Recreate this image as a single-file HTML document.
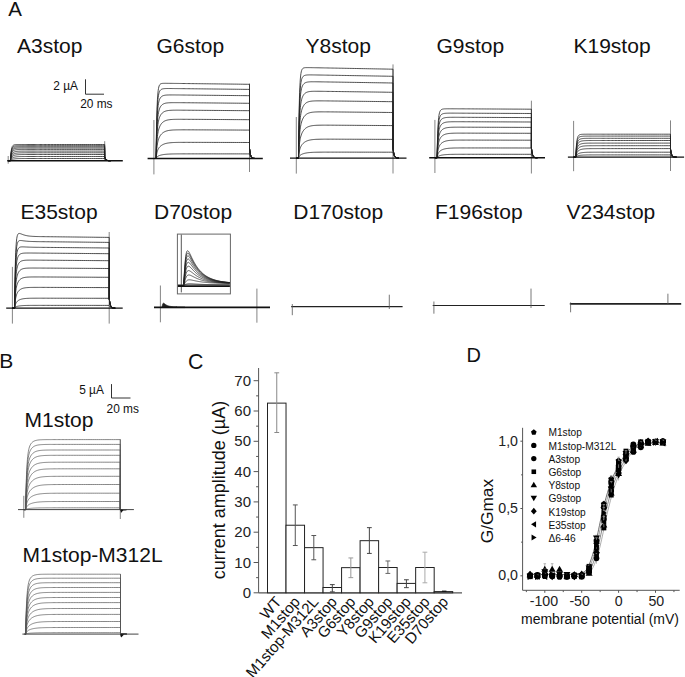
<!DOCTYPE html><html><head><meta charset="utf-8"><style>html,body{margin:0;padding:0;background:#fff;overflow:hidden;width:685px;height:677px;}svg{display:block;}</style></head><body>
<svg width="685" height="677" viewBox="0 0 685 677" font-family='"Liberation Sans", sans-serif'>
<rect width="685" height="677" fill="#fff"/>
<text x="8.2" y="16.4" font-size="20.5" text-anchor="start" fill="#111" >A</text>
<text x="-0.8" y="368" font-size="21" text-anchor="start" fill="#111" >B</text>
<text x="188" y="369.3" font-size="21.3" text-anchor="start" fill="#111" >C</text>
<text x="466.5" y="362" font-size="20" text-anchor="start" fill="#111" >D</text>
<text x="17" y="52.8" font-size="21" text-anchor="start" fill="#111" >A3stop</text>
<text x="156.5" y="52.8" font-size="21" text-anchor="start" fill="#111" >G6stop</text>
<text x="305.5" y="52.8" font-size="21" text-anchor="start" fill="#111" >Y8stop</text>
<text x="436.5" y="52.8" font-size="21" text-anchor="start" fill="#111" >G9stop</text>
<text x="573.5" y="52.8" font-size="21" text-anchor="start" fill="#111" >K19stop</text>
<text x="20.5" y="218.7" font-size="21" text-anchor="start" fill="#111" >E35stop</text>
<text x="154" y="218.7" font-size="21" text-anchor="start" fill="#111" >D70stop</text>
<text x="293.3" y="218.7" font-size="21" text-anchor="start" fill="#111" >D170stop</text>
<text x="435" y="218.7" font-size="21" text-anchor="start" fill="#111" >F196stop</text>
<text x="566.5" y="218.7" font-size="21" text-anchor="start" fill="#111" >V234stop</text>
<text x="53.3" y="89.6" font-size="11.9" text-anchor="start" fill="#111" >2 µA</text>
<text x="80.2" y="108.3" font-size="11.9" text-anchor="start" fill="#111" >20 ms</text>
<path d="M85.5 79.3 V94.2 H104" fill="none" stroke="#333" stroke-width="1"/>
<line x1="8.2" y1="156" x2="8.2" y2="163.7" stroke="#666" stroke-width="0.8" />
<line x1="104.7" y1="141.2" x2="104.7" y2="161" stroke="#666" stroke-width="0.8" />
<path d="M8.2 160.7 L10.4 160.7 L10.4 160.61 L10.42 160.3 L10.45 159.74 L10.5 158.94 L10.56 157.92 L10.64 156.74 L10.74 155.44 L10.86 154.08 L10.99 152.72 L11.15 151.41 L11.33 150.19 L11.52 149.1 L11.74 148.15 L11.97 147.34 L12.23 146.67 L12.51 146.14 L12.81 145.71 L13.13 145.39 L13.48 145.15 L13.85 144.97 L14.24 144.83 L14.65 144.74 L15.09 144.67 L15.55 144.62 L16.03 144.58 L16.54 144.56 L17.07 144.54 L17.63 144.53 L18.21 144.52 L18.81 144.51 L19.44 144.51 L20.09 144.51 L20.77 144.5 L21.48 144.5 L22.21 144.5 L22.96 144.5 L23.74 144.5 L24.55 144.5 L25.38 144.5 L26.24 144.5 L27.12 144.5 L28.03 144.5 L28.97 144.5 L29.93 144.5 L30.92 144.5 L31.94 144.5 L32.98 144.5 L34.05 144.5 L35.15 144.5 L36.28 144.5 L37.43 144.5 L38.61 144.5 L39.82 144.5 L41.05 144.5 L42.31 144.5 L43.6 144.5 L44.92 144.5 L46.27 144.5 L47.64 144.5 L49.05 144.5 L50.48 144.5 L51.94 144.5 L53.43 144.5 L54.94 144.5 L56.49 144.5 L58.06 144.5 L59.67 144.5 L61.3 144.5 L62.96 144.5 L64.65 144.5 L66.37 144.5 L68.12 144.5 L69.9 144.5 L71.7 144.5 L73.54 144.5 L75.41 144.5 L77.3 144.5 L79.23 144.5 L81.19 144.5 L83.17 144.5 L85.19 144.5 L87.24 144.5 L89.31 144.5 L91.42 144.5 L93.56 144.5 L95.72 144.5 L97.92 144.5 L100.15 144.5 L102.41 144.5 L104.7 144.5 L104.7 156.7 L105.2 158.27 L105.7 159.23 L106.2 159.81 L106.7 160.16 L107.2 160.37 L107.7 160.5 L108.2 160.58 L108.7 160.63 L109.2 160.66 L110.7 160.7" fill="none" stroke="#222" stroke-width="0.8" />
<path d="M8.2 160.7 L10.4 160.7 L10.4 160.62 L10.42 160.34 L10.45 159.85 L10.5 159.14 L10.56 158.23 L10.64 157.18 L10.74 156.02 L10.86 154.8 L10.99 153.58 L11.15 152.4 L11.33 151.29 L11.52 150.29 L11.74 149.41 L11.97 148.65 L12.23 148.02 L12.51 147.5 L12.81 147.08 L13.13 146.76 L13.48 146.5 L13.85 146.3 L14.24 146.15 L14.65 146.04 L15.09 145.95 L15.55 145.89 L16.03 145.84 L16.54 145.8 L17.07 145.77 L17.63 145.75 L18.21 145.74 L18.81 145.73 L19.44 145.72 L20.09 145.71 L20.77 145.71 L21.48 145.71 L22.21 145.7 L22.96 145.7 L23.74 145.7 L24.55 145.7 L25.38 145.7 L26.24 145.7 L27.12 145.7 L28.03 145.7 L28.97 145.7 L29.93 145.7 L30.92 145.7 L31.94 145.7 L32.98 145.7 L34.05 145.7 L35.15 145.7 L36.28 145.7 L37.43 145.7 L38.61 145.7 L39.82 145.7 L41.05 145.7 L42.31 145.7 L43.6 145.7 L44.92 145.7 L46.27 145.7 L47.64 145.7 L49.05 145.7 L50.48 145.7 L51.94 145.7 L53.43 145.7 L54.94 145.7 L56.49 145.7 L58.06 145.7 L59.67 145.7 L61.3 145.7 L62.96 145.7 L64.65 145.7 L66.37 145.7 L68.12 145.7 L69.9 145.7 L71.7 145.7 L73.54 145.7 L75.41 145.7 L77.3 145.7 L79.23 145.7 L81.19 145.7 L83.17 145.7 L85.19 145.7 L87.24 145.7 L89.31 145.7 L91.42 145.7 L93.56 145.7 L95.72 145.7 L97.92 145.7 L100.15 145.7 L102.41 145.7 L104.7 145.7 L104.7 156.7 L105.2 158.27 L105.7 159.23 L106.2 159.81 L106.7 160.16 L107.2 160.37 L107.7 160.5 L108.2 160.58 L108.7 160.63 L109.2 160.66 L110.7 160.7" fill="none" stroke="#222" stroke-width="0.8" />
<path d="M8.2 160.7 L10.4 160.7 L10.4 160.63 L10.42 160.39 L10.45 159.95 L10.5 159.32 L10.56 158.52 L10.64 157.59 L10.74 156.56 L10.86 155.47 L10.99 154.38 L11.15 153.32 L11.33 152.31 L11.52 151.4 L11.74 150.58 L11.97 149.88 L12.23 149.28 L12.51 148.78 L12.81 148.37 L13.13 148.04 L13.48 147.77 L13.85 147.56 L14.24 147.39 L14.65 147.26 L15.09 147.15 L15.55 147.07 L16.03 147.01 L16.54 146.96 L17.07 146.92 L17.63 146.89 L18.21 146.86 L18.81 146.85 L19.44 146.83 L20.09 146.82 L20.77 146.82 L21.48 146.81 L22.21 146.81 L22.96 146.81 L23.74 146.8 L24.55 146.8 L25.38 146.8 L26.24 146.8 L27.12 146.8 L28.03 146.8 L28.97 146.8 L29.93 146.8 L30.92 146.8 L31.94 146.8 L32.98 146.8 L34.05 146.8 L35.15 146.8 L36.28 146.8 L37.43 146.8 L38.61 146.8 L39.82 146.8 L41.05 146.8 L42.31 146.8 L43.6 146.8 L44.92 146.8 L46.27 146.8 L47.64 146.8 L49.05 146.8 L50.48 146.8 L51.94 146.8 L53.43 146.8 L54.94 146.8 L56.49 146.8 L58.06 146.8 L59.67 146.8 L61.3 146.8 L62.96 146.8 L64.65 146.8 L66.37 146.8 L68.12 146.8 L69.9 146.8 L71.7 146.8 L73.54 146.8 L75.41 146.8 L77.3 146.8 L79.23 146.8 L81.19 146.8 L83.17 146.8 L85.19 146.8 L87.24 146.8 L89.31 146.8 L91.42 146.8 L93.56 146.8 L95.72 146.8 L97.92 146.8 L100.15 146.8 L102.41 146.8 L104.7 146.8 L104.7 156.7 L105.2 158.27 L105.7 159.23 L106.2 159.81 L106.7 160.16 L107.2 160.37 L107.7 160.5 L108.2 160.58 L108.7 160.63 L109.2 160.66 L110.7 160.7" fill="none" stroke="#222" stroke-width="0.8" />
<path d="M8.2 160.7 L10.4 160.7 L10.4 160.64 L10.42 160.43 L10.45 160.05 L10.5 159.51 L10.56 158.82 L10.64 158 L10.74 157.11 L10.86 156.16 L10.99 155.2 L11.15 154.26 L11.33 153.37 L11.52 152.55 L11.74 151.81 L11.97 151.16 L12.23 150.6 L12.51 150.13 L12.81 149.73 L13.13 149.41 L13.48 149.13 L13.85 148.91 L14.24 148.73 L14.65 148.58 L15.09 148.46 L15.55 148.36 L16.03 148.28 L16.54 148.22 L17.07 148.17 L17.63 148.13 L18.21 148.1 L18.81 148.07 L19.44 148.05 L20.09 148.04 L20.77 148.03 L21.48 148.02 L22.21 148.01 L22.96 148.01 L23.74 148.01 L24.55 148 L25.38 148 L26.24 148 L27.12 148 L28.03 148 L28.97 148 L29.93 148 L30.92 148 L31.94 148 L32.98 148 L34.05 148 L35.15 148 L36.28 148 L37.43 148 L38.61 148 L39.82 148 L41.05 148 L42.31 148 L43.6 148 L44.92 148 L46.27 148 L47.64 148 L49.05 148 L50.48 148 L51.94 148 L53.43 148 L54.94 148 L56.49 148 L58.06 148 L59.67 148 L61.3 148 L62.96 148 L64.65 148 L66.37 148 L68.12 148 L69.9 148 L71.7 148 L73.54 148 L75.41 148 L77.3 148 L79.23 148 L81.19 148 L83.17 148 L85.19 148 L87.24 148 L89.31 148 L91.42 148 L93.56 148 L95.72 148 L97.92 148 L100.15 148 L102.41 148 L104.7 148 L104.7 156.7 L105.2 158.27 L105.7 159.23 L106.2 159.81 L106.7 160.16 L107.2 160.37 L107.7 160.5 L108.2 160.58 L108.7 160.63 L109.2 160.66 L110.7 160.7" fill="none" stroke="#222" stroke-width="0.8" />
<path d="M8.2 160.7 L10.4 160.7 L10.4 160.65 L10.42 160.47 L10.45 160.16 L10.5 159.7 L10.56 159.12 L10.64 158.44 L10.74 157.68 L10.86 156.88 L10.99 156.06 L11.15 155.26 L11.33 154.49 L11.52 153.78 L11.74 153.13 L11.97 152.55 L12.23 152.05 L12.51 151.61 L12.81 151.24 L13.13 150.93 L13.48 150.66 L13.85 150.44 L14.24 150.25 L14.65 150.09 L15.09 149.96 L15.55 149.85 L16.03 149.76 L16.54 149.68 L17.07 149.62 L17.63 149.57 L18.21 149.53 L18.81 149.5 L19.44 149.48 L20.09 149.46 L20.77 149.44 L21.48 149.43 L22.21 149.42 L22.96 149.42 L23.74 149.41 L24.55 149.41 L25.38 149.41 L26.24 149.4 L27.12 149.4 L28.03 149.4 L28.97 149.4 L29.93 149.4 L30.92 149.4 L31.94 149.4 L32.98 149.4 L34.05 149.4 L35.15 149.4 L36.28 149.4 L37.43 149.4 L38.61 149.4 L39.82 149.4 L41.05 149.4 L42.31 149.4 L43.6 149.4 L44.92 149.4 L46.27 149.4 L47.64 149.4 L49.05 149.4 L50.48 149.4 L51.94 149.4 L53.43 149.4 L54.94 149.4 L56.49 149.4 L58.06 149.4 L59.67 149.4 L61.3 149.4 L62.96 149.4 L64.65 149.4 L66.37 149.4 L68.12 149.4 L69.9 149.4 L71.7 149.4 L73.54 149.4 L75.41 149.4 L77.3 149.4 L79.23 149.4 L81.19 149.4 L83.17 149.4 L85.19 149.4 L87.24 149.4 L89.31 149.4 L91.42 149.4 L93.56 149.4 L95.72 149.4 L97.92 149.4 L100.15 149.4 L102.41 149.4 L104.7 149.4 L104.7 156.7 L105.2 158.27 L105.7 159.23 L106.2 159.81 L106.7 160.16 L107.2 160.37 L107.7 160.5 L108.2 160.58 L108.7 160.63 L109.2 160.66 L110.7 160.7" fill="none" stroke="#222" stroke-width="0.8" />
<path d="M8.2 160.7 L10.4 160.7 L10.4 160.66 L10.42 160.52 L10.45 160.27 L10.5 159.91 L10.56 159.44 L10.64 158.9 L10.74 158.29 L10.86 157.65 L10.99 156.99 L11.15 156.34 L11.33 155.71 L11.52 155.12 L11.74 154.58 L11.97 154.09 L12.23 153.66 L12.51 153.27 L12.81 152.94 L13.13 152.66 L13.48 152.41 L13.85 152.2 L14.24 152.01 L14.65 151.86 L15.09 151.72 L15.55 151.61 L16.03 151.51 L16.54 151.43 L17.07 151.37 L17.63 151.31 L18.21 151.26 L18.81 151.23 L19.44 151.2 L20.09 151.17 L20.77 151.16 L21.48 151.14 L22.21 151.13 L22.96 151.12 L23.74 151.12 L24.55 151.11 L25.38 151.11 L26.24 151.11 L27.12 151.1 L28.03 151.1 L28.97 151.1 L29.93 151.1 L30.92 151.1 L31.94 151.1 L32.98 151.1 L34.05 151.1 L35.15 151.1 L36.28 151.1 L37.43 151.1 L38.61 151.1 L39.82 151.1 L41.05 151.1 L42.31 151.1 L43.6 151.1 L44.92 151.1 L46.27 151.1 L47.64 151.1 L49.05 151.1 L50.48 151.1 L51.94 151.1 L53.43 151.1 L54.94 151.1 L56.49 151.1 L58.06 151.1 L59.67 151.1 L61.3 151.1 L62.96 151.1 L64.65 151.1 L66.37 151.1 L68.12 151.1 L69.9 151.1 L71.7 151.1 L73.54 151.1 L75.41 151.1 L77.3 151.1 L79.23 151.1 L81.19 151.1 L83.17 151.1 L85.19 151.1 L87.24 151.1 L89.31 151.1 L91.42 151.1 L93.56 151.1 L95.72 151.1 L97.92 151.1 L100.15 151.1 L102.41 151.1 L104.7 151.1 L104.7 156.7 L105.2 158.27 L105.7 159.23 L106.2 159.81 L106.7 160.16 L107.2 160.37 L107.7 160.5 L108.2 160.58 L108.7 160.63 L109.2 160.66 L110.7 160.7" fill="none" stroke="#222" stroke-width="0.8" />
<path d="M8.2 160.7 L10.4 160.7 L10.4 160.67 L10.42 160.56 L10.45 160.37 L10.5 160.09 L10.56 159.74 L10.64 159.32 L10.74 158.85 L10.86 158.36 L10.99 157.84 L11.15 157.33 L11.33 156.83 L11.52 156.36 L11.74 155.93 L11.97 155.53 L12.23 155.17 L12.51 154.85 L12.81 154.56 L13.13 154.31 L13.48 154.09 L13.85 153.9 L14.24 153.73 L14.65 153.58 L15.09 153.45 L15.55 153.34 L16.03 153.25 L16.54 153.16 L17.07 153.09 L17.63 153.04 L18.21 152.99 L18.81 152.95 L19.44 152.92 L20.09 152.89 L20.77 152.87 L21.48 152.85 L22.21 152.84 L22.96 152.83 L23.74 152.82 L24.55 152.82 L25.38 152.81 L26.24 152.81 L27.12 152.81 L28.03 152.8 L28.97 152.8 L29.93 152.8 L30.92 152.8 L31.94 152.8 L32.98 152.8 L34.05 152.8 L35.15 152.8 L36.28 152.8 L37.43 152.8 L38.61 152.8 L39.82 152.8 L41.05 152.8 L42.31 152.8 L43.6 152.8 L44.92 152.8 L46.27 152.8 L47.64 152.8 L49.05 152.8 L50.48 152.8 L51.94 152.8 L53.43 152.8 L54.94 152.8 L56.49 152.8 L58.06 152.8 L59.67 152.8 L61.3 152.8 L62.96 152.8 L64.65 152.8 L66.37 152.8 L68.12 152.8 L69.9 152.8 L71.7 152.8 L73.54 152.8 L75.41 152.8 L77.3 152.8 L79.23 152.8 L81.19 152.8 L83.17 152.8 L85.19 152.8 L87.24 152.8 L89.31 152.8 L91.42 152.8 L93.56 152.8 L95.72 152.8 L97.92 152.8 L100.15 152.8 L102.41 152.8 L104.7 152.8 L104.7 156.7 L105.2 158.27 L105.7 159.23 L106.2 159.81 L106.7 160.16 L107.2 160.37 L107.7 160.5 L108.2 160.58 L108.7 160.63 L109.2 160.66 L110.7 160.7" fill="none" stroke="#222" stroke-width="0.8" />
<path d="M8.2 160.7 L10.4 160.7 L10.4 160.68 L10.42 160.6 L10.45 160.46 L10.5 160.26 L10.56 160.01 L10.64 159.7 L10.74 159.36 L10.86 158.99 L10.99 158.62 L11.15 158.23 L11.33 157.86 L11.52 157.51 L11.74 157.17 L11.97 156.86 L12.23 156.58 L12.51 156.32 L12.81 156.09 L13.13 155.88 L13.48 155.7 L13.85 155.53 L14.24 155.38 L14.65 155.25 L15.09 155.13 L15.55 155.03 L16.03 154.94 L16.54 154.87 L17.07 154.8 L17.63 154.74 L18.21 154.7 L18.81 154.66 L19.44 154.62 L20.09 154.6 L20.77 154.58 L21.48 154.56 L22.21 154.54 L22.96 154.53 L23.74 154.53 L24.55 154.52 L25.38 154.51 L26.24 154.51 L27.12 154.51 L28.03 154.51 L28.97 154.5 L29.93 154.5 L30.92 154.5 L31.94 154.5 L32.98 154.5 L34.05 154.5 L35.15 154.5 L36.28 154.5 L37.43 154.5 L38.61 154.5 L39.82 154.5 L41.05 154.5 L42.31 154.5 L43.6 154.5 L44.92 154.5 L46.27 154.5 L47.64 154.5 L49.05 154.5 L50.48 154.5 L51.94 154.5 L53.43 154.5 L54.94 154.5 L56.49 154.5 L58.06 154.5 L59.67 154.5 L61.3 154.5 L62.96 154.5 L64.65 154.5 L66.37 154.5 L68.12 154.5 L69.9 154.5 L71.7 154.5 L73.54 154.5 L75.41 154.5 L77.3 154.5 L79.23 154.5 L81.19 154.5 L83.17 154.5 L85.19 154.5 L87.24 154.5 L89.31 154.5 L91.42 154.5 L93.56 154.5 L95.72 154.5 L97.92 154.5 L100.15 154.5 L102.41 154.5 L104.7 154.5 L104.7 156.7 L105.2 158.27 L105.7 159.23 L106.2 159.81 L106.7 160.16 L107.2 160.37 L107.7 160.5 L108.2 160.58 L108.7 160.63 L109.2 160.66 L110.7 160.7" fill="none" stroke="#222" stroke-width="0.8" />
<path d="M8.2 160.7 L10.4 160.7 L10.4 160.69 L10.42 160.64 L10.45 160.55 L10.5 160.43 L10.56 160.27 L10.64 160.08 L10.74 159.87 L10.86 159.64 L10.99 159.4 L11.15 159.16 L11.33 158.92 L11.52 158.68 L11.74 158.46 L11.97 158.26 L12.23 158.06 L12.51 157.89 L12.81 157.72 L13.13 157.58 L13.48 157.44 L13.85 157.32 L14.24 157.21 L14.65 157.11 L15.09 157.02 L15.55 156.94 L16.03 156.87 L16.54 156.81 L17.07 156.76 L17.63 156.71 L18.21 156.67 L18.81 156.64 L19.44 156.61 L20.09 156.59 L20.77 156.57 L21.48 156.55 L22.21 156.54 L22.96 156.53 L23.74 156.52 L24.55 156.52 L25.38 156.51 L26.24 156.51 L27.12 156.51 L28.03 156.51 L28.97 156.5 L29.93 156.5 L30.92 156.5 L31.94 156.5 L32.98 156.5 L34.05 156.5 L35.15 156.5 L36.28 156.5 L37.43 156.5 L38.61 156.5 L39.82 156.5 L41.05 156.5 L42.31 156.5 L43.6 156.5 L44.92 156.5 L46.27 156.5 L47.64 156.5 L49.05 156.5 L50.48 156.5 L51.94 156.5 L53.43 156.5 L54.94 156.5 L56.49 156.5 L58.06 156.5 L59.67 156.5 L61.3 156.5 L62.96 156.5 L64.65 156.5 L66.37 156.5 L68.12 156.5 L69.9 156.5 L71.7 156.5 L73.54 156.5 L75.41 156.5 L77.3 156.5 L79.23 156.5 L81.19 156.5 L83.17 156.5 L85.19 156.5 L87.24 156.5 L89.31 156.5 L91.42 156.5 L93.56 156.5 L95.72 156.5 L97.92 156.5 L100.15 156.5 L102.41 156.5 L104.7 156.5 L104.7 156.7 L105.2 158.27 L105.7 159.23 L106.2 159.81 L106.7 160.16 L107.2 160.37 L107.7 160.5 L108.2 160.58 L108.7 160.63 L109.2 160.66 L110.7 160.7" fill="none" stroke="#222" stroke-width="0.8" />
<path d="M8.2 160.7 L10.4 160.7 L10.4 160.69 L10.42 160.67 L10.45 160.63 L10.5 160.57 L10.56 160.5 L10.64 160.41 L10.74 160.3 L10.86 160.19 L10.99 160.08 L11.15 159.96 L11.33 159.84 L11.52 159.72 L11.74 159.61 L11.97 159.5 L12.23 159.4 L12.51 159.31 L12.81 159.22 L13.13 159.14 L13.48 159.07 L13.85 159 L14.24 158.93 L14.65 158.88 L15.09 158.82 L15.55 158.78 L16.03 158.74 L16.54 158.7 L17.07 158.67 L17.63 158.64 L18.21 158.61 L18.81 158.59 L19.44 158.58 L20.09 158.56 L20.77 158.55 L21.48 158.54 L22.21 158.53 L22.96 158.52 L23.74 158.52 L24.55 158.51 L25.38 158.51 L26.24 158.51 L27.12 158.51 L28.03 158.5 L28.97 158.5 L29.93 158.5 L30.92 158.5 L31.94 158.5 L32.98 158.5 L34.05 158.5 L35.15 158.5 L36.28 158.5 L37.43 158.5 L38.61 158.5 L39.82 158.5 L41.05 158.5 L42.31 158.5 L43.6 158.5 L44.92 158.5 L46.27 158.5 L47.64 158.5 L49.05 158.5 L50.48 158.5 L51.94 158.5 L53.43 158.5 L54.94 158.5 L56.49 158.5 L58.06 158.5 L59.67 158.5 L61.3 158.5 L62.96 158.5 L64.65 158.5 L66.37 158.5 L68.12 158.5 L69.9 158.5 L71.7 158.5 L73.54 158.5 L75.41 158.5 L77.3 158.5 L79.23 158.5 L81.19 158.5 L83.17 158.5 L85.19 158.5 L87.24 158.5 L89.31 158.5 L91.42 158.5 L93.56 158.5 L95.72 158.5 L97.92 158.5 L100.15 158.5 L102.41 158.5 L104.7 158.5 L104.7 158.5 L105.2 159.37 L105.7 159.89 L106.2 160.21 L106.7 160.4 L107.2 160.52 L107.7 160.59 L108.2 160.63 L108.7 160.66 L109.2 160.68 L110.7 160.7" fill="none" stroke="#222" stroke-width="0.8" />
<line x1="7.2" y1="160.7" x2="122.8" y2="160.7" stroke="#111" stroke-width="1.4" />
<line x1="153.9" y1="120" x2="153.9" y2="174.4" stroke="#666" stroke-width="0.8" />
<line x1="249.5" y1="83.5" x2="249.5" y2="172" stroke="#666" stroke-width="0.8" />
<path d="M153.9 158.5 L156.1 158.5 L156.1 158.09 L156.12 156.63 L156.15 154.01 L156.2 150.28 L156.26 145.55 L156.34 140.03 L156.44 133.96 L156.55 127.61 L156.69 121.25 L156.84 115.12 L157.02 109.43 L157.21 104.3 L157.42 99.83 L157.66 96.05 L157.91 92.94 L158.19 90.45 L158.49 88.5 L158.81 87.02 L159.15 85.92 L159.51 85.11 L159.9 84.53 L160.31 84.13 L160.74 83.84 L161.2 83.65 L161.68 83.52 L162.18 83.44 L162.71 83.38 L163.26 83.35 L163.83 83.33 L164.43 83.32 L165.05 83.31 L165.7 83.31 L166.37 83.32 L167.07 83.32 L167.79 83.33 L168.54 83.34 L169.31 83.35 L170.11 83.35 L170.94 83.36 L171.79 83.37 L172.66 83.38 L173.56 83.4 L174.49 83.41 L175.45 83.42 L176.43 83.43 L177.43 83.44 L178.47 83.45 L179.53 83.47 L180.62 83.48 L181.73 83.49 L182.87 83.51 L184.04 83.52 L185.24 83.53 L186.46 83.55 L187.71 83.56 L188.99 83.58 L190.29 83.59 L191.63 83.61 L192.99 83.63 L194.38 83.64 L195.8 83.66 L197.24 83.68 L198.72 83.69 L200.22 83.71 L201.75 83.73 L203.31 83.75 L204.9 83.77 L206.51 83.79 L208.16 83.81 L209.83 83.83 L211.53 83.85 L213.27 83.87 L215.03 83.89 L216.82 83.91 L218.64 83.93 L220.49 83.95 L222.37 83.98 L224.27 84 L226.21 84.02 L228.18 84.05 L230.18 84.07 L232.2 84.09 L234.26 84.12 L236.35 84.14 L238.46 84.17 L240.61 84.19 L242.79 84.22 L244.99 84.25 L247.23 84.27 L249.5 84.3 L249.5 148.5 L250 152.43 L250.5 154.82 L251 156.27 L251.5 157.15 L252 157.68 L252.5 158 L253 158.2 L253.5 158.32 L254 158.39 L255.5 158.5" fill="none" stroke="#222" stroke-width="0.8" />
<path d="M153.9 158.5 L156.1 158.5 L156.1 158.14 L156.12 156.87 L156.15 154.59 L156.2 151.32 L156.26 147.19 L156.34 142.34 L156.44 137 L156.55 131.4 L156.69 125.75 L156.84 120.28 L157.02 115.15 L157.21 110.48 L157.42 106.36 L157.66 102.81 L157.91 99.82 L158.19 97.36 L158.49 95.38 L158.81 93.8 L159.15 92.56 L159.51 91.59 L159.9 90.84 L160.31 90.27 L160.74 89.83 L161.2 89.49 L161.68 89.23 L162.18 89.03 L162.71 88.88 L163.26 88.77 L163.83 88.69 L164.43 88.63 L165.05 88.58 L165.7 88.56 L166.37 88.54 L167.07 88.53 L167.79 88.52 L168.54 88.52 L169.31 88.52 L170.11 88.53 L170.94 88.53 L171.79 88.54 L172.66 88.55 L173.56 88.56 L174.49 88.57 L175.45 88.58 L176.43 88.59 L177.43 88.6 L178.47 88.61 L179.53 88.62 L180.62 88.64 L181.73 88.65 L182.87 88.66 L184.04 88.67 L185.24 88.69 L186.46 88.7 L187.71 88.71 L188.99 88.73 L190.29 88.74 L191.63 88.76 L192.99 88.77 L194.38 88.79 L195.8 88.8 L197.24 88.82 L198.72 88.84 L200.22 88.85 L201.75 88.87 L203.31 88.89 L204.9 88.91 L206.51 88.92 L208.16 88.94 L209.83 88.96 L211.53 88.98 L213.27 89 L215.03 89.02 L216.82 89.04 L218.64 89.06 L220.49 89.08 L222.37 89.1 L224.27 89.12 L226.21 89.14 L228.18 89.16 L230.18 89.19 L232.2 89.21 L234.26 89.23 L236.35 89.25 L238.46 89.28 L240.61 89.3 L242.79 89.33 L244.99 89.35 L247.23 89.37 L249.5 89.4 L249.5 148.5 L250 152.43 L250.5 154.82 L251 156.27 L251.5 157.15 L252 157.68 L252.5 158 L253 158.2 L253.5 158.32 L254 158.39 L255.5 158.5" fill="none" stroke="#222" stroke-width="0.8" />
<path d="M153.9 158.5 L156.1 158.5 L156.1 158.2 L156.12 157.12 L156.15 155.2 L156.2 152.44 L156.26 148.94 L156.34 144.84 L156.44 140.3 L156.55 135.52 L156.69 130.69 L156.84 125.97 L157.02 121.51 L157.21 117.42 L157.42 113.76 L157.66 110.56 L157.91 107.81 L158.19 105.5 L158.49 103.56 L158.81 101.97 L159.15 100.66 L159.51 99.58 L159.9 98.7 L160.31 97.97 L160.74 97.37 L161.2 96.88 L161.68 96.48 L162.18 96.14 L162.71 95.87 L163.26 95.65 L163.83 95.47 L164.43 95.33 L165.05 95.22 L165.7 95.14 L166.37 95.07 L167.07 95.02 L167.79 94.99 L168.54 94.97 L169.31 94.95 L170.11 94.94 L170.94 94.94 L171.79 94.94 L172.66 94.94 L173.56 94.94 L174.49 94.95 L175.45 94.96 L176.43 94.97 L177.43 94.97 L178.47 94.98 L179.53 94.99 L180.62 95.01 L181.73 95.02 L182.87 95.03 L184.04 95.04 L185.24 95.05 L186.46 95.06 L187.71 95.08 L188.99 95.09 L190.29 95.1 L191.63 95.12 L192.99 95.13 L194.38 95.14 L195.8 95.16 L197.24 95.17 L198.72 95.19 L200.22 95.2 L201.75 95.22 L203.31 95.23 L204.9 95.25 L206.51 95.27 L208.16 95.28 L209.83 95.3 L211.53 95.32 L213.27 95.33 L215.03 95.35 L216.82 95.37 L218.64 95.39 L220.49 95.41 L222.37 95.43 L224.27 95.45 L226.21 95.47 L228.18 95.48 L230.18 95.51 L232.2 95.53 L234.26 95.55 L236.35 95.57 L238.46 95.59 L240.61 95.61 L242.79 95.63 L244.99 95.65 L247.23 95.68 L249.5 95.7 L249.5 148.5 L250 152.43 L250.5 154.82 L251 156.27 L251.5 157.15 L252 157.68 L252.5 158 L253 158.2 L253.5 158.32 L254 158.39 L255.5 158.5" fill="none" stroke="#222" stroke-width="0.8" />
<path d="M153.9 158.5 L156.1 158.5 L156.1 158.26 L156.12 157.39 L156.15 155.83 L156.2 153.6 L156.26 150.76 L156.34 147.42 L156.44 143.73 L156.55 139.82 L156.69 135.85 L156.84 131.96 L157.02 128.25 L157.21 124.82 L157.42 121.71 L157.66 118.96 L157.91 116.55 L158.19 114.47 L158.49 112.69 L158.81 111.17 L159.15 109.88 L159.51 108.77 L159.9 107.82 L160.31 107.01 L160.74 106.31 L161.2 105.7 L161.68 105.18 L162.18 104.73 L162.71 104.34 L163.26 104.02 L163.83 103.74 L164.43 103.51 L165.05 103.32 L165.7 103.16 L166.37 103.04 L167.07 102.94 L167.79 102.86 L168.54 102.8 L169.31 102.75 L170.11 102.72 L170.94 102.69 L171.79 102.68 L172.66 102.67 L173.56 102.66 L174.49 102.66 L175.45 102.66 L176.43 102.66 L177.43 102.67 L178.47 102.68 L179.53 102.68 L180.62 102.69 L181.73 102.7 L182.87 102.71 L184.04 102.72 L185.24 102.73 L186.46 102.74 L187.71 102.75 L188.99 102.76 L190.29 102.78 L191.63 102.79 L192.99 102.8 L194.38 102.81 L195.8 102.82 L197.24 102.84 L198.72 102.85 L200.22 102.86 L201.75 102.88 L203.31 102.89 L204.9 102.9 L206.51 102.92 L208.16 102.93 L209.83 102.95 L211.53 102.96 L213.27 102.98 L215.03 102.99 L216.82 103.01 L218.64 103.03 L220.49 103.04 L222.37 103.06 L224.27 103.08 L226.21 103.09 L228.18 103.11 L230.18 103.13 L232.2 103.15 L234.26 103.16 L236.35 103.18 L238.46 103.2 L240.61 103.22 L242.79 103.24 L244.99 103.26 L247.23 103.28 L249.5 103.3 L249.5 148.5 L250 152.43 L250.5 154.82 L251 156.27 L251.5 157.15 L252 157.68 L252.5 158 L253 158.2 L253.5 158.32 L254 158.39 L255.5 158.5" fill="none" stroke="#222" stroke-width="0.8" />
<path d="M153.9 158.5 L156.1 158.5 L156.1 158.31 L156.12 157.62 L156.15 156.39 L156.2 154.63 L156.26 152.38 L156.34 149.73 L156.44 146.79 L156.55 143.67 L156.69 140.49 L156.84 137.35 L157.02 134.34 L157.21 131.53 L157.42 128.96 L157.66 126.64 L157.91 124.59 L158.19 122.77 L158.49 121.18 L158.81 119.79 L159.15 118.57 L159.51 117.49 L159.9 116.54 L160.31 115.69 L160.74 114.93 L161.2 114.26 L161.68 113.66 L162.18 113.12 L162.71 112.65 L163.26 112.24 L163.83 111.88 L164.43 111.57 L165.05 111.31 L165.7 111.08 L166.37 110.89 L167.07 110.73 L167.79 110.61 L168.54 110.5 L169.31 110.42 L170.11 110.35 L170.94 110.3 L171.79 110.26 L172.66 110.23 L173.56 110.2 L174.49 110.19 L175.45 110.18 L176.43 110.17 L177.43 110.17 L178.47 110.17 L179.53 110.18 L180.62 110.18 L181.73 110.19 L182.87 110.19 L184.04 110.2 L185.24 110.21 L186.46 110.22 L187.71 110.23 L188.99 110.24 L190.29 110.25 L191.63 110.26 L192.99 110.27 L194.38 110.28 L195.8 110.29 L197.24 110.3 L198.72 110.31 L200.22 110.32 L201.75 110.33 L203.31 110.35 L204.9 110.36 L206.51 110.37 L208.16 110.38 L209.83 110.4 L211.53 110.41 L213.27 110.42 L215.03 110.44 L216.82 110.45 L218.64 110.46 L220.49 110.48 L222.37 110.49 L224.27 110.51 L226.21 110.52 L228.18 110.54 L230.18 110.55 L232.2 110.57 L234.26 110.58 L236.35 110.6 L238.46 110.62 L240.61 110.63 L242.79 110.65 L244.99 110.67 L247.23 110.68 L249.5 110.7 L249.5 148.5 L250 152.43 L250.5 154.82 L251 156.27 L251.5 157.15 L252 157.68 L252.5 158 L253 158.2 L253.5 158.32 L254 158.39 L255.5 158.5" fill="none" stroke="#222" stroke-width="0.8" />
<path d="M153.9 158.5 L156.1 158.5 L156.1 158.36 L156.12 157.86 L156.15 156.95 L156.2 155.66 L156.26 154.01 L156.34 152.06 L156.44 149.89 L156.55 147.58 L156.69 145.21 L156.84 142.86 L157.02 140.59 L157.21 138.45 L157.42 136.47 L157.66 134.66 L157.91 133.03 L158.19 131.56 L158.49 130.25 L158.81 129.07 L159.15 128.01 L159.51 127.05 L159.9 126.17 L160.31 125.38 L160.74 124.65 L161.2 123.99 L161.68 123.39 L162.18 122.84 L162.71 122.34 L163.26 121.9 L163.83 121.5 L164.43 121.15 L165.05 120.84 L165.7 120.58 L166.37 120.35 L167.07 120.15 L167.79 119.98 L168.54 119.84 L169.31 119.72 L170.11 119.62 L170.94 119.54 L171.79 119.48 L172.66 119.43 L173.56 119.39 L174.49 119.36 L175.45 119.34 L176.43 119.32 L177.43 119.31 L178.47 119.3 L179.53 119.3 L180.62 119.29 L181.73 119.29 L182.87 119.3 L184.04 119.3 L185.24 119.31 L186.46 119.31 L187.71 119.32 L188.99 119.33 L190.29 119.33 L191.63 119.34 L192.99 119.35 L194.38 119.36 L195.8 119.37 L197.24 119.37 L198.72 119.38 L200.22 119.39 L201.75 119.4 L203.31 119.41 L204.9 119.42 L206.51 119.43 L208.16 119.44 L209.83 119.45 L211.53 119.46 L213.27 119.47 L215.03 119.49 L216.82 119.5 L218.64 119.51 L220.49 119.52 L222.37 119.53 L224.27 119.54 L226.21 119.55 L228.18 119.57 L230.18 119.58 L232.2 119.59 L234.26 119.61 L236.35 119.62 L238.46 119.63 L240.61 119.64 L242.79 119.66 L244.99 119.67 L247.23 119.69 L249.5 119.7 L249.5 148.5 L250 152.43 L250.5 154.82 L251 156.27 L251.5 157.15 L252 157.68 L252.5 158 L253 158.2 L253.5 158.32 L254 158.39 L255.5 158.5" fill="none" stroke="#222" stroke-width="0.8" />
<path d="M153.9 158.5 L156.1 158.5 L156.1 158.41 L156.12 158.08 L156.15 157.49 L156.2 156.65 L156.26 155.56 L156.34 154.29 L156.44 152.86 L156.55 151.33 L156.69 149.76 L156.84 148.18 L157.02 146.65 L157.21 145.2 L157.42 143.83 L157.66 142.57 L157.91 141.41 L158.19 140.35 L158.49 139.38 L158.81 138.49 L159.15 137.67 L159.51 136.91 L159.9 136.21 L160.31 135.56 L160.74 134.95 L161.2 134.39 L161.68 133.87 L162.18 133.38 L162.71 132.94 L163.26 132.53 L163.83 132.17 L164.43 131.84 L165.05 131.54 L165.7 131.27 L166.37 131.04 L167.07 130.84 L167.79 130.66 L168.54 130.51 L169.31 130.38 L170.11 130.27 L170.94 130.18 L171.79 130.1 L172.66 130.03 L173.56 129.98 L174.49 129.94 L175.45 129.91 L176.43 129.88 L177.43 129.86 L178.47 129.85 L179.53 129.83 L180.62 129.83 L181.73 129.82 L182.87 129.82 L184.04 129.82 L185.24 129.82 L186.46 129.82 L187.71 129.83 L188.99 129.83 L190.29 129.83 L191.63 129.84 L192.99 129.84 L194.38 129.85 L195.8 129.86 L197.24 129.86 L198.72 129.87 L200.22 129.88 L201.75 129.88 L203.31 129.89 L204.9 129.9 L206.51 129.9 L208.16 129.91 L209.83 129.92 L211.53 129.93 L213.27 129.93 L215.03 129.94 L216.82 129.95 L218.64 129.96 L220.49 129.97 L222.37 129.98 L224.27 129.98 L226.21 129.99 L228.18 130 L230.18 130.01 L232.2 130.02 L234.26 130.03 L236.35 130.04 L238.46 130.05 L240.61 130.06 L242.79 130.07 L244.99 130.08 L247.23 130.09 L249.5 130.1 L249.5 148.5 L250 152.43 L250.5 154.82 L251 156.27 L251.5 157.15 L252 157.68 L252.5 158 L253 158.2 L253.5 158.32 L254 158.39 L255.5 158.5" fill="none" stroke="#222" stroke-width="0.8" />
<path d="M153.9 158.5 L156.1 158.5 L156.1 158.45 L156.12 158.29 L156.15 158 L156.2 157.58 L156.26 157.05 L156.34 156.41 L156.44 155.7 L156.55 154.93 L156.69 154.13 L156.84 153.33 L157.02 152.55 L157.21 151.79 L157.42 151.07 L157.66 150.4 L157.91 149.77 L158.19 149.18 L158.49 148.63 L158.81 148.12 L159.15 147.64 L159.51 147.19 L159.9 146.76 L160.31 146.36 L160.74 145.98 L161.2 145.62 L161.68 145.29 L162.18 144.97 L162.71 144.68 L163.26 144.4 L163.83 144.15 L164.43 143.92 L165.05 143.71 L165.7 143.53 L166.37 143.36 L167.07 143.21 L167.79 143.07 L168.54 142.96 L169.31 142.85 L170.11 142.77 L170.94 142.69 L171.79 142.63 L172.66 142.57 L173.56 142.52 L174.49 142.49 L175.45 142.46 L176.43 142.43 L177.43 142.41 L178.47 142.39 L179.53 142.38 L180.62 142.37 L181.73 142.36 L182.87 142.36 L184.04 142.35 L185.24 142.35 L186.46 142.35 L187.71 142.35 L188.99 142.35 L190.29 142.35 L191.63 142.36 L192.99 142.36 L194.38 142.36 L195.8 142.36 L197.24 142.37 L198.72 142.37 L200.22 142.37 L201.75 142.38 L203.31 142.38 L204.9 142.39 L206.51 142.39 L208.16 142.39 L209.83 142.4 L211.53 142.4 L213.27 142.41 L215.03 142.41 L216.82 142.42 L218.64 142.42 L220.49 142.43 L222.37 142.43 L224.27 142.44 L226.21 142.44 L228.18 142.45 L230.18 142.45 L232.2 142.46 L234.26 142.46 L236.35 142.47 L238.46 142.47 L240.61 142.48 L242.79 142.48 L244.99 142.49 L247.23 142.49 L249.5 142.5 L249.5 148.5 L250 152.43 L250.5 154.82 L251 156.27 L251.5 157.15 L252 157.68 L252.5 158 L253 158.2 L253.5 158.32 L254 158.39 L255.5 158.5" fill="none" stroke="#222" stroke-width="0.8" />
<path d="M153.9 158.5 L156.1 158.5 L156.1 158.49 L156.12 158.45 L156.15 158.38 L156.2 158.27 L156.26 158.14 L156.34 157.98 L156.44 157.8 L156.55 157.61 L156.69 157.41 L156.84 157.2 L157.02 157 L157.21 156.8 L157.42 156.61 L157.66 156.42 L157.91 156.25 L158.19 156.09 L158.49 155.93 L158.81 155.78 L159.15 155.64 L159.51 155.5 L159.9 155.37 L160.31 155.25 L160.74 155.13 L161.2 155.01 L161.68 154.91 L162.18 154.8 L162.71 154.71 L163.26 154.62 L163.83 154.53 L164.43 154.45 L165.05 154.38 L165.7 154.32 L166.37 154.26 L167.07 154.2 L167.79 154.15 L168.54 154.11 L169.31 154.07 L170.11 154.04 L170.94 154.01 L171.79 153.98 L172.66 153.96 L173.56 153.94 L174.49 153.93 L175.45 153.91 L176.43 153.9 L177.43 153.89 L178.47 153.88 L179.53 153.88 L180.62 153.87 L181.73 153.87 L182.87 153.87 L184.04 153.86 L185.24 153.86 L186.46 153.86 L187.71 153.86 L188.99 153.86 L190.29 153.86 L191.63 153.86 L192.99 153.86 L194.38 153.86 L195.8 153.86 L197.24 153.86 L198.72 153.86 L200.22 153.86 L201.75 153.87 L203.31 153.87 L204.9 153.87 L206.51 153.87 L208.16 153.87 L209.83 153.87 L211.53 153.87 L213.27 153.87 L215.03 153.87 L216.82 153.88 L218.64 153.88 L220.49 153.88 L222.37 153.88 L224.27 153.88 L226.21 153.88 L228.18 153.88 L230.18 153.89 L232.2 153.89 L234.26 153.89 L236.35 153.89 L238.46 153.89 L240.61 153.89 L242.79 153.9 L244.99 153.9 L247.23 153.9 L249.5 153.9 L249.5 153.9 L250 155.71 L250.5 156.81 L251 157.47 L251.5 157.88 L252 158.12 L252.5 158.27 L253 158.36 L253.5 158.42 L254 158.45 L255.5 158.5" fill="none" stroke="#222" stroke-width="0.8" />
<line x1="147.6" y1="158.5" x2="262.8" y2="158.5" stroke="#111" stroke-width="1.4" />
<line x1="296.3" y1="117" x2="296.3" y2="173.6" stroke="#666" stroke-width="0.8" />
<line x1="393" y1="64.4" x2="393" y2="173.5" stroke="#666" stroke-width="0.8" />
<path d="M296.3 158.1 L298.5 158.1 L298.5 157.6 L298.52 155.82 L298.55 152.64 L298.6 148.09 L298.66 142.34 L298.74 135.64 L298.84 128.27 L298.96 120.58 L299.1 112.89 L299.25 105.5 L299.43 98.63 L299.62 92.48 L299.84 87.12 L300.08 82.61 L300.33 78.9 L300.61 75.95 L300.92 73.65 L301.24 71.9 L301.59 70.61 L301.95 69.67 L302.35 69 L302.76 68.53 L303.2 68.2 L303.66 67.98 L304.14 67.84 L304.65 67.74 L305.18 67.68 L305.74 67.64 L306.32 67.62 L306.93 67.62 L307.56 67.61 L308.21 67.62 L308.9 67.63 L309.6 67.64 L310.33 67.65 L311.09 67.66 L311.87 67.67 L312.68 67.69 L313.51 67.7 L314.37 67.72 L315.26 67.74 L316.17 67.75 L317.11 67.77 L318.07 67.79 L319.07 67.81 L320.09 67.83 L321.13 67.85 L322.2 67.87 L323.3 67.89 L324.43 67.91 L325.59 67.93 L326.77 67.95 L327.98 67.98 L329.22 68 L330.48 68.02 L331.77 68.05 L333.1 68.07 L334.45 68.1 L335.82 68.12 L337.23 68.15 L338.66 68.18 L340.13 68.21 L341.62 68.23 L343.14 68.26 L344.69 68.29 L346.26 68.32 L347.87 68.35 L349.51 68.38 L351.17 68.41 L352.86 68.44 L354.59 68.48 L356.34 68.51 L358.12 68.54 L359.93 68.58 L361.78 68.61 L363.65 68.65 L365.55 68.68 L367.48 68.72 L369.44 68.76 L371.43 68.79 L373.45 68.83 L375.5 68.87 L377.58 68.91 L379.69 68.95 L381.83 68.99 L384.01 69.03 L386.21 69.07 L388.44 69.11 L390.71 69.16 L393 69.2 L393 148.1 L393.5 152.03 L394 154.42 L394.5 155.87 L395 156.75 L395.5 157.28 L396 157.6 L396.5 157.8 L397 157.92 L397.5 157.99 L399 158.1" fill="none" stroke="#222" stroke-width="0.8" />
<path d="M296.3 158.1 L298.5 158.1 L298.5 157.67 L298.52 156.13 L298.55 153.39 L298.6 149.47 L298.66 144.5 L298.74 138.69 L298.84 132.28 L298.96 125.57 L299.1 118.83 L299.25 112.3 L299.43 106.19 L299.62 100.64 L299.84 95.76 L300.08 91.56 L300.33 88.04 L300.61 85.16 L300.92 82.83 L301.24 80.98 L301.59 79.53 L301.95 78.41 L302.35 77.54 L302.76 76.88 L303.2 76.37 L303.66 75.98 L304.14 75.68 L304.65 75.46 L305.18 75.29 L305.74 75.16 L306.32 75.07 L306.93 75 L307.56 74.96 L308.21 74.93 L308.9 74.91 L309.6 74.9 L310.33 74.9 L311.09 74.9 L311.87 74.91 L312.68 74.92 L313.51 74.93 L314.37 74.94 L315.26 74.96 L316.17 74.97 L317.11 74.99 L318.07 75 L319.07 75.02 L320.09 75.04 L321.13 75.06 L322.2 75.07 L323.3 75.09 L324.43 75.11 L325.59 75.13 L326.77 75.15 L327.98 75.17 L329.22 75.2 L330.48 75.22 L331.77 75.24 L333.1 75.26 L334.45 75.29 L335.82 75.31 L337.23 75.33 L338.66 75.36 L340.13 75.38 L341.62 75.41 L343.14 75.44 L344.69 75.46 L346.26 75.49 L347.87 75.52 L349.51 75.55 L351.17 75.58 L352.86 75.61 L354.59 75.63 L356.34 75.67 L358.12 75.7 L359.93 75.73 L361.78 75.76 L363.65 75.79 L365.55 75.82 L367.48 75.86 L369.44 75.89 L371.43 75.93 L373.45 75.96 L375.5 76 L377.58 76.03 L379.69 76.07 L381.83 76.11 L384.01 76.14 L386.21 76.18 L388.44 76.22 L390.71 76.26 L393 76.3 L393 148.1 L393.5 152.03 L394 154.42 L394.5 155.87 L395 156.75 L395.5 157.28 L396 157.6 L396.5 157.8 L397 157.92 L397.5 157.99 L399 158.1" fill="none" stroke="#222" stroke-width="0.8" />
<path d="M296.3 158.1 L298.5 158.1 L298.5 157.73 L298.52 156.43 L298.55 154.09 L298.6 150.74 L298.66 146.49 L298.74 141.52 L298.84 136.02 L298.96 130.24 L299.1 124.4 L299.25 118.71 L299.43 113.35 L299.62 108.44 L299.84 104.05 L300.08 100.23 L300.33 96.95 L300.61 94.19 L300.92 91.9 L301.24 90.01 L301.59 88.45 L301.95 87.18 L302.35 86.14 L302.76 85.28 L303.2 84.58 L303.66 84 L304.14 83.53 L304.65 83.14 L305.18 82.82 L305.74 82.56 L306.32 82.36 L306.93 82.2 L307.56 82.07 L308.21 81.97 L308.9 81.9 L309.6 81.85 L310.33 81.81 L311.09 81.79 L311.87 81.78 L312.68 81.77 L313.51 81.77 L314.37 81.77 L315.26 81.78 L316.17 81.79 L317.11 81.8 L318.07 81.81 L319.07 81.83 L320.09 81.84 L321.13 81.86 L322.2 81.88 L323.3 81.89 L324.43 81.91 L325.59 81.93 L326.77 81.95 L327.98 81.97 L329.22 81.99 L330.48 82.01 L331.77 82.03 L333.1 82.05 L334.45 82.07 L335.82 82.09 L337.23 82.11 L338.66 82.14 L340.13 82.16 L341.62 82.18 L343.14 82.21 L344.69 82.23 L346.26 82.26 L347.87 82.28 L349.51 82.31 L351.17 82.34 L352.86 82.36 L354.59 82.39 L356.34 82.42 L358.12 82.45 L359.93 82.47 L361.78 82.5 L363.65 82.53 L365.55 82.56 L367.48 82.59 L369.44 82.63 L371.43 82.66 L373.45 82.69 L375.5 82.72 L377.58 82.75 L379.69 82.79 L381.83 82.82 L384.01 82.86 L386.21 82.89 L388.44 82.93 L390.71 82.96 L393 83 L393 148.1 L393.5 152.03 L394 154.42 L394.5 155.87 L395 156.75 L395.5 157.28 L396 157.6 L396.5 157.8 L397 157.92 L397.5 157.99 L399 158.1" fill="none" stroke="#222" stroke-width="0.8" />
<path d="M296.3 158.1 L298.5 158.1 L298.5 157.8 L298.52 156.75 L298.55 154.86 L298.6 152.16 L298.66 148.73 L298.74 144.7 L298.84 140.23 L298.96 135.52 L299.1 130.74 L299.25 126.06 L299.43 121.62 L299.62 117.51 L299.84 113.79 L300.08 110.5 L300.33 107.64 L300.61 105.17 L300.92 103.05 L301.24 101.25 L301.59 99.72 L301.95 98.41 L302.35 97.29 L302.76 96.33 L303.2 95.5 L303.66 94.78 L304.14 94.17 L304.65 93.64 L305.18 93.19 L305.74 92.8 L306.32 92.48 L306.93 92.22 L307.56 92 L308.21 91.82 L308.9 91.67 L309.6 91.56 L310.33 91.47 L311.09 91.4 L311.87 91.35 L312.68 91.32 L313.51 91.29 L314.37 91.28 L315.26 91.27 L316.17 91.27 L317.11 91.27 L318.07 91.28 L319.07 91.28 L320.09 91.29 L321.13 91.31 L322.2 91.32 L323.3 91.33 L324.43 91.35 L325.59 91.36 L326.77 91.38 L327.98 91.4 L329.22 91.41 L330.48 91.43 L331.77 91.45 L333.1 91.47 L334.45 91.48 L335.82 91.5 L337.23 91.52 L338.66 91.54 L340.13 91.56 L341.62 91.58 L343.14 91.61 L344.69 91.63 L346.26 91.65 L347.87 91.67 L349.51 91.69 L351.17 91.72 L352.86 91.74 L354.59 91.77 L356.34 91.79 L358.12 91.81 L359.93 91.84 L361.78 91.87 L363.65 91.89 L365.55 91.92 L367.48 91.94 L369.44 91.97 L371.43 92 L373.45 92.03 L375.5 92.06 L377.58 92.09 L379.69 92.11 L381.83 92.14 L384.01 92.17 L386.21 92.21 L388.44 92.24 L390.71 92.27 L393 92.3 L393 148.1 L393.5 152.03 L394 154.42 L394.5 155.87 L395 156.75 L395.5 157.28 L396 157.6 L396.5 157.8 L397 157.92 L397.5 157.99 L399 158.1" fill="none" stroke="#222" stroke-width="0.8" />
<path d="M296.3 158.1 L298.5 158.1 L298.5 157.87 L298.52 157.05 L298.55 155.57 L298.6 153.45 L298.66 150.76 L298.74 147.6 L298.84 144.08 L298.96 140.36 L299.1 136.57 L299.25 132.83 L299.43 129.26 L299.62 125.92 L299.84 122.88 L300.08 120.14 L300.33 117.71 L300.61 115.57 L300.92 113.7 L301.24 112.06 L301.59 110.62 L301.95 109.36 L302.35 108.23 L302.76 107.24 L303.2 106.35 L303.66 105.56 L304.14 104.85 L304.65 104.23 L305.18 103.68 L305.74 103.2 L306.32 102.78 L306.93 102.43 L307.56 102.12 L308.21 101.86 L308.9 101.64 L309.6 101.46 L310.33 101.32 L311.09 101.2 L311.87 101.11 L312.68 101.03 L313.51 100.97 L314.37 100.93 L315.26 100.9 L316.17 100.88 L317.11 100.87 L318.07 100.86 L319.07 100.86 L320.09 100.86 L321.13 100.86 L322.2 100.87 L323.3 100.88 L324.43 100.89 L325.59 100.9 L326.77 100.91 L327.98 100.93 L329.22 100.94 L330.48 100.95 L331.77 100.97 L333.1 100.99 L334.45 101 L335.82 101.02 L337.23 101.03 L338.66 101.05 L340.13 101.07 L341.62 101.09 L343.14 101.1 L344.69 101.12 L346.26 101.14 L347.87 101.16 L349.51 101.18 L351.17 101.2 L352.86 101.22 L354.59 101.24 L356.34 101.26 L358.12 101.28 L359.93 101.31 L361.78 101.33 L363.65 101.35 L365.55 101.37 L367.48 101.4 L369.44 101.42 L371.43 101.44 L373.45 101.47 L375.5 101.49 L377.58 101.52 L379.69 101.54 L381.83 101.57 L384.01 101.59 L386.21 101.62 L388.44 101.65 L390.71 101.67 L393 101.7 L393 148.1 L393.5 152.03 L394 154.42 L394.5 155.87 L395 156.75 L395.5 157.28 L396 157.6 L396.5 157.8 L397 157.92 L397.5 157.99 L399 158.1" fill="none" stroke="#222" stroke-width="0.8" />
<path d="M296.3 158.1 L298.5 158.1 L298.5 157.93 L298.52 157.33 L298.55 156.25 L298.6 154.71 L298.66 152.74 L298.74 150.42 L298.84 147.83 L298.96 145.08 L299.1 142.27 L299.25 139.48 L299.43 136.79 L299.62 134.26 L299.84 131.92 L300.08 129.79 L300.33 127.87 L300.61 126.15 L300.92 124.6 L301.24 123.22 L301.59 121.97 L301.95 120.84 L302.35 119.82 L302.76 118.89 L303.2 118.03 L303.66 117.26 L304.14 116.55 L304.65 115.91 L305.18 115.33 L305.74 114.81 L306.32 114.35 L306.93 113.95 L307.56 113.59 L308.21 113.28 L308.9 113.02 L309.6 112.79 L310.33 112.6 L311.09 112.44 L311.87 112.3 L312.68 112.2 L313.51 112.11 L314.37 112.04 L315.26 111.98 L316.17 111.94 L317.11 111.91 L318.07 111.88 L319.07 111.87 L320.09 111.86 L321.13 111.85 L322.2 111.85 L323.3 111.85 L324.43 111.86 L325.59 111.86 L326.77 111.87 L327.98 111.88 L329.22 111.89 L330.48 111.9 L331.77 111.91 L333.1 111.92 L334.45 111.94 L335.82 111.95 L337.23 111.96 L338.66 111.98 L340.13 111.99 L341.62 112 L343.14 112.02 L344.69 112.03 L346.26 112.05 L347.87 112.06 L349.51 112.08 L351.17 112.1 L352.86 112.11 L354.59 112.13 L356.34 112.15 L358.12 112.16 L359.93 112.18 L361.78 112.2 L363.65 112.22 L365.55 112.24 L367.48 112.25 L369.44 112.27 L371.43 112.29 L373.45 112.31 L375.5 112.33 L377.58 112.35 L379.69 112.37 L381.83 112.39 L384.01 112.41 L386.21 112.43 L388.44 112.46 L390.71 112.48 L393 112.5 L393 148.1 L393.5 152.03 L394 154.42 L394.5 155.87 L395 156.75 L395.5 157.28 L396 157.6 L396.5 157.8 L397 157.92 L397.5 157.99 L399 158.1" fill="none" stroke="#222" stroke-width="0.8" />
<path d="M296.3 158.1 L298.5 158.1 L298.5 157.99 L298.52 157.61 L298.55 156.93 L298.6 155.94 L298.66 154.69 L298.74 153.2 L298.84 151.55 L298.96 149.78 L299.1 147.96 L299.25 146.14 L299.43 144.38 L299.62 142.7 L299.84 141.13 L300.08 139.67 L300.33 138.34 L300.61 137.13 L300.92 136.01 L301.24 134.99 L301.59 134.06 L301.95 133.19 L302.35 132.39 L302.76 131.64 L303.2 130.95 L303.66 130.3 L304.14 129.7 L304.65 129.15 L305.18 128.65 L305.74 128.18 L306.32 127.77 L306.93 127.39 L307.56 127.06 L308.21 126.76 L308.9 126.5 L309.6 126.27 L310.33 126.07 L311.09 125.9 L311.87 125.76 L312.68 125.63 L313.51 125.53 L314.37 125.45 L315.26 125.38 L316.17 125.32 L317.11 125.28 L318.07 125.24 L319.07 125.21 L320.09 125.19 L321.13 125.18 L322.2 125.17 L323.3 125.16 L324.43 125.16 L325.59 125.16 L326.77 125.16 L327.98 125.17 L329.22 125.17 L330.48 125.18 L331.77 125.18 L333.1 125.19 L334.45 125.2 L335.82 125.21 L337.23 125.22 L338.66 125.23 L340.13 125.24 L341.62 125.25 L343.14 125.26 L344.69 125.27 L346.26 125.28 L347.87 125.29 L349.51 125.3 L351.17 125.31 L352.86 125.32 L354.59 125.34 L356.34 125.35 L358.12 125.36 L359.93 125.37 L361.78 125.39 L363.65 125.4 L365.55 125.41 L367.48 125.42 L369.44 125.44 L371.43 125.45 L373.45 125.47 L375.5 125.48 L377.58 125.49 L379.69 125.51 L381.83 125.52 L384.01 125.54 L386.21 125.55 L388.44 125.57 L390.71 125.58 L393 125.6 L393 148.1 L393.5 152.03 L394 154.42 L394.5 155.87 L395 156.75 L395.5 157.28 L396 157.6 L396.5 157.8 L397 157.92 L397.5 157.99 L399 158.1" fill="none" stroke="#222" stroke-width="0.8" />
<path d="M296.3 158.1 L298.5 158.1 L298.5 158.05 L298.52 157.85 L298.55 157.51 L298.6 157.01 L298.66 156.37 L298.74 155.62 L298.84 154.77 L298.96 153.87 L299.1 152.93 L299.25 151.98 L299.43 151.06 L299.62 150.16 L299.84 149.32 L300.08 148.53 L300.33 147.79 L300.61 147.1 L300.92 146.46 L301.24 145.86 L301.59 145.29 L301.95 144.76 L302.35 144.27 L302.76 143.79 L303.2 143.35 L303.66 142.93 L304.14 142.53 L304.65 142.16 L305.18 141.82 L305.74 141.5 L306.32 141.21 L306.93 140.94 L307.56 140.7 L308.21 140.49 L308.9 140.29 L309.6 140.12 L310.33 139.96 L311.09 139.83 L311.87 139.71 L312.68 139.61 L313.51 139.53 L314.37 139.46 L315.26 139.39 L316.17 139.34 L317.11 139.3 L318.07 139.27 L319.07 139.24 L320.09 139.22 L321.13 139.2 L322.2 139.19 L323.3 139.18 L324.43 139.17 L325.59 139.16 L326.77 139.16 L327.98 139.16 L329.22 139.16 L330.48 139.16 L331.77 139.17 L333.1 139.17 L334.45 139.17 L335.82 139.18 L337.23 139.18 L338.66 139.19 L340.13 139.19 L341.62 139.2 L343.14 139.2 L344.69 139.21 L346.26 139.22 L347.87 139.22 L349.51 139.23 L351.17 139.23 L352.86 139.24 L354.59 139.25 L356.34 139.25 L358.12 139.26 L359.93 139.27 L361.78 139.28 L363.65 139.28 L365.55 139.29 L367.48 139.3 L369.44 139.31 L371.43 139.31 L373.45 139.32 L375.5 139.33 L377.58 139.34 L379.69 139.35 L381.83 139.36 L384.01 139.36 L386.21 139.37 L388.44 139.38 L390.71 139.39 L393 139.4 L393 148.1 L393.5 152.03 L394 154.42 L394.5 155.87 L395 156.75 L395.5 157.28 L396 157.6 L396.5 157.8 L397 157.92 L397.5 157.99 L399 158.1" fill="none" stroke="#222" stroke-width="0.8" />
<path d="M296.3 158.1 L298.5 158.1 L298.5 158.09 L298.52 158.03 L298.55 157.94 L298.6 157.8 L298.66 157.63 L298.74 157.42 L298.84 157.19 L298.96 156.94 L299.1 156.68 L299.25 156.41 L299.43 156.15 L299.62 155.89 L299.84 155.64 L300.08 155.41 L300.33 155.18 L300.61 154.97 L300.92 154.77 L301.24 154.58 L301.59 154.4 L301.95 154.22 L302.35 154.05 L302.76 153.89 L303.2 153.74 L303.66 153.59 L304.14 153.45 L304.65 153.32 L305.18 153.2 L305.74 153.08 L306.32 152.97 L306.93 152.87 L307.56 152.78 L308.21 152.7 L308.9 152.62 L309.6 152.55 L310.33 152.49 L311.09 152.44 L311.87 152.39 L312.68 152.35 L313.51 152.31 L314.37 152.28 L315.26 152.25 L316.17 152.23 L317.11 152.21 L318.07 152.19 L319.07 152.18 L320.09 152.16 L321.13 152.16 L322.2 152.15 L323.3 152.14 L324.43 152.14 L325.59 152.13 L326.77 152.13 L327.98 152.13 L329.22 152.13 L330.48 152.13 L331.77 152.13 L333.1 152.13 L334.45 152.13 L335.82 152.13 L337.23 152.13 L338.66 152.13 L340.13 152.13 L341.62 152.14 L343.14 152.14 L344.69 152.14 L346.26 152.14 L347.87 152.14 L349.51 152.15 L351.17 152.15 L352.86 152.15 L354.59 152.15 L356.34 152.15 L358.12 152.16 L359.93 152.16 L361.78 152.16 L363.65 152.16 L365.55 152.17 L367.48 152.17 L369.44 152.17 L371.43 152.17 L373.45 152.18 L375.5 152.18 L377.58 152.18 L379.69 152.18 L381.83 152.19 L384.01 152.19 L386.21 152.19 L388.44 152.19 L390.71 152.2 L393 152.2 L393 152.2 L393.5 154.52 L394 155.93 L394.5 156.78 L395 157.3 L395.5 157.62 L396 157.81 L396.5 157.92 L397 157.99 L397.5 158.03 L399 158.1" fill="none" stroke="#222" stroke-width="0.8" />
<line x1="290" y1="158.1" x2="406.5" y2="158.1" stroke="#111" stroke-width="1.4" />
<line x1="434.9" y1="119.9" x2="434.9" y2="173" stroke="#666" stroke-width="0.8" />
<line x1="531.4" y1="100.7" x2="531.4" y2="173.5" stroke="#666" stroke-width="0.8" />
<path d="M434.9 157.8 L437.1 157.8 L437.1 157.53 L437.12 156.59 L437.15 154.91 L437.2 152.5 L437.26 149.46 L437.34 145.91 L437.44 142 L437.56 137.92 L437.69 133.84 L437.85 129.9 L438.03 126.25 L438.22 122.95 L438.44 120.08 L438.67 117.64 L438.93 115.62 L439.21 113.99 L439.51 112.7 L439.83 111.71 L440.18 110.95 L440.55 110.38 L440.94 109.95 L441.35 109.63 L441.79 109.4 L442.25 109.23 L442.73 109.1 L443.24 109.01 L443.77 108.94 L444.33 108.89 L444.91 108.85 L445.51 108.83 L446.14 108.81 L446.79 108.8 L447.47 108.79 L448.18 108.79 L448.91 108.79 L449.66 108.79 L450.44 108.79 L451.25 108.79 L452.08 108.79 L452.94 108.8 L453.82 108.8 L454.73 108.81 L455.67 108.81 L456.63 108.81 L457.62 108.82 L458.64 108.83 L459.68 108.83 L460.75 108.84 L461.85 108.84 L462.98 108.85 L464.13 108.85 L465.31 108.86 L466.52 108.87 L467.75 108.87 L469.01 108.88 L470.3 108.89 L471.62 108.89 L472.97 108.9 L474.34 108.91 L475.75 108.91 L477.18 108.92 L478.64 108.93 L480.13 108.94 L481.64 108.94 L483.19 108.95 L484.76 108.96 L486.37 108.97 L488 108.98 L489.66 108.98 L491.35 108.99 L493.07 109 L494.82 109.01 L496.6 109.02 L498.4 109.03 L500.24 109.04 L502.11 109.05 L504 109.06 L505.93 109.07 L507.89 109.08 L509.87 109.09 L511.89 109.1 L513.94 109.11 L516.01 109.12 L518.12 109.13 L520.26 109.14 L522.42 109.15 L524.62 109.17 L526.85 109.18 L529.11 109.19 L531.4 109.2 L531.4 147.8 L531.9 151.73 L532.4 154.12 L532.9 155.57 L533.4 156.45 L533.9 156.98 L534.4 157.3 L534.9 157.5 L535.4 157.62 L535.9 157.69 L537.4 157.8" fill="none" stroke="#222" stroke-width="0.8" />
<path d="M434.9 157.8 L437.1 157.8 L437.1 157.57 L437.12 156.76 L437.15 155.32 L437.2 153.25 L437.26 150.63 L437.34 147.56 L437.44 144.18 L437.56 140.64 L437.69 137.08 L437.85 133.63 L438.03 130.4 L438.22 127.47 L438.44 124.88 L438.67 122.65 L438.93 120.77 L439.21 119.21 L439.51 117.95 L439.83 116.94 L440.18 116.13 L440.55 115.49 L440.94 114.99 L441.35 114.59 L441.79 114.27 L442.25 114.02 L442.73 113.82 L443.24 113.66 L443.77 113.53 L444.33 113.43 L444.91 113.35 L445.51 113.29 L446.14 113.24 L446.79 113.21 L447.47 113.18 L448.18 113.16 L448.91 113.15 L449.66 113.14 L450.44 113.14 L451.25 113.14 L452.08 113.14 L452.94 113.14 L453.82 113.14 L454.73 113.14 L455.67 113.15 L456.63 113.15 L457.62 113.15 L458.64 113.16 L459.68 113.16 L460.75 113.17 L461.85 113.17 L462.98 113.18 L464.13 113.18 L465.31 113.19 L466.52 113.2 L467.75 113.2 L469.01 113.21 L470.3 113.21 L471.62 113.22 L472.97 113.23 L474.34 113.23 L475.75 113.24 L477.18 113.25 L478.64 113.25 L480.13 113.26 L481.64 113.27 L483.19 113.27 L484.76 113.28 L486.37 113.29 L488 113.3 L489.66 113.3 L491.35 113.31 L493.07 113.32 L494.82 113.33 L496.6 113.34 L498.4 113.34 L500.24 113.35 L502.11 113.36 L504 113.37 L505.93 113.38 L507.89 113.39 L509.87 113.4 L511.89 113.41 L513.94 113.42 L516.01 113.43 L518.12 113.44 L520.26 113.45 L522.42 113.46 L524.62 113.47 L526.85 113.48 L529.11 113.49 L531.4 113.5 L531.4 147.8 L531.9 151.73 L532.4 154.12 L532.9 155.57 L533.4 156.45 L533.9 156.98 L534.4 157.3 L534.9 157.5 L535.4 157.62 L535.9 157.69 L537.4 157.8" fill="none" stroke="#222" stroke-width="0.8" />
<path d="M434.9 157.8 L437.1 157.8 L437.1 157.61 L437.12 156.92 L437.15 155.7 L437.2 153.94 L437.26 151.71 L437.34 149.1 L437.44 146.22 L437.56 143.19 L437.69 140.13 L437.85 137.15 L438.03 134.33 L438.22 131.75 L438.44 129.45 L438.67 127.44 L438.93 125.71 L439.21 124.25 L439.51 123.03 L439.83 122.02 L440.18 121.19 L440.55 120.5 L440.94 119.93 L441.35 119.45 L441.79 119.06 L442.25 118.72 L442.73 118.45 L443.24 118.21 L443.77 118.02 L444.33 117.86 L444.91 117.73 L445.51 117.62 L446.14 117.54 L446.79 117.47 L447.47 117.42 L448.18 117.38 L448.91 117.35 L449.66 117.32 L450.44 117.31 L451.25 117.3 L452.08 117.29 L452.94 117.28 L453.82 117.28 L454.73 117.28 L455.67 117.28 L456.63 117.29 L457.62 117.29 L458.64 117.29 L459.68 117.3 L460.75 117.3 L461.85 117.3 L462.98 117.31 L464.13 117.31 L465.31 117.32 L466.52 117.32 L467.75 117.33 L469.01 117.33 L470.3 117.34 L471.62 117.35 L472.97 117.35 L474.34 117.36 L475.75 117.36 L477.18 117.37 L478.64 117.38 L480.13 117.38 L481.64 117.39 L483.19 117.39 L484.76 117.4 L486.37 117.41 L488 117.41 L489.66 117.42 L491.35 117.43 L493.07 117.44 L494.82 117.44 L496.6 117.45 L498.4 117.46 L500.24 117.47 L502.11 117.48 L504 117.48 L505.93 117.49 L507.89 117.5 L509.87 117.51 L511.89 117.52 L513.94 117.53 L516.01 117.53 L518.12 117.54 L520.26 117.55 L522.42 117.56 L524.62 117.57 L526.85 117.58 L529.11 117.59 L531.4 117.6 L531.4 147.8 L531.9 151.73 L532.4 154.12 L532.9 155.57 L533.4 156.45 L533.9 156.98 L534.4 157.3 L534.9 157.5 L535.4 157.62 L535.9 157.69 L537.4 157.8" fill="none" stroke="#222" stroke-width="0.8" />
<path d="M434.9 157.8 L437.1 157.8 L437.1 157.64 L437.12 157.08 L437.15 156.07 L437.2 154.62 L437.26 152.78 L437.34 150.61 L437.44 148.22 L437.56 145.7 L437.69 143.13 L437.85 140.62 L438.03 138.24 L438.22 136.03 L438.44 134.04 L438.67 132.27 L438.93 130.73 L439.21 129.4 L439.51 128.26 L439.83 127.29 L440.18 126.46 L440.55 125.75 L440.94 125.14 L441.35 124.61 L441.79 124.16 L442.25 123.76 L442.73 123.42 L443.24 123.13 L443.77 122.87 L444.33 122.66 L444.91 122.47 L445.51 122.32 L446.14 122.19 L446.79 122.09 L447.47 122 L448.18 121.93 L448.91 121.88 L449.66 121.84 L450.44 121.8 L451.25 121.78 L452.08 121.76 L452.94 121.75 L453.82 121.74 L454.73 121.73 L455.67 121.73 L456.63 121.73 L457.62 121.73 L458.64 121.73 L459.68 121.73 L460.75 121.73 L461.85 121.74 L462.98 121.74 L464.13 121.75 L465.31 121.75 L466.52 121.75 L467.75 121.76 L469.01 121.76 L470.3 121.77 L471.62 121.77 L472.97 121.78 L474.34 121.78 L475.75 121.79 L477.18 121.79 L478.64 121.8 L480.13 121.81 L481.64 121.81 L483.19 121.82 L484.76 121.82 L486.37 121.83 L488 121.84 L489.66 121.84 L491.35 121.85 L493.07 121.85 L494.82 121.86 L496.6 121.87 L498.4 121.87 L500.24 121.88 L502.11 121.89 L504 121.9 L505.93 121.9 L507.89 121.91 L509.87 121.92 L511.89 121.93 L513.94 121.93 L516.01 121.94 L518.12 121.95 L520.26 121.96 L522.42 121.97 L524.62 121.97 L526.85 121.98 L529.11 121.99 L531.4 122 L531.4 147.8 L531.9 151.73 L532.4 154.12 L532.9 155.57 L533.4 156.45 L533.9 156.98 L534.4 157.3 L534.9 157.5 L535.4 157.62 L535.9 157.69 L537.4 157.8" fill="none" stroke="#222" stroke-width="0.8" />
<path d="M434.9 157.8 L437.1 157.8 L437.1 157.68 L437.12 157.24 L437.15 156.45 L437.2 155.32 L437.26 153.88 L437.34 152.19 L437.44 150.31 L437.56 148.32 L437.69 146.29 L437.85 144.29 L438.03 142.38 L438.22 140.59 L438.44 138.96 L438.67 137.49 L438.93 136.19 L439.21 135.04 L439.51 134.04 L439.83 133.16 L440.18 132.39 L440.55 131.71 L440.94 131.11 L441.35 130.58 L441.79 130.11 L442.25 129.69 L442.73 129.31 L443.24 128.98 L443.77 128.69 L444.33 128.44 L444.91 128.22 L445.51 128.03 L446.14 127.86 L446.79 127.73 L447.47 127.61 L448.18 127.52 L448.91 127.44 L449.66 127.38 L450.44 127.33 L451.25 127.29 L452.08 127.26 L452.94 127.23 L453.82 127.21 L454.73 127.2 L455.67 127.19 L456.63 127.19 L457.62 127.18 L458.64 127.18 L459.68 127.18 L460.75 127.18 L461.85 127.18 L462.98 127.18 L464.13 127.19 L465.31 127.19 L466.52 127.19 L467.75 127.2 L469.01 127.2 L470.3 127.2 L471.62 127.21 L472.97 127.21 L474.34 127.22 L475.75 127.22 L477.18 127.23 L478.64 127.23 L480.13 127.23 L481.64 127.24 L483.19 127.24 L484.76 127.25 L486.37 127.25 L488 127.26 L489.66 127.27 L491.35 127.27 L493.07 127.28 L494.82 127.28 L496.6 127.29 L498.4 127.29 L500.24 127.3 L502.11 127.31 L504 127.31 L505.93 127.32 L507.89 127.32 L509.87 127.33 L511.89 127.34 L513.94 127.34 L516.01 127.35 L518.12 127.36 L520.26 127.36 L522.42 127.37 L524.62 127.38 L526.85 127.39 L529.11 127.39 L531.4 127.4 L531.4 147.8 L531.9 151.73 L532.4 154.12 L532.9 155.57 L533.4 156.45 L533.9 156.98 L534.4 157.3 L534.9 157.5 L535.4 157.62 L535.9 157.69 L537.4 157.8" fill="none" stroke="#222" stroke-width="0.8" />
<path d="M434.9 157.8 L437.1 157.8 L437.1 157.71 L437.12 157.39 L437.15 156.81 L437.2 155.98 L437.26 154.93 L437.34 153.68 L437.44 152.3 L437.56 150.82 L437.69 149.31 L437.85 147.81 L438.03 146.37 L438.22 145 L438.44 143.74 L438.67 142.59 L438.93 141.56 L439.21 140.63 L439.51 139.8 L439.83 139.05 L440.18 138.38 L440.55 137.78 L440.94 137.23 L441.35 136.74 L441.79 136.29 L442.25 135.88 L442.73 135.51 L443.24 135.18 L443.77 134.88 L444.33 134.61 L444.91 134.38 L445.51 134.17 L446.14 133.99 L446.79 133.84 L447.47 133.71 L448.18 133.59 L448.91 133.5 L449.66 133.42 L450.44 133.36 L451.25 133.3 L452.08 133.26 L452.94 133.23 L453.82 133.2 L454.73 133.18 L455.67 133.16 L456.63 133.15 L457.62 133.14 L458.64 133.14 L459.68 133.13 L460.75 133.13 L461.85 133.13 L462.98 133.13 L464.13 133.13 L465.31 133.13 L466.52 133.13 L467.75 133.14 L469.01 133.14 L470.3 133.14 L471.62 133.15 L472.97 133.15 L474.34 133.15 L475.75 133.16 L477.18 133.16 L478.64 133.16 L480.13 133.17 L481.64 133.17 L483.19 133.17 L484.76 133.18 L486.37 133.18 L488 133.19 L489.66 133.19 L491.35 133.2 L493.07 133.2 L494.82 133.2 L496.6 133.21 L498.4 133.21 L500.24 133.22 L502.11 133.22 L504 133.23 L505.93 133.23 L507.89 133.24 L509.87 133.24 L511.89 133.25 L513.94 133.25 L516.01 133.26 L518.12 133.27 L520.26 133.27 L522.42 133.28 L524.62 133.28 L526.85 133.29 L529.11 133.29 L531.4 133.3 L531.4 147.8 L531.9 151.73 L532.4 154.12 L532.9 155.57 L533.4 156.45 L533.9 156.98 L534.4 157.3 L534.9 157.5 L535.4 157.62 L535.9 157.69 L537.4 157.8" fill="none" stroke="#222" stroke-width="0.8" />
<path d="M434.9 157.8 L437.1 157.8 L437.1 157.74 L437.12 157.53 L437.15 157.16 L437.2 156.63 L437.26 155.95 L437.34 155.14 L437.44 154.24 L437.56 153.27 L437.69 152.28 L437.85 151.29 L438.03 150.32 L438.22 149.4 L438.44 148.54 L438.67 147.74 L438.93 147.01 L439.21 146.34 L439.51 145.73 L439.83 145.18 L440.18 144.66 L440.55 144.19 L440.94 143.76 L441.35 143.36 L441.79 142.99 L442.25 142.65 L442.73 142.33 L443.24 142.05 L443.77 141.79 L444.33 141.55 L444.91 141.34 L445.51 141.15 L446.14 140.98 L446.79 140.83 L447.47 140.71 L448.18 140.6 L448.91 140.5 L449.66 140.42 L450.44 140.35 L451.25 140.3 L452.08 140.25 L452.94 140.21 L453.82 140.18 L454.73 140.16 L455.67 140.14 L456.63 140.12 L457.62 140.11 L458.64 140.1 L459.68 140.09 L460.75 140.09 L461.85 140.09 L462.98 140.08 L464.13 140.08 L465.31 140.08 L466.52 140.08 L467.75 140.08 L469.01 140.09 L470.3 140.09 L471.62 140.09 L472.97 140.09 L474.34 140.09 L475.75 140.1 L477.18 140.1 L478.64 140.1 L480.13 140.1 L481.64 140.11 L483.19 140.11 L484.76 140.11 L486.37 140.12 L488 140.12 L489.66 140.12 L491.35 140.13 L493.07 140.13 L494.82 140.13 L496.6 140.14 L498.4 140.14 L500.24 140.14 L502.11 140.15 L504 140.15 L505.93 140.15 L507.89 140.16 L509.87 140.16 L511.89 140.16 L513.94 140.17 L516.01 140.17 L518.12 140.18 L520.26 140.18 L522.42 140.18 L524.62 140.19 L526.85 140.19 L529.11 140.2 L531.4 140.2 L531.4 147.8 L531.9 151.73 L532.4 154.12 L532.9 155.57 L533.4 156.45 L533.9 156.98 L534.4 157.3 L534.9 157.5 L535.4 157.62 L535.9 157.69 L537.4 157.8" fill="none" stroke="#222" stroke-width="0.8" />
<path d="M434.9 157.8 L437.1 157.8 L437.1 157.77 L437.12 157.67 L437.15 157.49 L437.2 157.22 L437.26 156.89 L437.34 156.49 L437.44 156.04 L437.56 155.55 L437.69 155.05 L437.85 154.55 L438.03 154.05 L438.22 153.58 L438.44 153.12 L438.67 152.7 L438.93 152.3 L439.21 151.93 L439.51 151.58 L439.83 151.26 L440.18 150.96 L440.55 150.68 L440.94 150.42 L441.35 150.17 L441.79 149.94 L442.25 149.73 L442.73 149.53 L443.24 149.34 L443.77 149.17 L444.33 149.01 L444.91 148.87 L445.51 148.74 L446.14 148.62 L446.79 148.52 L447.47 148.43 L448.18 148.35 L448.91 148.28 L449.66 148.22 L450.44 148.17 L451.25 148.13 L452.08 148.09 L452.94 148.06 L453.82 148.03 L454.73 148.01 L455.67 147.99 L456.63 147.98 L457.62 147.97 L458.64 147.96 L459.68 147.95 L460.75 147.95 L461.85 147.94 L462.98 147.94 L464.13 147.94 L465.31 147.94 L466.52 147.94 L467.75 147.94 L469.01 147.94 L470.3 147.94 L471.62 147.94 L472.97 147.94 L474.34 147.94 L475.75 147.94 L477.18 147.94 L478.64 147.95 L480.13 147.95 L481.64 147.95 L483.19 147.95 L484.76 147.95 L486.37 147.95 L488 147.95 L489.66 147.96 L491.35 147.96 L493.07 147.96 L494.82 147.96 L496.6 147.96 L498.4 147.97 L500.24 147.97 L502.11 147.97 L504 147.97 L505.93 147.97 L507.89 147.98 L509.87 147.98 L511.89 147.98 L513.94 147.98 L516.01 147.98 L518.12 147.99 L520.26 147.99 L522.42 147.99 L524.62 147.99 L526.85 148 L529.11 148 L531.4 148 L531.4 148 L531.9 151.86 L532.4 154.19 L532.9 155.61 L533.4 156.47 L533.9 157 L534.4 157.31 L534.9 157.5 L535.4 157.62 L535.9 157.69 L537.4 157.8" fill="none" stroke="#222" stroke-width="0.8" />
<path d="M434.9 157.8 L437.1 157.8 L437.1 157.79 L437.12 157.76 L437.15 157.7 L437.2 157.62 L437.26 157.52 L437.34 157.39 L437.44 157.25 L437.56 157.1 L437.69 156.94 L437.85 156.77 L438.03 156.61 L438.22 156.46 L438.44 156.3 L438.67 156.16 L438.93 156.02 L439.21 155.89 L439.51 155.77 L439.83 155.65 L440.18 155.54 L440.55 155.43 L440.94 155.33 L441.35 155.23 L441.79 155.14 L442.25 155.06 L442.73 154.98 L443.24 154.9 L443.77 154.83 L444.33 154.76 L444.91 154.7 L445.51 154.65 L446.14 154.6 L446.79 154.56 L447.47 154.52 L448.18 154.48 L448.91 154.45 L449.66 154.42 L450.44 154.4 L451.25 154.38 L452.08 154.36 L452.94 154.34 L453.82 154.33 L454.73 154.32 L455.67 154.31 L456.63 154.3 L457.62 154.3 L458.64 154.29 L459.68 154.29 L460.75 154.29 L461.85 154.28 L462.98 154.28 L464.13 154.28 L465.31 154.28 L466.52 154.28 L467.75 154.28 L469.01 154.28 L470.3 154.28 L471.62 154.28 L472.97 154.28 L474.34 154.28 L475.75 154.28 L477.18 154.28 L478.64 154.28 L480.13 154.28 L481.64 154.28 L483.19 154.28 L484.76 154.28 L486.37 154.28 L488 154.28 L489.66 154.28 L491.35 154.29 L493.07 154.29 L494.82 154.29 L496.6 154.29 L498.4 154.29 L500.24 154.29 L502.11 154.29 L504 154.29 L505.93 154.29 L507.89 154.29 L509.87 154.29 L511.89 154.29 L513.94 154.29 L516.01 154.29 L518.12 154.3 L520.26 154.3 L522.42 154.3 L524.62 154.3 L526.85 154.3 L529.11 154.3 L531.4 154.3 L531.4 154.3 L531.9 155.68 L532.4 156.51 L532.9 157.02 L533.4 157.33 L533.9 157.51 L534.4 157.63 L534.9 157.69 L535.4 157.74 L535.9 157.76 L537.4 157.8" fill="none" stroke="#222" stroke-width="0.8" />
<line x1="429.2" y1="157.8" x2="545" y2="157.8" stroke="#111" stroke-width="1.4" />
<line x1="573.6" y1="120.9" x2="573.6" y2="171.2" stroke="#666" stroke-width="0.8" />
<line x1="670.5" y1="120.4" x2="670.5" y2="171" stroke="#666" stroke-width="0.8" />
<path d="M573.6 157.1 L575.8 157.1 L575.8 156.98 L575.82 156.53 L575.85 155.75 L575.9 154.62 L575.96 153.19 L576.04 151.53 L576.14 149.7 L576.26 147.8 L576.4 145.89 L576.55 144.05 L576.73 142.34 L576.93 140.81 L577.14 139.47 L577.38 138.33 L577.64 137.39 L577.92 136.64 L578.22 136.04 L578.55 135.58 L578.89 135.22 L579.26 134.96 L579.65 134.76 L580.07 134.61 L580.51 134.51 L580.97 134.42 L581.46 134.36 L581.97 134.32 L582.5 134.29 L583.06 134.26 L583.64 134.25 L584.25 134.23 L584.88 134.22 L585.54 134.22 L586.22 134.21 L586.92 134.21 L587.66 134.2 L588.41 134.2 L589.2 134.2 L590.01 134.2 L590.84 134.2 L591.71 134.2 L592.59 134.2 L593.51 134.2 L594.45 134.2 L595.42 134.2 L596.41 134.2 L597.43 134.2 L598.48 134.2 L599.55 134.2 L600.66 134.2 L601.79 134.2 L602.94 134.2 L604.13 134.2 L605.34 134.2 L606.58 134.2 L607.85 134.2 L609.14 134.2 L610.47 134.2 L611.82 134.2 L613.2 134.2 L614.61 134.2 L616.05 134.2 L617.51 134.2 L619.01 134.2 L620.53 134.2 L622.08 134.2 L623.66 134.2 L625.27 134.2 L626.91 134.2 L628.58 134.2 L630.28 134.2 L632.01 134.2 L633.76 134.2 L635.55 134.2 L637.36 134.2 L639.21 134.2 L641.08 134.2 L642.99 134.2 L644.92 134.2 L646.89 134.2 L648.88 134.2 L650.91 134.2 L652.96 134.2 L655.05 134.2 L657.16 134.2 L659.31 134.2 L661.49 134.2 L663.69 134.2 L665.93 134.2 L668.2 134.2 L670.5 134.2 L670.5 149.1 L671 152.25 L671.5 154.16 L672 155.31 L672.5 156.02 L673 156.44 L673.5 156.7 L674 156.86 L674.5 156.95 L675 157.01 L676.5 157.1" fill="none" stroke="#222" stroke-width="0.8" />
<path d="M573.6 157.1 L575.8 157.1 L575.8 156.99 L575.82 156.61 L575.85 155.92 L575.9 154.94 L575.96 153.7 L576.04 152.25 L576.14 150.65 L576.26 148.97 L576.4 147.29 L576.55 145.66 L576.73 144.13 L576.93 142.75 L577.14 141.52 L577.38 140.47 L577.64 139.59 L577.92 138.86 L578.22 138.28 L578.55 137.8 L578.89 137.43 L579.26 137.14 L579.65 136.91 L580.07 136.73 L580.51 136.59 L580.97 136.48 L581.46 136.39 L581.97 136.32 L582.5 136.27 L583.06 136.23 L583.64 136.19 L584.25 136.17 L584.88 136.15 L585.54 136.14 L586.22 136.13 L586.92 136.12 L587.66 136.11 L588.41 136.11 L589.2 136.11 L590.01 136.1 L590.84 136.1 L591.71 136.1 L592.59 136.1 L593.51 136.1 L594.45 136.1 L595.42 136.1 L596.41 136.1 L597.43 136.1 L598.48 136.1 L599.55 136.1 L600.66 136.1 L601.79 136.1 L602.94 136.1 L604.13 136.1 L605.34 136.1 L606.58 136.1 L607.85 136.1 L609.14 136.1 L610.47 136.1 L611.82 136.1 L613.2 136.1 L614.61 136.1 L616.05 136.1 L617.51 136.1 L619.01 136.1 L620.53 136.1 L622.08 136.1 L623.66 136.1 L625.27 136.1 L626.91 136.1 L628.58 136.1 L630.28 136.1 L632.01 136.1 L633.76 136.1 L635.55 136.1 L637.36 136.1 L639.21 136.1 L641.08 136.1 L642.99 136.1 L644.92 136.1 L646.89 136.1 L648.88 136.1 L650.91 136.1 L652.96 136.1 L655.05 136.1 L657.16 136.1 L659.31 136.1 L661.49 136.1 L663.69 136.1 L665.93 136.1 L668.2 136.1 L670.5 136.1 L670.5 149.1 L671 152.25 L671.5 154.16 L672 155.31 L672.5 156.02 L673 156.44 L673.5 156.7 L674 156.86 L674.5 156.95 L675 157.01 L676.5 157.1" fill="none" stroke="#222" stroke-width="0.8" />
<path d="M573.6 157.1 L575.8 157.1 L575.8 157.01 L575.82 156.69 L575.85 156.11 L575.9 155.28 L575.96 154.23 L576.04 153 L576.14 151.65 L576.26 150.22 L576.4 148.78 L576.55 147.38 L576.73 146.05 L576.93 144.84 L577.14 143.76 L577.38 142.82 L577.64 142.01 L577.92 141.33 L578.22 140.77 L578.55 140.31 L578.89 139.93 L579.26 139.62 L579.65 139.36 L580.07 139.16 L580.51 138.99 L580.97 138.85 L581.46 138.74 L581.97 138.64 L582.5 138.57 L583.06 138.51 L583.64 138.46 L584.25 138.42 L584.88 138.39 L585.54 138.37 L586.22 138.35 L586.92 138.34 L587.66 138.33 L588.41 138.32 L589.2 138.31 L590.01 138.31 L590.84 138.31 L591.71 138.3 L592.59 138.3 L593.51 138.3 L594.45 138.3 L595.42 138.3 L596.41 138.3 L597.43 138.3 L598.48 138.3 L599.55 138.3 L600.66 138.3 L601.79 138.3 L602.94 138.3 L604.13 138.3 L605.34 138.3 L606.58 138.3 L607.85 138.3 L609.14 138.3 L610.47 138.3 L611.82 138.3 L613.2 138.3 L614.61 138.3 L616.05 138.3 L617.51 138.3 L619.01 138.3 L620.53 138.3 L622.08 138.3 L623.66 138.3 L625.27 138.3 L626.91 138.3 L628.58 138.3 L630.28 138.3 L632.01 138.3 L633.76 138.3 L635.55 138.3 L637.36 138.3 L639.21 138.3 L641.08 138.3 L642.99 138.3 L644.92 138.3 L646.89 138.3 L648.88 138.3 L650.91 138.3 L652.96 138.3 L655.05 138.3 L657.16 138.3 L659.31 138.3 L661.49 138.3 L663.69 138.3 L665.93 138.3 L668.2 138.3 L670.5 138.3 L670.5 149.1 L671 152.25 L671.5 154.16 L672 155.31 L672.5 156.02 L673 156.44 L673.5 156.7 L674 156.86 L674.5 156.95 L675 157.01 L676.5 157.1" fill="none" stroke="#222" stroke-width="0.8" />
<path d="M573.6 157.1 L575.8 157.1 L575.8 157.03 L575.82 156.76 L575.85 156.28 L575.9 155.6 L575.96 154.73 L576.04 153.72 L576.14 152.59 L576.26 151.4 L576.4 150.19 L576.55 149.01 L576.73 147.88 L576.93 146.85 L577.14 145.91 L577.38 145.08 L577.64 144.36 L577.92 143.74 L578.22 143.21 L578.55 142.76 L578.89 142.39 L579.26 142.07 L579.65 141.8 L580.07 141.58 L580.51 141.39 L580.97 141.23 L581.46 141.09 L581.97 140.98 L582.5 140.88 L583.06 140.8 L583.64 140.74 L584.25 140.69 L584.88 140.64 L585.54 140.61 L586.22 140.58 L586.92 140.56 L587.66 140.55 L588.41 140.53 L589.2 140.52 L590.01 140.52 L590.84 140.51 L591.71 140.51 L592.59 140.51 L593.51 140.5 L594.45 140.5 L595.42 140.5 L596.41 140.5 L597.43 140.5 L598.48 140.5 L599.55 140.5 L600.66 140.5 L601.79 140.5 L602.94 140.5 L604.13 140.5 L605.34 140.5 L606.58 140.5 L607.85 140.5 L609.14 140.5 L610.47 140.5 L611.82 140.5 L613.2 140.5 L614.61 140.5 L616.05 140.5 L617.51 140.5 L619.01 140.5 L620.53 140.5 L622.08 140.5 L623.66 140.5 L625.27 140.5 L626.91 140.5 L628.58 140.5 L630.28 140.5 L632.01 140.5 L633.76 140.5 L635.55 140.5 L637.36 140.5 L639.21 140.5 L641.08 140.5 L642.99 140.5 L644.92 140.5 L646.89 140.5 L648.88 140.5 L650.91 140.5 L652.96 140.5 L655.05 140.5 L657.16 140.5 L659.31 140.5 L661.49 140.5 L663.69 140.5 L665.93 140.5 L668.2 140.5 L670.5 140.5 L670.5 149.1 L671 152.25 L671.5 154.16 L672 155.31 L672.5 156.02 L673 156.44 L673.5 156.7 L674 156.86 L674.5 156.95 L675 157.01 L676.5 157.1" fill="none" stroke="#222" stroke-width="0.8" />
<path d="M573.6 157.1 L575.8 157.1 L575.8 157.04 L575.82 156.83 L575.85 156.46 L575.9 155.93 L575.96 155.25 L576.04 154.45 L576.14 153.56 L576.26 152.62 L576.4 151.66 L576.55 150.72 L576.73 149.81 L576.93 148.96 L577.14 148.19 L577.38 147.5 L577.64 146.88 L577.92 146.34 L578.22 145.88 L578.55 145.47 L578.89 145.12 L579.26 144.82 L579.65 144.55 L580.07 144.33 L580.51 144.13 L580.97 143.96 L581.46 143.81 L581.97 143.68 L582.5 143.58 L583.06 143.49 L583.64 143.41 L584.25 143.35 L584.88 143.29 L585.54 143.25 L586.22 143.22 L586.92 143.19 L587.66 143.17 L588.41 143.15 L589.2 143.14 L590.01 143.13 L590.84 143.12 L591.71 143.11 L592.59 143.11 L593.51 143.11 L594.45 143.11 L595.42 143.1 L596.41 143.1 L597.43 143.1 L598.48 143.1 L599.55 143.1 L600.66 143.1 L601.79 143.1 L602.94 143.1 L604.13 143.1 L605.34 143.1 L606.58 143.1 L607.85 143.1 L609.14 143.1 L610.47 143.1 L611.82 143.1 L613.2 143.1 L614.61 143.1 L616.05 143.1 L617.51 143.1 L619.01 143.1 L620.53 143.1 L622.08 143.1 L623.66 143.1 L625.27 143.1 L626.91 143.1 L628.58 143.1 L630.28 143.1 L632.01 143.1 L633.76 143.1 L635.55 143.1 L637.36 143.1 L639.21 143.1 L641.08 143.1 L642.99 143.1 L644.92 143.1 L646.89 143.1 L648.88 143.1 L650.91 143.1 L652.96 143.1 L655.05 143.1 L657.16 143.1 L659.31 143.1 L661.49 143.1 L663.69 143.1 L665.93 143.1 L668.2 143.1 L670.5 143.1 L670.5 149.1 L671 152.25 L671.5 154.16 L672 155.31 L672.5 156.02 L673 156.44 L673.5 156.7 L674 156.86 L674.5 156.95 L675 157.01 L676.5 157.1" fill="none" stroke="#222" stroke-width="0.8" />
<path d="M573.6 157.1 L575.8 157.1 L575.8 157.06 L575.82 156.9 L575.85 156.62 L575.9 156.23 L575.96 155.72 L576.04 155.12 L576.14 154.45 L576.26 153.73 L576.4 153 L576.55 152.28 L576.73 151.58 L576.93 150.91 L577.14 150.3 L577.38 149.74 L577.64 149.24 L577.92 148.79 L578.22 148.4 L578.55 148.04 L578.89 147.73 L579.26 147.46 L579.65 147.21 L580.07 146.99 L580.51 146.8 L580.97 146.63 L581.46 146.49 L581.97 146.36 L582.5 146.24 L583.06 146.15 L583.64 146.06 L584.25 145.99 L584.88 145.94 L585.54 145.89 L586.22 145.85 L586.92 145.82 L587.66 145.79 L588.41 145.77 L589.2 145.75 L590.01 145.74 L590.84 145.73 L591.71 145.72 L592.59 145.72 L593.51 145.71 L594.45 145.71 L595.42 145.71 L596.41 145.7 L597.43 145.7 L598.48 145.7 L599.55 145.7 L600.66 145.7 L601.79 145.7 L602.94 145.7 L604.13 145.7 L605.34 145.7 L606.58 145.7 L607.85 145.7 L609.14 145.7 L610.47 145.7 L611.82 145.7 L613.2 145.7 L614.61 145.7 L616.05 145.7 L617.51 145.7 L619.01 145.7 L620.53 145.7 L622.08 145.7 L623.66 145.7 L625.27 145.7 L626.91 145.7 L628.58 145.7 L630.28 145.7 L632.01 145.7 L633.76 145.7 L635.55 145.7 L637.36 145.7 L639.21 145.7 L641.08 145.7 L642.99 145.7 L644.92 145.7 L646.89 145.7 L648.88 145.7 L650.91 145.7 L652.96 145.7 L655.05 145.7 L657.16 145.7 L659.31 145.7 L661.49 145.7 L663.69 145.7 L665.93 145.7 L668.2 145.7 L670.5 145.7 L670.5 149.1 L671 152.25 L671.5 154.16 L672 155.31 L672.5 156.02 L673 156.44 L673.5 156.7 L674 156.86 L674.5 156.95 L675 157.01 L676.5 157.1" fill="none" stroke="#222" stroke-width="0.8" />
<path d="M573.6 157.1 L575.8 157.1 L575.8 157.07 L575.82 156.97 L575.85 156.78 L575.9 156.51 L575.96 156.16 L576.04 155.75 L576.14 155.3 L576.26 154.81 L576.4 154.3 L576.55 153.79 L576.73 153.3 L576.93 152.83 L577.14 152.39 L577.38 151.98 L577.64 151.6 L577.92 151.26 L578.22 150.96 L578.55 150.68 L578.89 150.43 L579.26 150.2 L579.65 150 L580.07 149.81 L580.51 149.64 L580.97 149.5 L581.46 149.36 L581.97 149.25 L582.5 149.14 L583.06 149.05 L583.64 148.97 L584.25 148.91 L584.88 148.85 L585.54 148.8 L586.22 148.76 L586.92 148.73 L587.66 148.7 L588.41 148.68 L589.2 148.66 L590.01 148.65 L590.84 148.64 L591.71 148.63 L592.59 148.62 L593.51 148.62 L594.45 148.61 L595.42 148.61 L596.41 148.61 L597.43 148.6 L598.48 148.6 L599.55 148.6 L600.66 148.6 L601.79 148.6 L602.94 148.6 L604.13 148.6 L605.34 148.6 L606.58 148.6 L607.85 148.6 L609.14 148.6 L610.47 148.6 L611.82 148.6 L613.2 148.6 L614.61 148.6 L616.05 148.6 L617.51 148.6 L619.01 148.6 L620.53 148.6 L622.08 148.6 L623.66 148.6 L625.27 148.6 L626.91 148.6 L628.58 148.6 L630.28 148.6 L632.01 148.6 L633.76 148.6 L635.55 148.6 L637.36 148.6 L639.21 148.6 L641.08 148.6 L642.99 148.6 L644.92 148.6 L646.89 148.6 L648.88 148.6 L650.91 148.6 L652.96 148.6 L655.05 148.6 L657.16 148.6 L659.31 148.6 L661.49 148.6 L663.69 148.6 L665.93 148.6 L668.2 148.6 L670.5 148.6 L670.5 149.1 L671 152.25 L671.5 154.16 L672 155.31 L672.5 156.02 L673 156.44 L673.5 156.7 L674 156.86 L674.5 156.95 L675 157.01 L676.5 157.1" fill="none" stroke="#222" stroke-width="0.8" />
<path d="M573.6 157.1 L575.8 157.1 L575.8 157.08 L575.82 157.03 L575.85 156.93 L575.9 156.79 L575.96 156.61 L576.04 156.4 L576.14 156.16 L576.26 155.9 L576.4 155.64 L576.55 155.36 L576.73 155.1 L576.93 154.84 L577.14 154.59 L577.38 154.36 L577.64 154.15 L577.92 153.95 L578.22 153.77 L578.55 153.6 L578.89 153.45 L579.26 153.3 L579.65 153.17 L580.07 153.05 L580.51 152.94 L580.97 152.84 L581.46 152.76 L581.97 152.67 L582.5 152.6 L583.06 152.54 L583.64 152.49 L584.25 152.44 L584.88 152.4 L585.54 152.36 L586.22 152.33 L586.92 152.3 L587.66 152.28 L588.41 152.27 L589.2 152.25 L590.01 152.24 L590.84 152.23 L591.71 152.22 L592.59 152.22 L593.51 152.21 L594.45 152.21 L595.42 152.21 L596.41 152.21 L597.43 152.2 L598.48 152.2 L599.55 152.2 L600.66 152.2 L601.79 152.2 L602.94 152.2 L604.13 152.2 L605.34 152.2 L606.58 152.2 L607.85 152.2 L609.14 152.2 L610.47 152.2 L611.82 152.2 L613.2 152.2 L614.61 152.2 L616.05 152.2 L617.51 152.2 L619.01 152.2 L620.53 152.2 L622.08 152.2 L623.66 152.2 L625.27 152.2 L626.91 152.2 L628.58 152.2 L630.28 152.2 L632.01 152.2 L633.76 152.2 L635.55 152.2 L637.36 152.2 L639.21 152.2 L641.08 152.2 L642.99 152.2 L644.92 152.2 L646.89 152.2 L648.88 152.2 L650.91 152.2 L652.96 152.2 L655.05 152.2 L657.16 152.2 L659.31 152.2 L661.49 152.2 L663.69 152.2 L665.93 152.2 L668.2 152.2 L670.5 152.2 L670.5 152.2 L671 154.13 L671.5 155.3 L672 156.01 L672.5 156.44 L673 156.7 L673.5 156.86 L674 156.95 L674.5 157.01 L675 157.05 L676.5 157.1" fill="none" stroke="#222" stroke-width="0.8" />
<path d="M573.6 157.1 L575.8 157.1 L575.8 157.09 L575.82 157.07 L575.85 157.03 L575.9 156.98 L575.96 156.91 L576.04 156.82 L576.14 156.73 L576.26 156.62 L576.4 156.51 L576.55 156.4 L576.73 156.29 L576.93 156.18 L577.14 156.07 L577.38 155.97 L577.64 155.88 L577.92 155.79 L578.22 155.7 L578.55 155.62 L578.89 155.55 L579.26 155.48 L579.65 155.42 L580.07 155.36 L580.51 155.3 L580.97 155.25 L581.46 155.21 L581.97 155.16 L582.5 155.13 L583.06 155.09 L583.64 155.06 L584.25 155.04 L584.88 155.02 L585.54 155 L586.22 154.98 L586.92 154.96 L587.66 154.95 L588.41 154.94 L589.2 154.93 L590.01 154.93 L590.84 154.92 L591.71 154.92 L592.59 154.91 L593.51 154.91 L594.45 154.91 L595.42 154.91 L596.41 154.9 L597.43 154.9 L598.48 154.9 L599.55 154.9 L600.66 154.9 L601.79 154.9 L602.94 154.9 L604.13 154.9 L605.34 154.9 L606.58 154.9 L607.85 154.9 L609.14 154.9 L610.47 154.9 L611.82 154.9 L613.2 154.9 L614.61 154.9 L616.05 154.9 L617.51 154.9 L619.01 154.9 L620.53 154.9 L622.08 154.9 L623.66 154.9 L625.27 154.9 L626.91 154.9 L628.58 154.9 L630.28 154.9 L632.01 154.9 L633.76 154.9 L635.55 154.9 L637.36 154.9 L639.21 154.9 L641.08 154.9 L642.99 154.9 L644.92 154.9 L646.89 154.9 L648.88 154.9 L650.91 154.9 L652.96 154.9 L655.05 154.9 L657.16 154.9 L659.31 154.9 L661.49 154.9 L663.69 154.9 L665.93 154.9 L668.2 154.9 L670.5 154.9 L670.5 154.9 L671 155.77 L671.5 156.29 L672 156.61 L672.5 156.8 L673 156.92 L673.5 156.99 L674 157.03 L674.5 157.06 L675 157.08 L676.5 157.1" fill="none" stroke="#222" stroke-width="0.8" />
<line x1="567.9" y1="157.1" x2="684.1" y2="157.1" stroke="#111" stroke-width="1.4" />
<line x1="12.4" y1="266.9" x2="12.4" y2="323.6" stroke="#666" stroke-width="0.8" />
<line x1="109.2" y1="232" x2="109.2" y2="323.6" stroke="#666" stroke-width="0.8" />
<path d="M12.4 308.1 L14.6 308.1 L14.6 307.67 L14.62 306.16 L14.65 303.46 L14.7 299.6 L14.76 294.72 L14.84 289.02 L14.94 282.77 L15.06 276.24 L15.2 269.72 L15.35 263.46 L15.53 257.65 L15.72 252.46 L15.94 247.97 L16.18 244.2 L16.44 241.14 L16.72 238.74 L17.02 236.91 L17.34 235.58 L17.69 234.65 L18.06 234.04 L18.45 233.67 L18.86 233.49 L19.3 233.44 L19.76 233.5 L20.25 233.62 L20.76 233.79 L21.29 233.98 L21.85 234.2 L22.43 234.42 L23.04 234.64 L23.67 234.86 L24.32 235.07 L25.01 235.26 L25.71 235.44 L26.44 235.6 L27.2 235.75 L27.98 235.88 L28.79 236 L29.63 236.1 L30.49 236.19 L31.38 236.26 L32.29 236.33 L33.23 236.38 L34.2 236.43 L35.19 236.47 L36.21 236.51 L37.26 236.54 L38.33 236.56 L39.43 236.59 L40.56 236.61 L41.72 236.63 L42.9 236.64 L44.11 236.66 L45.35 236.68 L46.62 236.69 L47.91 236.71 L49.23 236.73 L50.58 236.74 L51.96 236.76 L53.37 236.77 L54.81 236.79 L56.27 236.81 L57.76 236.82 L59.28 236.84 L60.83 236.86 L62.41 236.88 L64.02 236.89 L65.66 236.91 L67.33 236.93 L69.02 236.95 L70.75 236.97 L72.5 236.99 L74.29 237.01 L76.1 237.03 L77.94 237.05 L79.82 237.07 L81.72 237.09 L83.65 237.11 L85.61 237.14 L87.61 237.16 L89.63 237.18 L91.68 237.2 L93.76 237.23 L95.88 237.25 L98.02 237.27 L100.2 237.3 L102.4 237.32 L104.64 237.35 L106.9 237.37 L109.2 237.4 L109.2 298.1 L109.7 302.03 L110.2 304.42 L110.7 305.87 L111.2 306.75 L111.7 307.28 L112.2 307.6 L112.7 307.8 L113.2 307.92 L113.7 307.99 L115.2 308.1" fill="none" stroke="#222" stroke-width="0.8" />
<path d="M12.4 308.1 L14.6 308.1 L14.6 307.73 L14.62 306.43 L14.65 304.1 L14.7 300.76 L14.76 296.53 L14.84 291.59 L14.94 286.15 L15.06 280.45 L15.2 274.73 L15.35 269.2 L15.53 264.04 L15.72 259.38 L15.94 255.3 L16.18 251.83 L16.44 248.96 L16.72 246.65 L17.02 244.84 L17.34 243.47 L17.69 242.44 L18.06 241.7 L18.45 241.19 L18.86 240.85 L19.3 240.65 L19.76 240.53 L20.25 240.49 L20.76 240.5 L21.29 240.54 L21.85 240.6 L22.43 240.68 L23.04 240.76 L23.67 240.85 L24.32 240.93 L25.01 241.02 L25.71 241.09 L26.44 241.17 L27.2 241.23 L27.98 241.29 L28.79 241.35 L29.63 241.4 L30.49 241.44 L31.38 241.48 L32.29 241.51 L33.23 241.54 L34.2 241.56 L35.19 241.59 L36.21 241.61 L37.26 241.63 L38.33 241.64 L39.43 241.66 L40.56 241.68 L41.72 241.69 L42.9 241.7 L44.11 241.72 L45.35 241.73 L46.62 241.75 L47.91 241.76 L49.23 241.77 L50.58 241.79 L51.96 241.8 L53.37 241.82 L54.81 241.83 L56.27 241.85 L57.76 241.86 L59.28 241.88 L60.83 241.9 L62.41 241.91 L64.02 241.93 L65.66 241.95 L67.33 241.96 L69.02 241.98 L70.75 242 L72.5 242.02 L74.29 242.04 L76.1 242.06 L77.94 242.07 L79.82 242.09 L81.72 242.11 L83.65 242.13 L85.61 242.15 L87.61 242.18 L89.63 242.2 L91.68 242.22 L93.76 242.24 L95.88 242.26 L98.02 242.28 L100.2 242.31 L102.4 242.33 L104.64 242.35 L106.9 242.38 L109.2 242.4 L109.2 298.1 L109.7 302.03 L110.2 304.42 L110.7 305.87 L111.2 306.75 L111.7 307.28 L112.2 307.6 L112.7 307.8 L113.2 307.92 L113.7 307.99 L115.2 308.1" fill="none" stroke="#222" stroke-width="0.8" />
<path d="M12.4 308.1 L14.6 308.1 L14.6 307.79 L14.62 306.67 L14.65 304.68 L14.7 301.84 L14.76 298.22 L14.84 293.98 L14.94 289.31 L15.06 284.39 L15.2 279.42 L15.35 274.6 L15.53 270.06 L15.72 265.92 L15.94 262.25 L16.18 259.08 L16.44 256.4 L16.72 254.19 L17.02 252.4 L17.34 250.98 L17.69 249.86 L18.06 249.01 L18.45 248.36 L18.86 247.87 L19.3 247.52 L19.76 247.27 L20.25 247.09 L20.76 246.98 L21.29 246.91 L21.85 246.88 L22.43 246.87 L23.04 246.87 L23.67 246.9 L24.32 246.92 L25.01 246.96 L25.71 246.99 L26.44 247.03 L27.2 247.06 L27.98 247.09 L28.79 247.12 L29.63 247.15 L30.49 247.18 L31.38 247.2 L32.29 247.22 L33.23 247.24 L34.2 247.26 L35.19 247.27 L36.21 247.29 L37.26 247.3 L38.33 247.31 L39.43 247.33 L40.56 247.34 L41.72 247.35 L42.9 247.37 L44.11 247.38 L45.35 247.39 L46.62 247.4 L47.91 247.42 L49.23 247.43 L50.58 247.44 L51.96 247.45 L53.37 247.47 L54.81 247.48 L56.27 247.5 L57.76 247.51 L59.28 247.52 L60.83 247.54 L62.41 247.55 L64.02 247.57 L65.66 247.59 L67.33 247.6 L69.02 247.62 L70.75 247.63 L72.5 247.65 L74.29 247.67 L76.1 247.68 L77.94 247.7 L79.82 247.72 L81.72 247.74 L83.65 247.76 L85.61 247.78 L87.61 247.79 L89.63 247.81 L91.68 247.83 L93.76 247.85 L95.88 247.87 L98.02 247.89 L100.2 247.91 L102.4 247.94 L104.64 247.96 L106.9 247.98 L109.2 248 L109.2 298.1 L109.7 302.03 L110.2 304.42 L110.7 305.87 L111.2 306.75 L111.7 307.28 L112.2 307.6 L112.7 307.8 L113.2 307.92 L113.7 307.99 L115.2 308.1" fill="none" stroke="#222" stroke-width="0.8" />
<path d="M12.4 308.1 L14.6 308.1 L14.6 307.84 L14.62 306.91 L14.65 305.25 L14.7 302.86 L14.76 299.84 L14.84 296.28 L14.94 292.35 L15.06 288.2 L15.2 284 L15.35 279.89 L15.53 276 L15.72 272.42 L15.94 269.2 L16.18 266.38 L16.44 263.95 L16.72 261.9 L17.02 260.19 L17.34 258.77 L17.69 257.61 L18.06 256.67 L18.45 255.9 L18.86 255.28 L19.3 254.78 L19.76 254.38 L20.25 254.06 L20.76 253.8 L21.29 253.6 L21.85 253.44 L22.43 253.32 L23.04 253.23 L23.67 253.16 L24.32 253.11 L25.01 253.07 L25.71 253.05 L26.44 253.04 L27.2 253.03 L27.98 253.02 L28.79 253.02 L29.63 253.02 L30.49 253.03 L31.38 253.03 L32.29 253.04 L33.23 253.05 L34.2 253.05 L35.19 253.06 L36.21 253.07 L37.26 253.08 L38.33 253.09 L39.43 253.1 L40.56 253.11 L41.72 253.12 L42.9 253.13 L44.11 253.14 L45.35 253.15 L46.62 253.16 L47.91 253.17 L49.23 253.18 L50.58 253.19 L51.96 253.21 L53.37 253.22 L54.81 253.23 L56.27 253.24 L57.76 253.26 L59.28 253.27 L60.83 253.28 L62.41 253.3 L64.02 253.31 L65.66 253.32 L67.33 253.34 L69.02 253.35 L70.75 253.37 L72.5 253.38 L74.29 253.4 L76.1 253.41 L77.94 253.43 L79.82 253.45 L81.72 253.46 L83.65 253.48 L85.61 253.5 L87.61 253.51 L89.63 253.53 L91.68 253.55 L93.76 253.57 L95.88 253.59 L98.02 253.6 L100.2 253.62 L102.4 253.64 L104.64 253.66 L106.9 253.68 L109.2 253.7 L109.2 298.1 L109.7 302.03 L110.2 304.42 L110.7 305.87 L111.2 306.75 L111.7 307.28 L112.2 307.6 L112.7 307.8 L113.2 307.92 L113.7 307.99 L115.2 308.1" fill="none" stroke="#222" stroke-width="0.8" />
<path d="M12.4 308.1 L14.6 308.1 L14.6 307.89 L14.62 307.14 L14.65 305.8 L14.7 303.87 L14.76 301.42 L14.84 298.54 L14.94 295.34 L15.06 291.95 L15.2 288.5 L15.35 285.11 L15.53 281.87 L15.72 278.87 L15.94 276.13 L16.18 273.7 L16.44 271.57 L16.72 269.73 L17.02 268.15 L17.34 266.81 L17.69 265.67 L18.06 264.71 L18.45 263.9 L18.86 263.21 L19.3 262.63 L19.76 262.15 L20.25 261.74 L20.76 261.4 L21.29 261.12 L21.85 260.89 L22.43 260.71 L23.04 260.56 L23.67 260.45 L24.32 260.36 L25.01 260.29 L25.71 260.23 L26.44 260.2 L27.2 260.17 L27.98 260.15 L28.79 260.14 L29.63 260.13 L30.49 260.13 L31.38 260.13 L32.29 260.13 L33.23 260.14 L34.2 260.14 L35.19 260.15 L36.21 260.15 L37.26 260.16 L38.33 260.17 L39.43 260.18 L40.56 260.18 L41.72 260.19 L42.9 260.2 L44.11 260.21 L45.35 260.22 L46.62 260.23 L47.91 260.24 L49.23 260.25 L50.58 260.26 L51.96 260.27 L53.37 260.28 L54.81 260.29 L56.27 260.3 L57.76 260.31 L59.28 260.32 L60.83 260.34 L62.41 260.35 L64.02 260.36 L65.66 260.37 L67.33 260.39 L69.02 260.4 L70.75 260.41 L72.5 260.42 L74.29 260.44 L76.1 260.45 L77.94 260.47 L79.82 260.48 L81.72 260.49 L83.65 260.51 L85.61 260.52 L87.61 260.54 L89.63 260.55 L91.68 260.57 L93.76 260.58 L95.88 260.6 L98.02 260.62 L100.2 260.63 L102.4 260.65 L104.64 260.67 L106.9 260.68 L109.2 260.7 L109.2 298.1 L109.7 302.03 L110.2 304.42 L110.7 305.87 L111.2 306.75 L111.7 307.28 L112.2 307.6 L112.7 307.8 L113.2 307.92 L113.7 307.99 L115.2 308.1" fill="none" stroke="#222" stroke-width="0.8" />
<path d="M12.4 308.1 L14.6 308.1 L14.6 307.94 L14.62 307.36 L14.65 306.33 L14.7 304.85 L14.76 302.96 L14.84 300.73 L14.94 298.25 L15.06 295.62 L15.2 292.92 L15.35 290.26 L15.53 287.7 L15.72 285.29 L15.94 283.08 L16.18 281.09 L16.44 279.31 L16.72 277.75 L17.02 276.38 L17.34 275.18 L17.69 274.13 L18.06 273.22 L18.45 272.43 L18.86 271.74 L19.3 271.13 L19.76 270.61 L20.25 270.16 L20.76 269.77 L21.29 269.44 L21.85 269.16 L22.43 268.93 L23.04 268.73 L23.67 268.57 L24.32 268.44 L25.01 268.34 L25.71 268.26 L26.44 268.2 L27.2 268.15 L27.98 268.11 L28.79 268.08 L29.63 268.07 L30.49 268.05 L31.38 268.05 L32.29 268.04 L33.23 268.04 L34.2 268.04 L35.19 268.04 L36.21 268.05 L37.26 268.05 L38.33 268.06 L39.43 268.06 L40.56 268.07 L41.72 268.08 L42.9 268.08 L44.11 268.09 L45.35 268.1 L46.62 268.11 L47.91 268.12 L49.23 268.12 L50.58 268.13 L51.96 268.14 L53.37 268.15 L54.81 268.16 L56.27 268.17 L57.76 268.18 L59.28 268.19 L60.83 268.2 L62.41 268.21 L64.02 268.22 L65.66 268.23 L67.33 268.24 L69.02 268.25 L70.75 268.26 L72.5 268.27 L74.29 268.28 L76.1 268.29 L77.94 268.3 L79.82 268.32 L81.72 268.33 L83.65 268.34 L85.61 268.35 L87.61 268.36 L89.63 268.38 L91.68 268.39 L93.76 268.4 L95.88 268.42 L98.02 268.43 L100.2 268.44 L102.4 268.46 L104.64 268.47 L106.9 268.49 L109.2 268.5 L109.2 298.1 L109.7 302.03 L110.2 304.42 L110.7 305.87 L111.2 306.75 L111.7 307.28 L112.2 307.6 L112.7 307.8 L113.2 307.92 L113.7 307.99 L115.2 308.1" fill="none" stroke="#222" stroke-width="0.8" />
<path d="M12.4 308.1 L14.6 308.1 L14.6 307.99 L14.62 307.58 L14.65 306.84 L14.7 305.79 L14.76 304.44 L14.84 302.85 L14.94 301.08 L15.06 299.19 L15.2 297.24 L15.35 295.31 L15.53 293.43 L15.72 291.65 L15.94 290 L16.18 288.49 L16.44 287.12 L16.72 285.89 L17.02 284.79 L17.34 283.81 L17.69 282.94 L18.06 282.15 L18.45 281.45 L18.86 280.83 L19.3 280.27 L19.76 279.77 L20.25 279.33 L20.76 278.95 L21.29 278.61 L21.85 278.31 L22.43 278.06 L23.04 277.85 L23.67 277.67 L24.32 277.52 L25.01 277.39 L25.71 277.29 L26.44 277.21 L27.2 277.14 L27.98 277.09 L28.79 277.05 L29.63 277.02 L30.49 277 L31.38 276.98 L32.29 276.97 L33.23 276.96 L34.2 276.96 L35.19 276.96 L36.21 276.96 L37.26 276.96 L38.33 276.96 L39.43 276.96 L40.56 276.97 L41.72 276.97 L42.9 276.98 L44.11 276.98 L45.35 276.99 L46.62 276.99 L47.91 277 L49.23 277.01 L50.58 277.01 L51.96 277.02 L53.37 277.03 L54.81 277.03 L56.27 277.04 L57.76 277.05 L59.28 277.06 L60.83 277.06 L62.41 277.07 L64.02 277.08 L65.66 277.09 L67.33 277.1 L69.02 277.1 L70.75 277.11 L72.5 277.12 L74.29 277.13 L76.1 277.14 L77.94 277.15 L79.82 277.16 L81.72 277.17 L83.65 277.18 L85.61 277.18 L87.61 277.19 L89.63 277.2 L91.68 277.21 L93.76 277.22 L95.88 277.23 L98.02 277.25 L100.2 277.26 L102.4 277.27 L104.64 277.28 L106.9 277.29 L109.2 277.3 L109.2 298.1 L109.7 302.03 L110.2 304.42 L110.7 305.87 L111.2 306.75 L111.7 307.28 L112.2 307.6 L112.7 307.8 L113.2 307.92 L113.7 307.99 L115.2 308.1" fill="none" stroke="#222" stroke-width="0.8" />
<path d="M12.4 308.1 L14.6 308.1 L14.6 308.03 L14.62 307.79 L14.65 307.34 L14.7 306.71 L14.76 305.9 L14.84 304.93 L14.94 303.86 L15.06 302.7 L15.2 301.51 L15.35 300.32 L15.53 299.15 L15.72 298.03 L15.94 296.98 L16.18 296.01 L16.44 295.11 L16.72 294.29 L17.02 293.54 L17.34 292.86 L17.69 292.24 L18.06 291.68 L18.45 291.16 L18.86 290.69 L19.3 290.26 L19.76 289.87 L20.25 289.52 L20.76 289.21 L21.29 288.93 L21.85 288.68 L22.43 288.46 L23.04 288.28 L23.67 288.11 L24.32 287.97 L25.01 287.86 L25.71 287.76 L26.44 287.67 L27.2 287.61 L27.98 287.55 L28.79 287.51 L29.63 287.47 L30.49 287.45 L31.38 287.43 L32.29 287.41 L33.23 287.4 L34.2 287.39 L35.19 287.38 L36.21 287.38 L37.26 287.38 L38.33 287.38 L39.43 287.38 L40.56 287.38 L41.72 287.38 L42.9 287.39 L44.11 287.39 L45.35 287.39 L46.62 287.4 L47.91 287.4 L49.23 287.41 L50.58 287.41 L51.96 287.41 L53.37 287.42 L54.81 287.42 L56.27 287.43 L57.76 287.43 L59.28 287.44 L60.83 287.44 L62.41 287.45 L64.02 287.45 L65.66 287.46 L67.33 287.46 L69.02 287.47 L70.75 287.48 L72.5 287.48 L74.29 287.49 L76.1 287.49 L77.94 287.5 L79.82 287.5 L81.72 287.51 L83.65 287.52 L85.61 287.52 L87.61 287.53 L89.63 287.54 L91.68 287.54 L93.76 287.55 L95.88 287.56 L98.02 287.56 L100.2 287.57 L102.4 287.58 L104.64 287.59 L106.9 287.59 L109.2 287.6 L109.2 298.1 L109.7 302.03 L110.2 304.42 L110.7 305.87 L111.2 306.75 L111.7 307.28 L112.2 307.6 L112.7 307.8 L113.2 307.92 L113.7 307.99 L115.2 308.1" fill="none" stroke="#222" stroke-width="0.8" />
<path d="M12.4 308.1 L14.6 308.1 L14.6 308.07 L14.62 307.97 L14.65 307.78 L14.7 307.51 L14.76 307.16 L14.84 306.74 L14.94 306.28 L15.06 305.78 L15.2 305.26 L15.35 304.73 L15.53 304.21 L15.72 303.71 L15.94 303.24 L16.18 302.79 L16.44 302.37 L16.72 301.98 L17.02 301.62 L17.34 301.28 L17.69 300.97 L18.06 300.68 L18.45 300.41 L18.86 300.16 L19.3 299.93 L19.76 299.72 L20.25 299.52 L20.76 299.35 L21.29 299.19 L21.85 299.04 L22.43 298.92 L23.04 298.8 L23.67 298.7 L24.32 298.62 L25.01 298.54 L25.71 298.48 L26.44 298.42 L27.2 298.38 L27.98 298.34 L28.79 298.31 L29.63 298.28 L30.49 298.26 L31.38 298.24 L32.29 298.23 L33.23 298.22 L34.2 298.21 L35.19 298.21 L36.21 298.2 L37.26 298.2 L38.33 298.2 L39.43 298.2 L40.56 298.2 L41.72 298.2 L42.9 298.2 L44.11 298.2 L45.35 298.2 L46.62 298.2 L47.91 298.21 L49.23 298.21 L50.58 298.21 L51.96 298.21 L53.37 298.21 L54.81 298.22 L56.27 298.22 L57.76 298.22 L59.28 298.22 L60.83 298.22 L62.41 298.23 L64.02 298.23 L65.66 298.23 L67.33 298.23 L69.02 298.24 L70.75 298.24 L72.5 298.24 L74.29 298.25 L76.1 298.25 L77.94 298.25 L79.82 298.25 L81.72 298.26 L83.65 298.26 L85.61 298.26 L87.61 298.27 L89.63 298.27 L91.68 298.27 L93.76 298.28 L95.88 298.28 L98.02 298.28 L100.2 298.29 L102.4 298.29 L104.64 298.29 L106.9 298.3 L109.2 298.3 L109.2 298.3 L109.7 302.16 L110.2 304.49 L110.7 305.91 L111.2 306.77 L111.7 307.3 L112.2 307.61 L112.7 307.8 L113.2 307.92 L113.7 307.99 L115.2 308.1" fill="none" stroke="#222" stroke-width="0.8" />
<path d="M12.4 308.1 L14.6 308.1 L14.6 308.09 L14.62 308.07 L14.65 308.02 L14.7 307.96 L14.76 307.87 L14.84 307.77 L14.94 307.66 L15.06 307.53 L15.2 307.4 L15.35 307.27 L15.53 307.14 L15.72 307.01 L15.94 306.89 L16.18 306.77 L16.44 306.65 L16.72 306.55 L17.02 306.45 L17.34 306.35 L17.69 306.26 L18.06 306.18 L18.45 306.1 L18.86 306.03 L19.3 305.96 L19.76 305.89 L20.25 305.83 L20.76 305.77 L21.29 305.72 L21.85 305.68 L22.43 305.63 L23.04 305.6 L23.67 305.56 L24.32 305.53 L25.01 305.51 L25.71 305.48 L26.44 305.46 L27.2 305.45 L27.98 305.43 L28.79 305.42 L29.63 305.41 L30.49 305.4 L31.38 305.4 L32.29 305.39 L33.23 305.39 L34.2 305.38 L35.19 305.38 L36.21 305.38 L37.26 305.38 L38.33 305.37 L39.43 305.37 L40.56 305.37 L41.72 305.37 L42.9 305.37 L44.11 305.37 L45.35 305.37 L46.62 305.37 L47.91 305.37 L49.23 305.37 L50.58 305.38 L51.96 305.38 L53.37 305.38 L54.81 305.38 L56.27 305.38 L57.76 305.38 L59.28 305.38 L60.83 305.38 L62.41 305.38 L64.02 305.38 L65.66 305.38 L67.33 305.38 L69.02 305.38 L70.75 305.38 L72.5 305.38 L74.29 305.39 L76.1 305.39 L77.94 305.39 L79.82 305.39 L81.72 305.39 L83.65 305.39 L85.61 305.39 L87.61 305.39 L89.63 305.39 L91.68 305.39 L93.76 305.39 L95.88 305.39 L98.02 305.4 L100.2 305.4 L102.4 305.4 L104.64 305.4 L106.9 305.4 L109.2 305.4 L109.2 305.4 L109.7 306.46 L110.2 307.11 L110.7 307.5 L111.2 307.73 L111.7 307.88 L112.2 307.97 L112.7 308.02 L113.2 308.05 L113.7 308.07 L115.2 308.1" fill="none" stroke="#222" stroke-width="0.8" />
<line x1="6.2" y1="308.1" x2="122.7" y2="308.1" stroke="#111" stroke-width="1.4" />
<line x1="160.4" y1="285.5" x2="160.4" y2="322.3" stroke="#666" stroke-width="0.8" />
<line x1="256.9" y1="288.6" x2="256.9" y2="322.7" stroke="#666" stroke-width="0.8" />
<path d="M160.6 307.6 L161.8 307.4 L162.05 306.67 L162.3 305.5 L162.55 304.49 L162.8 303.8 L163.05 303.39 L163.3 303.21 L163.55 303.18 L163.8 303.26 L164.05 303.39 L164.3 303.56 L164.55 303.75 L164.8 303.95 L165.05 304.14 L165.3 304.33 L165.55 304.51 L165.8 304.68 L166.05 304.84 L166.3 304.99 L166.55 305.13 L166.8 305.26 L167.05 305.38 L167.3 305.49 L167.55 305.59 L167.8 305.69 L168.05 305.78 L168.3 305.86 L168.55 305.94 L168.8 306.01 L169.05 306.08 L169.3 306.14 L169.55 306.2 L169.8 306.25 L170.05 306.3 L170.3 306.34 L170.55 306.38 L170.8 306.42 L171.05 306.46 L171.3 306.49 L171.55 306.52 L171.8 306.55 L172.05 306.58 L172.3 306.6 L172.55 306.62 L172.8 306.64 L173.05 306.66 L173.3 306.68 L173.55 306.7 L173.8 306.71 L174.05 306.73 L174.3 306.74 L174.55 306.75 L174.8 306.76 L175.05 306.77 L175.3 306.78 L175.55 306.79 L175.8 306.8 L176.05 306.81 L176.3 306.81 L176.55 306.82 L176 306.9 L185 307 L185 307.6Z" fill="#222" stroke="#111" stroke-width="0.6"/>
<line x1="154" y1="307.4" x2="270" y2="307.4" stroke="#111" stroke-width="1.6" />
<rect x="177.4" y="234.1" width="53" height="59.8" fill="#fff" stroke="#666" stroke-width="1"/>
<line x1="181.3" y1="234.6" x2="181.3" y2="292.4" stroke="#444" stroke-width="0.9" />
<path d="M178 286.1 L183.3 286.1 L183.7 282.89 L184.1 276.8 L184.5 270.34 L184.9 264.61 L185.3 259.98 L185.7 256.47 L186.1 253.97 L186.5 252.3 L186.9 251.31 L187.3 250.83 L187.7 250.75 L188.1 250.96 L188.5 251.39 L188.9 251.97 L189.3 252.66 L189.7 253.42 L190.1 254.22 L190.5 255.05 L190.9 255.9 L191.3 256.74 L191.7 257.58 L192.1 258.41 L192.5 259.22 L192.9 260.02 L193.3 260.79 L193.7 261.55 L194.1 262.28 L194.5 262.99 L194.9 263.68 L195.3 264.35 L195.7 265 L196.1 265.62 L196.5 266.23 L196.9 266.82 L197.3 267.38 L197.7 267.93 L198.1 268.46 L198.5 268.97 L198.9 269.47 L199.3 269.95 L199.7 270.41 L200.1 270.85 L200.5 271.29 L200.9 271.7 L201.3 272.11 L201.7 272.49 L202.1 272.87 L202.5 273.23 L202.9 273.58 L203.3 273.92 L203.7 274.25 L204.1 274.57 L204.5 274.87 L204.9 275.17 L205.3 275.45 L205.7 275.72 L206.1 275.99 L206.5 276.25 L206.9 276.49 L207.3 276.73 L207.7 276.97 L208.1 277.19 L208.5 277.4 L208.9 277.61 L209.3 277.81 L209.7 278.01 L210.1 278.2 L210.5 278.38 L210.9 278.55 L211.3 278.72 L211.7 278.88 L212.1 279.04 L212.5 279.19 L212.9 279.34 L213.3 279.48 L213.7 279.62 L214.1 279.75 L214.5 279.88 L214.9 280.01 L215.3 280.13 L215.7 280.24 L216.1 280.35 L216.5 280.46 L216.9 280.56 L217.3 280.66 L217.7 280.76 L218.1 280.85 L218.5 280.94 L218.9 281.03 L219.3 281.12 L219.7 281.2 L220.1 281.28 L220.5 281.35 L220.9 281.43 L221.3 281.5 L221.7 281.57 L222.1 281.63 L222.5 281.7 L222.9 281.76 L223.3 281.82 L223.7 281.87 L224.1 281.93 L224.5 281.98 L224.9 282.04 L225.3 282.09 L225.7 282.13 L226.1 282.18 L226.5 282.23 L226.9 282.27 L227.3 282.31 L227.7 282.35 L228.1 282.39 L228.5 282.43 L228.9 282.47 L229.3 282.5 L229.7 282.54" fill="none" stroke="#222" stroke-width="0.75" />
<path d="M178 286.1 L183.3 286.1 L183.7 283.28 L184.1 277.89 L184.5 272.08 L184.9 266.82 L185.3 262.48 L185.7 259.12 L186.1 256.65 L186.5 254.96 L186.9 253.88 L187.3 253.31 L187.7 253.11 L188.1 253.21 L188.5 253.52 L188.9 254 L189.3 254.58 L189.7 255.25 L190.1 255.97 L190.5 256.72 L190.9 257.49 L191.3 258.27 L191.7 259.04 L192.1 259.81 L192.5 260.57 L192.9 261.31 L193.3 262.04 L193.7 262.75 L194.1 263.44 L194.5 264.11 L194.9 264.76 L195.3 265.39 L195.7 266 L196.1 266.59 L196.5 267.16 L196.9 267.72 L197.3 268.25 L197.7 268.77 L198.1 269.27 L198.5 269.76 L198.9 270.22 L199.3 270.68 L199.7 271.11 L200.1 271.54 L200.5 271.94 L200.9 272.34 L201.3 272.72 L201.7 273.09 L202.1 273.44 L202.5 273.79 L202.9 274.12 L203.3 274.44 L203.7 274.75 L204.1 275.05 L204.5 275.33 L204.9 275.61 L205.3 275.88 L205.7 276.14 L206.1 276.39 L206.5 276.64 L206.9 276.87 L207.3 277.1 L207.7 277.32 L208.1 277.53 L208.5 277.73 L208.9 277.93 L209.3 278.12 L209.7 278.3 L210.1 278.48 L210.5 278.65 L210.9 278.82 L211.3 278.98 L211.7 279.13 L212.1 279.28 L212.5 279.43 L212.9 279.57 L213.3 279.7 L213.7 279.83 L214.1 279.96 L214.5 280.08 L214.9 280.19 L215.3 280.31 L215.7 280.42 L216.1 280.52 L216.5 280.62 L216.9 280.72 L217.3 280.82 L217.7 280.91 L218.1 281 L218.5 281.08 L218.9 281.17 L219.3 281.24 L219.7 281.32 L220.1 281.4 L220.5 281.47 L220.9 281.54 L221.3 281.6 L221.7 281.67 L222.1 281.73 L222.5 281.79 L222.9 281.85 L223.3 281.91 L223.7 281.96 L224.1 282.01 L224.5 282.07 L224.9 282.11 L225.3 282.16 L225.7 282.21 L226.1 282.25 L226.5 282.29 L226.9 282.34 L227.3 282.38 L227.7 282.41 L228.1 282.45 L228.5 282.49 L228.9 282.52 L229.3 282.55 L229.7 282.59" fill="none" stroke="#222" stroke-width="0.75" />
<path d="M178 286.1 L183.3 286.1 L183.7 283.65 L184.1 278.94 L184.5 273.79 L184.9 269.04 L185.3 265.05 L185.7 261.9 L186.1 259.53 L186.5 257.85 L186.9 256.75 L187.3 256.1 L187.7 255.81 L188.1 255.81 L188.5 256.02 L188.9 256.39 L189.3 256.87 L189.7 257.44 L190.1 258.07 L190.5 258.73 L190.9 259.42 L191.3 260.12 L191.7 260.82 L192.1 261.52 L192.5 262.22 L192.9 262.9 L193.3 263.57 L193.7 264.22 L194.1 264.86 L194.5 265.48 L194.9 266.08 L195.3 266.66 L195.7 267.23 L196.1 267.78 L196.5 268.31 L196.9 268.82 L197.3 269.32 L197.7 269.8 L198.1 270.27 L198.5 270.72 L198.9 271.15 L199.3 271.57 L199.7 271.98 L200.1 272.37 L200.5 272.75 L200.9 273.12 L201.3 273.47 L201.7 273.81 L202.1 274.14 L202.5 274.46 L202.9 274.77 L203.3 275.07 L203.7 275.36 L204.1 275.64 L204.5 275.9 L204.9 276.16 L205.3 276.41 L205.7 276.66 L206.1 276.89 L206.5 277.12 L206.9 277.33 L207.3 277.54 L207.7 277.75 L208.1 277.94 L208.5 278.13 L208.9 278.32 L209.3 278.49 L209.7 278.67 L210.1 278.83 L210.5 278.99 L210.9 279.14 L211.3 279.29 L211.7 279.44 L212.1 279.58 L212.5 279.71 L212.9 279.84 L213.3 279.97 L213.7 280.09 L214.1 280.2 L214.5 280.32 L214.9 280.42 L215.3 280.53 L215.7 280.63 L216.1 280.73 L216.5 280.82 L216.9 280.92 L217.3 281 L217.7 281.09 L218.1 281.17 L218.5 281.25 L218.9 281.33 L219.3 281.4 L219.7 281.47 L220.1 281.54 L220.5 281.61 L220.9 281.67 L221.3 281.74 L221.7 281.8 L222.1 281.86 L222.5 281.91 L222.9 281.97 L223.3 282.02 L223.7 282.07 L224.1 282.12 L224.5 282.17 L224.9 282.21 L225.3 282.25 L225.7 282.3 L226.1 282.34 L226.5 282.38 L226.9 282.42 L227.3 282.45 L227.7 282.49 L228.1 282.52 L228.5 282.56 L228.9 282.59 L229.3 282.62 L229.7 282.65" fill="none" stroke="#222" stroke-width="0.75" />
<path d="M178 286.1 L183.3 286.1 L183.7 284.01 L184.1 279.99 L184.5 275.54 L184.9 271.38 L185.3 267.82 L185.7 264.96 L186.1 262.76 L186.5 261.16 L186.9 260.07 L187.3 259.39 L187.7 259.04 L188.1 258.96 L188.5 259.07 L188.9 259.34 L189.3 259.72 L189.7 260.18 L190.1 260.71 L190.5 261.28 L190.9 261.87 L191.3 262.48 L191.7 263.1 L192.1 263.71 L192.5 264.33 L192.9 264.93 L193.3 265.53 L193.7 266.11 L194.1 266.68 L194.5 267.23 L194.9 267.77 L195.3 268.3 L195.7 268.81 L196.1 269.3 L196.5 269.78 L196.9 270.24 L197.3 270.69 L197.7 271.13 L198.1 271.55 L198.5 271.95 L198.9 272.34 L199.3 272.72 L199.7 273.09 L200.1 273.45 L200.5 273.79 L200.9 274.12 L201.3 274.44 L201.7 274.75 L202.1 275.05 L202.5 275.34 L202.9 275.61 L203.3 275.88 L203.7 276.14 L204.1 276.39 L204.5 276.64 L204.9 276.87 L205.3 277.1 L205.7 277.32 L206.1 277.53 L206.5 277.73 L206.9 277.93 L207.3 278.12 L207.7 278.3 L208.1 278.48 L208.5 278.65 L208.9 278.82 L209.3 278.98 L209.7 279.13 L210.1 279.28 L210.5 279.43 L210.9 279.57 L211.3 279.7 L211.7 279.83 L212.1 279.95 L212.5 280.08 L212.9 280.19 L213.3 280.31 L213.7 280.42 L214.1 280.52 L214.5 280.62 L214.9 280.72 L215.3 280.82 L215.7 280.91 L216.1 281 L216.5 281.08 L216.9 281.16 L217.3 281.24 L217.7 281.32 L218.1 281.4 L218.5 281.47 L218.9 281.54 L219.3 281.6 L219.7 281.67 L220.1 281.73 L220.5 281.79 L220.9 281.85 L221.3 281.91 L221.7 281.96 L222.1 282.01 L222.5 282.06 L222.9 282.11 L223.3 282.16 L223.7 282.21 L224.1 282.25 L224.5 282.29 L224.9 282.34 L225.3 282.37 L225.7 282.41 L226.1 282.45 L226.5 282.49 L226.9 282.52 L227.3 282.55 L227.7 282.59 L228.1 282.62 L228.5 282.65 L228.9 282.68 L229.3 282.71 L229.7 282.73" fill="none" stroke="#222" stroke-width="0.75" />
<path d="M178 286.1 L183.3 286.1 L183.7 284.34 L184.1 280.98 L184.5 277.22 L184.9 273.66 L185.3 270.57 L185.7 268.03 L186.1 266.06 L186.5 264.59 L186.9 263.55 L187.3 262.87 L187.7 262.49 L188.1 262.34 L188.5 262.37 L188.9 262.55 L189.3 262.83 L189.7 263.2 L190.1 263.62 L190.5 264.09 L190.9 264.58 L191.3 265.1 L191.7 265.62 L192.1 266.15 L192.5 266.68 L192.9 267.2 L193.3 267.72 L193.7 268.22 L194.1 268.72 L194.5 269.2 L194.9 269.67 L195.3 270.13 L195.7 270.58 L196.1 271.01 L196.5 271.43 L196.9 271.84 L197.3 272.23 L197.7 272.61 L198.1 272.98 L198.5 273.34 L198.9 273.68 L199.3 274.01 L199.7 274.34 L200.1 274.65 L200.5 274.95 L200.9 275.24 L201.3 275.52 L201.7 275.8 L202.1 276.06 L202.5 276.31 L202.9 276.56 L203.3 276.79 L203.7 277.02 L204.1 277.24 L204.5 277.46 L204.9 277.66 L205.3 277.86 L205.7 278.06 L206.1 278.24 L206.5 278.42 L206.9 278.59 L207.3 278.76 L207.7 278.92 L208.1 279.08 L208.5 279.23 L208.9 279.38 L209.3 279.52 L209.7 279.65 L210.1 279.79 L210.5 279.91 L210.9 280.04 L211.3 280.15 L211.7 280.27 L212.1 280.38 L212.5 280.49 L212.9 280.59 L213.3 280.69 L213.7 280.78 L214.1 280.88 L214.5 280.97 L214.9 281.05 L215.3 281.14 L215.7 281.22 L216.1 281.3 L216.5 281.37 L216.9 281.44 L217.3 281.51 L217.7 281.58 L218.1 281.65 L218.5 281.71 L218.9 281.77 L219.3 281.83 L219.7 281.89 L220.1 281.94 L220.5 282 L220.9 282.05 L221.3 282.1 L221.7 282.15 L222.1 282.19 L222.5 282.24 L222.9 282.28 L223.3 282.32 L223.7 282.36 L224.1 282.4 L224.5 282.44 L224.9 282.47 L225.3 282.51 L225.7 282.54 L226.1 282.58 L226.5 282.61 L226.9 282.64 L227.3 282.67 L227.7 282.7 L228.1 282.72 L228.5 282.75 L228.9 282.78 L229.3 282.8 L229.7 282.82" fill="none" stroke="#222" stroke-width="0.75" />
<path d="M178 286.1 L183.3 286.1 L183.7 284.67 L184.1 281.98 L184.5 278.94 L184.9 276.03 L185.3 273.48 L185.7 271.35 L186.1 269.66 L186.5 268.38 L186.9 267.45 L187.3 266.81 L187.7 266.43 L188.1 266.24 L188.5 266.21 L188.9 266.31 L189.3 266.5 L189.7 266.76 L190.1 267.08 L190.5 267.44 L190.9 267.83 L191.3 268.24 L191.7 268.66 L192.1 269.09 L192.5 269.51 L192.9 269.94 L193.3 270.36 L193.7 270.78 L194.1 271.19 L194.5 271.58 L194.9 271.97 L195.3 272.35 L195.7 272.72 L196.1 273.08 L196.5 273.43 L196.9 273.77 L197.3 274.09 L197.7 274.41 L198.1 274.72 L198.5 275.02 L198.9 275.3 L199.3 275.58 L199.7 275.85 L200.1 276.11 L200.5 276.36 L200.9 276.6 L201.3 276.84 L201.7 277.07 L202.1 277.29 L202.5 277.5 L202.9 277.7 L203.3 277.9 L203.7 278.09 L204.1 278.28 L204.5 278.45 L204.9 278.63 L205.3 278.79 L205.7 278.95 L206.1 279.11 L206.5 279.26 L206.9 279.4 L207.3 279.54 L207.7 279.68 L208.1 279.81 L208.5 279.94 L208.9 280.06 L209.3 280.17 L209.7 280.29 L210.1 280.4 L210.5 280.5 L210.9 280.61 L211.3 280.71 L211.7 280.8 L212.1 280.89 L212.5 280.98 L212.9 281.07 L213.3 281.15 L213.7 281.23 L214.1 281.31 L214.5 281.38 L214.9 281.46 L215.3 281.53 L215.7 281.59 L216.1 281.66 L216.5 281.72 L216.9 281.78 L217.3 281.84 L217.7 281.9 L218.1 281.95 L218.5 282.01 L218.9 282.06 L219.3 282.11 L219.7 282.15 L220.1 282.2 L220.5 282.24 L220.9 282.29 L221.3 282.33 L221.7 282.37 L222.1 282.41 L222.5 282.44 L222.9 282.48 L223.3 282.52 L223.7 282.55 L224.1 282.58 L224.5 282.61 L224.9 282.64 L225.3 282.67 L225.7 282.7 L226.1 282.73 L226.5 282.75 L226.9 282.78 L227.3 282.8 L227.7 282.83 L228.1 282.85 L228.5 282.87 L228.9 282.9 L229.3 282.92 L229.7 282.94" fill="none" stroke="#222" stroke-width="0.75" />
<path d="M178 286.1 L183.3 286.1 L183.7 284.99 L184.1 282.97 L184.5 280.69 L184.9 278.49 L185.3 276.53 L185.7 274.88 L186.1 273.55 L186.5 272.51 L186.9 271.74 L187.3 271.2 L187.7 270.85 L188.1 270.65 L188.5 270.58 L188.9 270.61 L189.3 270.72 L189.7 270.88 L190.1 271.1 L190.5 271.35 L190.9 271.62 L191.3 271.92 L191.7 272.22 L192.1 272.53 L192.5 272.85 L192.9 273.17 L193.3 273.48 L193.7 273.79 L194.1 274.1 L194.5 274.4 L194.9 274.69 L195.3 274.98 L195.7 275.26 L196.1 275.53 L196.5 275.8 L196.9 276.05 L197.3 276.3 L197.7 276.54 L198.1 276.78 L198.5 277.01 L198.9 277.22 L199.3 277.44 L199.7 277.64 L200.1 277.84 L200.5 278.03 L200.9 278.22 L201.3 278.4 L201.7 278.57 L202.1 278.74 L202.5 278.9 L202.9 279.06 L203.3 279.21 L203.7 279.36 L204.1 279.5 L204.5 279.63 L204.9 279.77 L205.3 279.89 L205.7 280.02 L206.1 280.14 L206.5 280.25 L206.9 280.36 L207.3 280.47 L207.7 280.57 L208.1 280.67 L208.5 280.77 L208.9 280.86 L209.3 280.95 L209.7 281.04 L210.1 281.12 L210.5 281.2 L210.9 281.28 L211.3 281.36 L211.7 281.43 L212.1 281.5 L212.5 281.57 L212.9 281.64 L213.3 281.7 L213.7 281.76 L214.1 281.82 L214.5 281.88 L214.9 281.93 L215.3 281.99 L215.7 282.04 L216.1 282.09 L216.5 282.14 L216.9 282.18 L217.3 282.23 L217.7 282.27 L218.1 282.31 L218.5 282.36 L218.9 282.39 L219.3 282.43 L219.7 282.47 L220.1 282.5 L220.5 282.54 L220.9 282.57 L221.3 282.6 L221.7 282.63 L222.1 282.66 L222.5 282.69 L222.9 282.72 L223.3 282.75 L223.7 282.77 L224.1 282.8 L224.5 282.82 L224.9 282.84 L225.3 282.87 L225.7 282.89 L226.1 282.91 L226.5 282.93 L226.9 282.95 L227.3 282.97 L227.7 282.99 L228.1 283 L228.5 283.02 L228.9 283.04 L229.3 283.05 L229.7 283.07" fill="none" stroke="#222" stroke-width="0.75" />
<path d="M178 286.1 L183.3 286.1 L183.7 285.27 L184.1 283.88 L184.5 282.31 L184.9 280.79 L185.3 279.42 L185.7 278.25 L186.1 277.29 L186.5 276.54 L186.9 275.96 L187.3 275.53 L187.7 275.24 L188.1 275.06 L188.5 274.97 L188.9 274.95 L189.3 274.99 L189.7 275.07 L190.1 275.19 L190.5 275.34 L190.9 275.51 L191.3 275.69 L191.7 275.89 L192.1 276.09 L192.5 276.29 L192.9 276.5 L193.3 276.7 L193.7 276.91 L194.1 277.11 L194.5 277.31 L194.9 277.51 L195.3 277.7 L195.7 277.89 L196.1 278.07 L196.5 278.25 L196.9 278.42 L197.3 278.59 L197.7 278.76 L198.1 278.92 L198.5 279.07 L198.9 279.22 L199.3 279.36 L199.7 279.5 L200.1 279.64 L200.5 279.77 L200.9 279.89 L201.3 280.02 L201.7 280.14 L202.1 280.25 L202.5 280.36 L202.9 280.47 L203.3 280.57 L203.7 280.67 L204.1 280.77 L204.5 280.86 L204.9 280.95 L205.3 281.04 L205.7 281.12 L206.1 281.2 L206.5 281.28 L206.9 281.36 L207.3 281.43 L207.7 281.5 L208.1 281.57 L208.5 281.63 L208.9 281.7 L209.3 281.76 L209.7 281.82 L210.1 281.88 L210.5 281.93 L210.9 281.99 L211.3 282.04 L211.7 282.09 L212.1 282.14 L212.5 282.18 L212.9 282.23 L213.3 282.27 L213.7 282.31 L214.1 282.35 L214.5 282.39 L214.9 282.43 L215.3 282.47 L215.7 282.5 L216.1 282.54 L216.5 282.57 L216.9 282.6 L217.3 282.63 L217.7 282.66 L218.1 282.69 L218.5 282.72 L218.9 282.74 L219.3 282.77 L219.7 282.8 L220.1 282.82 L220.5 282.84 L220.9 282.87 L221.3 282.89 L221.7 282.91 L222.1 282.93 L222.5 282.95 L222.9 282.97 L223.3 282.98 L223.7 283 L224.1 283.02 L224.5 283.04 L224.9 283.05 L225.3 283.07 L225.7 283.08 L226.1 283.1 L226.5 283.11 L226.9 283.12 L227.3 283.14 L227.7 283.15 L228.1 283.16 L228.5 283.17 L228.9 283.18 L229.3 283.19 L229.7 283.2" fill="none" stroke="#222" stroke-width="0.75" />
<path d="M178 286.1 L183.3 286.1 L183.7 285.56 L184.1 284.79 L184.5 283.96 L184.9 283.16 L185.3 282.44 L185.7 281.82 L186.1 281.3 L186.5 280.87 L186.9 280.54 L187.3 280.28 L187.7 280.09 L188.1 279.96 L188.5 279.87 L188.9 279.82 L189.3 279.8 L189.7 279.81 L190.1 279.84 L190.5 279.88 L190.9 279.94 L191.3 280.01 L191.7 280.08 L192.1 280.16 L192.5 280.24 L192.9 280.33 L193.3 280.41 L193.7 280.5 L194.1 280.59 L194.5 280.67 L194.9 280.76 L195.3 280.85 L195.7 280.93 L196.1 281.01 L196.5 281.09 L196.9 281.17 L197.3 281.24 L197.7 281.32 L198.1 281.39 L198.5 281.46 L198.9 281.53 L199.3 281.59 L199.7 281.66 L200.1 281.72 L200.5 281.78 L200.9 281.84 L201.3 281.89 L201.7 281.95 L202.1 282 L202.5 282.05 L202.9 282.1 L203.3 282.15 L203.7 282.19 L204.1 282.24 L204.5 282.28 L204.9 282.32 L205.3 282.36 L205.7 282.4 L206.1 282.44 L206.5 282.47 L206.9 282.51 L207.3 282.54 L207.7 282.57 L208.1 282.61 L208.5 282.64 L208.9 282.67 L209.3 282.69 L209.7 282.72 L210.1 282.75 L210.5 282.77 L210.9 282.8 L211.3 282.82 L211.7 282.85 L212.1 282.87 L212.5 282.89 L212.9 282.91 L213.3 282.93 L213.7 282.95 L214.1 282.97 L214.5 282.99 L214.9 283 L215.3 283.02 L215.7 283.04 L216.1 283.05 L216.5 283.07 L216.9 283.08 L217.3 283.1 L217.7 283.11 L218.1 283.13 L218.5 283.14 L218.9 283.15 L219.3 283.16 L219.7 283.17 L220.1 283.18 L220.5 283.2 L220.9 283.21 L221.3 283.22 L221.7 283.23 L222.1 283.24 L222.5 283.24 L222.9 283.25 L223.3 283.26 L223.7 283.27 L224.1 283.28 L224.5 283.29 L224.9 283.29 L225.3 283.3 L225.7 283.31 L226.1 283.31 L226.5 283.32 L226.9 283.33 L227.3 283.33 L227.7 283.34 L228.1 283.34 L228.5 283.35 L228.9 283.35 L229.3 283.36 L229.7 283.36" fill="none" stroke="#222" stroke-width="0.75" />
<path d="M178 286.1 L183.3 286.1 L183.7 285.88 L184.1 285.59 L184.5 285.29 L184.9 285 L185.3 284.73 L185.7 284.5 L186.1 284.3 L186.5 284.14 L186.9 284.01 L187.3 283.91 L187.7 283.83 L188.1 283.77 L188.5 283.73 L188.9 283.71 L189.3 283.69 L189.7 283.69 L190.1 283.69 L190.5 283.7 L190.9 283.71 L191.3 283.73 L191.7 283.75 L192.1 283.78 L192.5 283.8 L192.9 283.83 L193.3 283.86 L193.7 283.88 L194.1 283.91 L194.5 283.94 L194.9 283.97 L195.3 284 L195.7 284.02 L196.1 284.05 L196.5 284.08 L196.9 284.1 L197.3 284.13 L197.7 284.15 L198.1 284.18 L198.5 284.2 L198.9 284.22 L199.3 284.25 L199.7 284.27 L200.1 284.29 L200.5 284.31 L200.9 284.33 L201.3 284.35 L201.7 284.37 L202.1 284.39 L202.5 284.4 L202.9 284.42 L203.3 284.44 L203.7 284.45 L204.1 284.47 L204.5 284.48 L204.9 284.5 L205.3 284.51 L205.7 284.52 L206.1 284.54 L206.5 284.55 L206.9 284.56 L207.3 284.57 L207.7 284.58 L208.1 284.59 L208.5 284.6 L208.9 284.61 L209.3 284.62 L209.7 284.63 L210.1 284.64 L210.5 284.65 L210.9 284.66 L211.3 284.67 L211.7 284.68 L212.1 284.68 L212.5 284.69 L212.9 284.7 L213.3 284.7 L213.7 284.71 L214.1 284.72 L214.5 284.72 L214.9 284.73 L215.3 284.74 L215.7 284.74 L216.1 284.75 L216.5 284.75 L216.9 284.76 L217.3 284.76 L217.7 284.77 L218.1 284.77 L218.5 284.78 L218.9 284.78 L219.3 284.78 L219.7 284.79 L220.1 284.79 L220.5 284.8 L220.9 284.8 L221.3 284.8 L221.7 284.81 L222.1 284.81 L222.5 284.81 L222.9 284.82 L223.3 284.82 L223.7 284.82 L224.1 284.82 L224.5 284.83 L224.9 284.83 L225.3 284.83 L225.7 284.83 L226.1 284.84 L226.5 284.84 L226.9 284.84 L227.3 284.84 L227.7 284.84 L228.1 284.85 L228.5 284.85 L228.9 284.85 L229.3 284.85 L229.7 284.85" fill="none" stroke="#222" stroke-width="0.75" />
<line x1="177.9" y1="286.1" x2="229.9" y2="286.1" stroke="#111" stroke-width="1.6" />
<line x1="177.9" y1="284.6" x2="229.9" y2="284.6" stroke="#333" stroke-width="0.6" />
<line x1="291.2" y1="306.6" x2="402.6" y2="306.6" stroke="#222" stroke-width="1.1" />
<line x1="292.3" y1="304" x2="292.3" y2="315.2" stroke="#555" stroke-width="0.8" />
<line x1="389.3" y1="294.7" x2="389.3" y2="309" stroke="#555" stroke-width="0.8" />
<line x1="432.7" y1="305.5" x2="544.7" y2="305.5" stroke="#222" stroke-width="1.1" />
<line x1="433.9" y1="301.5" x2="433.9" y2="313.7" stroke="#555" stroke-width="0.8" />
<line x1="531" y1="288.6" x2="531" y2="308" stroke="#555" stroke-width="0.8" />
<line x1="569.8" y1="303.9" x2="681.2" y2="303.9" stroke="#222" stroke-width="1.6" />
<line x1="570.6" y1="302.4" x2="570.6" y2="312.3" stroke="#555" stroke-width="0.8" />
<line x1="667.9" y1="293.7" x2="667.9" y2="304.7" stroke="#555" stroke-width="0.8" />
<text x="79.2" y="394" font-size="11.9" text-anchor="start" fill="#111" >5 µA</text>
<text x="106.6" y="412.5" font-size="11.9" text-anchor="start" fill="#111" >20 ms</text>
<path d="M111.5 384.1 V398 H130.5" fill="none" stroke="#333" stroke-width="1"/>
<text x="24.5" y="426.6" font-size="21" text-anchor="start" fill="#111" >M1stop</text>
<text x="22.5" y="561.5" font-size="21" text-anchor="start" fill="#111" >M1stop-M312L</text>
<line x1="23.8" y1="495.8" x2="23.8" y2="517.8" stroke="#666" stroke-width="0.8" />
<line x1="120.3" y1="439.3" x2="120.3" y2="519" stroke="#666" stroke-width="0.8" />
<path d="M23.8 509.6 L25.6 509.6 L25.6 509.34 L25.62 508.4 L25.65 506.71 L25.7 504.27 L25.76 501.14 L25.84 497.41 L25.94 493.21 L26.06 488.68 L26.2 483.98 L26.35 479.26 L26.53 474.66 L26.73 470.28 L26.94 466.21 L27.18 462.52 L27.44 459.22 L27.72 456.32 L28.02 453.81 L28.35 451.65 L28.69 449.81 L29.06 448.26 L29.45 446.94 L29.87 445.82 L30.31 444.86 L30.77 444.05 L31.26 443.36 L31.77 442.76 L32.3 442.25 L32.86 441.81 L33.44 441.43 L34.05 441.11 L34.68 440.84 L35.34 440.61 L36.02 440.41 L36.72 440.25 L37.46 440.12 L38.21 440.01 L39 439.92 L39.81 439.85 L40.64 439.79 L41.51 439.75 L42.39 439.71 L43.31 439.68 L44.25 439.66 L45.22 439.65 L46.21 439.63 L47.23 439.62 L48.28 439.62 L49.35 439.61 L50.46 439.61 L51.59 439.61 L52.74 439.6 L53.93 439.6 L55.14 439.6 L56.38 439.6 L57.65 439.6 L58.94 439.6 L60.27 439.6 L61.62 439.6 L63 439.6 L64.41 439.6 L65.85 439.6 L67.31 439.6 L68.81 439.6 L70.33 439.6 L71.88 439.6 L73.46 439.6 L75.07 439.6 L76.71 439.6 L78.38 439.6 L80.08 439.6 L81.81 439.6 L83.56 439.6 L85.35 439.6 L87.16 439.6 L89.01 439.6 L90.88 439.6 L92.79 439.6 L94.72 439.6 L96.69 439.6 L98.68 439.6 L100.71 439.6 L102.76 439.6 L104.85 439.6 L106.96 439.6 L109.11 439.6 L111.29 439.6 L113.49 439.6 L115.73 439.6 L118 439.6 L120.3 439.6 L120.3 509.6 L120.8 509.6 L121.3 509.6 L121.8 509.6 L122.3 509.6 L122.8 509.6 L123.3 509.6 L123.8 509.6 L124.3 509.6 L124.8 509.6 L126.3 509.6" fill="none" stroke="#555" stroke-width="0.7" />
<path d="M23.8 509.6 L25.6 509.6 L25.6 509.37 L25.62 508.53 L25.65 507.03 L25.7 504.86 L25.76 502.07 L25.84 498.75 L25.94 495 L26.06 490.95 L26.2 486.75 L26.35 482.51 L26.53 478.37 L26.73 474.41 L26.94 470.72 L27.18 467.35 L27.44 464.32 L27.72 461.63 L28.02 459.28 L28.35 457.24 L28.69 455.47 L29.06 453.95 L29.45 452.64 L29.87 451.5 L30.31 450.52 L30.77 449.66 L31.26 448.91 L31.77 448.26 L32.3 447.69 L32.86 447.18 L33.44 446.75 L34.05 446.37 L34.68 446.04 L35.34 445.75 L36.02 445.51 L36.72 445.31 L37.46 445.13 L38.21 444.99 L39 444.87 L39.81 444.77 L40.64 444.69 L41.51 444.63 L42.39 444.58 L43.31 444.54 L44.25 444.5 L45.22 444.48 L46.21 444.46 L47.23 444.44 L48.28 444.43 L49.35 444.42 L50.46 444.42 L51.59 444.41 L52.74 444.41 L53.93 444.41 L55.14 444.4 L56.38 444.4 L57.65 444.4 L58.94 444.4 L60.27 444.4 L61.62 444.4 L63 444.4 L64.41 444.4 L65.85 444.4 L67.31 444.4 L68.81 444.4 L70.33 444.4 L71.88 444.4 L73.46 444.4 L75.07 444.4 L76.71 444.4 L78.38 444.4 L80.08 444.4 L81.81 444.4 L83.56 444.4 L85.35 444.4 L87.16 444.4 L89.01 444.4 L90.88 444.4 L92.79 444.4 L94.72 444.4 L96.69 444.4 L98.68 444.4 L100.71 444.4 L102.76 444.4 L104.85 444.4 L106.96 444.4 L109.11 444.4 L111.29 444.4 L113.49 444.4 L115.73 444.4 L118 444.4 L120.3 444.4 L120.3 509.6 L120.8 509.6 L121.3 509.6 L121.8 509.6 L122.3 509.6 L122.8 509.6 L123.3 509.6 L123.8 509.6 L124.3 509.6 L124.8 509.6 L126.3 509.6" fill="none" stroke="#555" stroke-width="0.7" />
<path d="M23.8 509.6 L25.6 509.6 L25.6 509.4 L25.62 508.67 L25.65 507.36 L25.7 505.48 L25.76 503.05 L25.84 500.15 L25.94 496.87 L26.06 493.34 L26.2 489.65 L26.35 485.93 L26.53 482.28 L26.73 478.79 L26.94 475.51 L27.18 472.5 L27.44 469.77 L27.72 467.33 L28.02 465.18 L28.35 463.29 L28.69 461.63 L29.06 460.18 L29.45 458.91 L29.87 457.79 L30.31 456.81 L30.77 455.94 L31.26 455.16 L31.77 454.47 L32.3 453.86 L32.86 453.31 L33.44 452.83 L34.05 452.4 L34.68 452.03 L35.34 451.7 L36.02 451.42 L36.72 451.18 L37.46 450.97 L38.21 450.79 L39 450.64 L39.81 450.52 L40.64 450.41 L41.51 450.33 L42.39 450.26 L43.31 450.2 L44.25 450.16 L45.22 450.12 L46.21 450.09 L47.23 450.07 L48.28 450.05 L49.35 450.04 L50.46 450.03 L51.59 450.02 L52.74 450.02 L53.93 450.01 L55.14 450.01 L56.38 450.01 L57.65 450 L58.94 450 L60.27 450 L61.62 450 L63 450 L64.41 450 L65.85 450 L67.31 450 L68.81 450 L70.33 450 L71.88 450 L73.46 450 L75.07 450 L76.71 450 L78.38 450 L80.08 450 L81.81 450 L83.56 450 L85.35 450 L87.16 450 L89.01 450 L90.88 450 L92.79 450 L94.72 450 L96.69 450 L98.68 450 L100.71 450 L102.76 450 L104.85 450 L106.96 450 L109.11 450 L111.29 450 L113.49 450 L115.73 450 L118 450 L120.3 450 L120.3 509.6 L120.8 509.6 L121.3 509.6 L121.8 509.6 L122.3 509.6 L122.8 509.6 L123.3 509.6 L123.8 509.6 L124.3 509.6 L124.8 509.6 L126.3 509.6" fill="none" stroke="#555" stroke-width="0.7" />
<path d="M23.8 509.6 L25.6 509.6 L25.6 509.42 L25.62 508.8 L25.65 507.67 L25.7 506.03 L25.76 503.93 L25.84 501.42 L25.94 498.58 L26.06 495.51 L26.2 492.3 L26.35 489.05 L26.53 485.86 L26.73 482.79 L26.94 479.89 L27.18 477.22 L27.44 474.78 L27.72 472.58 L28.02 470.62 L28.35 468.88 L28.69 467.34 L29.06 465.97 L29.45 464.75 L29.87 463.67 L30.31 462.7 L30.77 461.82 L31.26 461.03 L31.77 460.32 L32.3 459.68 L32.86 459.11 L33.44 458.59 L34.05 458.13 L34.68 457.71 L35.34 457.35 L36.02 457.03 L36.72 456.75 L37.46 456.51 L38.21 456.3 L39 456.13 L39.81 455.98 L40.64 455.85 L41.51 455.74 L42.39 455.66 L43.31 455.58 L44.25 455.53 L45.22 455.48 L46.21 455.44 L47.23 455.41 L48.28 455.38 L49.35 455.36 L50.46 455.35 L51.59 455.34 L52.74 455.33 L53.93 455.32 L55.14 455.32 L56.38 455.31 L57.65 455.31 L58.94 455.31 L60.27 455.3 L61.62 455.3 L63 455.3 L64.41 455.3 L65.85 455.3 L67.31 455.3 L68.81 455.3 L70.33 455.3 L71.88 455.3 L73.46 455.3 L75.07 455.3 L76.71 455.3 L78.38 455.3 L80.08 455.3 L81.81 455.3 L83.56 455.3 L85.35 455.3 L87.16 455.3 L89.01 455.3 L90.88 455.3 L92.79 455.3 L94.72 455.3 L96.69 455.3 L98.68 455.3 L100.71 455.3 L102.76 455.3 L104.85 455.3 L106.96 455.3 L109.11 455.3 L111.29 455.3 L113.49 455.3 L115.73 455.3 L118 455.3 L120.3 455.3 L120.3 509.6 L120.8 509.6 L121.3 509.6 L121.8 509.6 L122.3 509.6 L122.8 509.6 L123.3 509.6 L123.8 509.6 L124.3 509.6 L124.8 509.6 L126.3 509.6" fill="none" stroke="#555" stroke-width="0.7" />
<path d="M23.8 509.6 L25.6 509.6 L25.6 509.45 L25.62 508.94 L25.65 508 L25.7 506.66 L25.76 504.92 L25.84 502.84 L25.94 500.49 L26.06 497.94 L26.2 495.27 L26.35 492.56 L26.53 489.89 L26.73 487.31 L26.94 484.87 L27.18 482.6 L27.44 480.52 L27.72 478.63 L28.02 476.92 L28.35 475.39 L28.69 474.02 L29.06 472.79 L29.45 471.68 L29.87 470.67 L30.31 469.76 L30.77 468.93 L31.26 468.18 L31.77 467.49 L32.3 466.86 L32.86 466.28 L33.44 465.76 L34.05 465.29 L34.68 464.87 L35.34 464.49 L36.02 464.16 L36.72 463.86 L37.46 463.6 L38.21 463.38 L39 463.18 L39.81 463.01 L40.64 462.87 L41.51 462.75 L42.39 462.65 L43.31 462.56 L44.25 462.49 L45.22 462.43 L46.21 462.38 L47.23 462.35 L48.28 462.31 L49.35 462.29 L50.46 462.27 L51.59 462.25 L52.74 462.24 L53.93 462.23 L55.14 462.22 L56.38 462.22 L57.65 462.21 L58.94 462.21 L60.27 462.21 L61.62 462.21 L63 462.2 L64.41 462.2 L65.85 462.2 L67.31 462.2 L68.81 462.2 L70.33 462.2 L71.88 462.2 L73.46 462.2 L75.07 462.2 L76.71 462.2 L78.38 462.2 L80.08 462.2 L81.81 462.2 L83.56 462.2 L85.35 462.2 L87.16 462.2 L89.01 462.2 L90.88 462.2 L92.79 462.2 L94.72 462.2 L96.69 462.2 L98.68 462.2 L100.71 462.2 L102.76 462.2 L104.85 462.2 L106.96 462.2 L109.11 462.2 L111.29 462.2 L113.49 462.2 L115.73 462.2 L118 462.2 L120.3 462.2 L120.3 509.6 L120.8 509.6 L121.3 509.6 L121.8 509.6 L122.3 509.6 L122.8 509.6 L123.3 509.6 L123.8 509.6 L124.3 509.6 L124.8 509.6 L126.3 509.6" fill="none" stroke="#555" stroke-width="0.7" />
<path d="M23.8 509.6 L25.6 509.6 L25.6 509.48 L25.62 509.06 L25.65 508.31 L25.7 507.21 L25.76 505.8 L25.84 504.11 L25.94 502.2 L26.06 500.12 L26.2 497.94 L26.35 495.72 L26.53 493.52 L26.73 491.4 L26.94 489.37 L27.18 487.48 L27.44 485.72 L27.72 484.12 L28.02 482.66 L28.35 481.34 L28.69 480.14 L29.06 479.05 L29.45 478.06 L29.87 477.15 L30.31 476.32 L30.77 475.55 L31.26 474.84 L31.77 474.18 L32.3 473.58 L32.86 473.03 L33.44 472.52 L34.05 472.06 L34.68 471.64 L35.34 471.26 L36.02 470.92 L36.72 470.62 L37.46 470.35 L38.21 470.11 L39 469.91 L39.81 469.73 L40.64 469.58 L41.51 469.44 L42.39 469.33 L43.31 469.23 L44.25 469.15 L45.22 469.09 L46.21 469.03 L47.23 468.99 L48.28 468.95 L49.35 468.92 L50.46 468.89 L51.59 468.87 L52.74 468.86 L53.93 468.84 L55.14 468.83 L56.38 468.83 L57.65 468.82 L58.94 468.81 L60.27 468.81 L61.62 468.81 L63 468.81 L64.41 468.8 L65.85 468.8 L67.31 468.8 L68.81 468.8 L70.33 468.8 L71.88 468.8 L73.46 468.8 L75.07 468.8 L76.71 468.8 L78.38 468.8 L80.08 468.8 L81.81 468.8 L83.56 468.8 L85.35 468.8 L87.16 468.8 L89.01 468.8 L90.88 468.8 L92.79 468.8 L94.72 468.8 L96.69 468.8 L98.68 468.8 L100.71 468.8 L102.76 468.8 L104.85 468.8 L106.96 468.8 L109.11 468.8 L111.29 468.8 L113.49 468.8 L115.73 468.8 L118 468.8 L120.3 468.8 L120.3 509.6 L120.8 509.6 L121.3 509.6 L121.8 509.6 L122.3 509.6 L122.8 509.6 L123.3 509.6 L123.8 509.6 L124.3 509.6 L124.8 509.6 L126.3 509.6" fill="none" stroke="#555" stroke-width="0.7" />
<path d="M23.8 509.6 L25.6 509.6 L25.6 509.51 L25.62 509.19 L25.65 508.61 L25.7 507.77 L25.76 506.69 L25.84 505.39 L25.94 503.92 L26.06 502.32 L26.2 500.64 L26.35 498.92 L26.53 497.21 L26.73 495.55 L26.94 493.96 L27.18 492.47 L27.44 491.07 L27.72 489.79 L28.02 488.61 L28.35 487.53 L28.69 486.54 L29.06 485.63 L29.45 484.79 L29.87 484.01 L30.31 483.29 L30.77 482.62 L31.26 482 L31.77 481.42 L32.3 480.88 L32.86 480.38 L33.44 479.91 L34.05 479.49 L34.68 479.1 L35.34 478.75 L36.02 478.43 L36.72 478.14 L37.46 477.88 L38.21 477.66 L39 477.45 L39.81 477.28 L40.64 477.12 L41.51 476.99 L42.39 476.88 L43.31 476.78 L44.25 476.69 L45.22 476.62 L46.21 476.56 L47.23 476.51 L48.28 476.47 L49.35 476.44 L50.46 476.41 L51.59 476.39 L52.74 476.37 L53.93 476.35 L55.14 476.34 L56.38 476.33 L57.65 476.33 L58.94 476.32 L60.27 476.31 L61.62 476.31 L63 476.31 L64.41 476.31 L65.85 476.3 L67.31 476.3 L68.81 476.3 L70.33 476.3 L71.88 476.3 L73.46 476.3 L75.07 476.3 L76.71 476.3 L78.38 476.3 L80.08 476.3 L81.81 476.3 L83.56 476.3 L85.35 476.3 L87.16 476.3 L89.01 476.3 L90.88 476.3 L92.79 476.3 L94.72 476.3 L96.69 476.3 L98.68 476.3 L100.71 476.3 L102.76 476.3 L104.85 476.3 L106.96 476.3 L109.11 476.3 L111.29 476.3 L113.49 476.3 L115.73 476.3 L118 476.3 L120.3 476.3 L120.3 509.6 L120.8 509.6 L121.3 509.6 L121.8 509.6 L122.3 509.6 L122.8 509.6 L123.3 509.6 L123.8 509.6 L124.3 509.6 L124.8 509.6 L126.3 509.6" fill="none" stroke="#555" stroke-width="0.7" />
<path d="M23.8 509.6 L25.6 509.6 L25.6 509.54 L25.62 509.31 L25.65 508.9 L25.7 508.31 L25.76 507.55 L25.84 506.64 L25.94 505.6 L26.06 504.46 L26.2 503.27 L26.35 502.04 L26.53 500.82 L26.73 499.63 L26.94 498.48 L27.18 497.39 L27.44 496.37 L27.72 495.42 L28.02 494.54 L28.35 493.73 L28.69 492.97 L29.06 492.27 L29.45 491.62 L29.87 491.01 L30.31 490.44 L30.77 489.91 L31.26 489.4 L31.77 488.93 L32.3 488.49 L32.86 488.07 L33.44 487.69 L34.05 487.33 L34.68 487.01 L35.34 486.71 L36.02 486.43 L36.72 486.19 L37.46 485.96 L38.21 485.76 L39 485.58 L39.81 485.43 L40.64 485.29 L41.51 485.17 L42.39 485.06 L43.31 484.97 L44.25 484.89 L45.22 484.83 L46.21 484.77 L47.23 484.72 L48.28 484.68 L49.35 484.65 L50.46 484.62 L51.59 484.59 L52.74 484.58 L53.93 484.56 L55.14 484.55 L56.38 484.54 L57.65 484.53 L58.94 484.52 L60.27 484.52 L61.62 484.51 L63 484.51 L64.41 484.51 L65.85 484.51 L67.31 484.5 L68.81 484.5 L70.33 484.5 L71.88 484.5 L73.46 484.5 L75.07 484.5 L76.71 484.5 L78.38 484.5 L80.08 484.5 L81.81 484.5 L83.56 484.5 L85.35 484.5 L87.16 484.5 L89.01 484.5 L90.88 484.5 L92.79 484.5 L94.72 484.5 L96.69 484.5 L98.68 484.5 L100.71 484.5 L102.76 484.5 L104.85 484.5 L106.96 484.5 L109.11 484.5 L111.29 484.5 L113.49 484.5 L115.73 484.5 L118 484.5 L120.3 484.5 L120.3 509.6 L120.8 509.6 L121.3 509.6 L121.8 509.6 L122.3 509.6 L122.8 509.6 L123.3 509.6 L123.8 509.6 L124.3 509.6 L124.8 509.6 L126.3 509.6" fill="none" stroke="#555" stroke-width="0.7" />
<path d="M23.8 509.6 L25.6 509.6 L25.6 509.56 L25.62 509.42 L25.65 509.18 L25.7 508.82 L25.76 508.36 L25.84 507.8 L25.94 507.16 L26.06 506.47 L26.2 505.74 L26.35 504.99 L26.53 504.23 L26.73 503.49 L26.94 502.77 L27.18 502.09 L27.44 501.44 L27.72 500.84 L28.02 500.27 L28.35 499.74 L28.69 499.24 L29.06 498.78 L29.45 498.34 L29.87 497.93 L30.31 497.54 L30.77 497.17 L31.26 496.82 L31.77 496.49 L32.3 496.18 L32.86 495.88 L33.44 495.61 L34.05 495.35 L34.68 495.12 L35.34 494.9 L36.02 494.7 L36.72 494.52 L37.46 494.35 L38.21 494.2 L39 494.07 L39.81 493.95 L40.64 493.84 L41.51 493.75 L42.39 493.66 L43.31 493.59 L44.25 493.53 L45.22 493.48 L46.21 493.43 L47.23 493.39 L48.28 493.36 L49.35 493.33 L50.46 493.31 L51.59 493.29 L52.74 493.27 L53.93 493.26 L55.14 493.24 L56.38 493.24 L57.65 493.23 L58.94 493.22 L60.27 493.22 L61.62 493.21 L63 493.21 L64.41 493.21 L65.85 493.21 L67.31 493.2 L68.81 493.2 L70.33 493.2 L71.88 493.2 L73.46 493.2 L75.07 493.2 L76.71 493.2 L78.38 493.2 L80.08 493.2 L81.81 493.2 L83.56 493.2 L85.35 493.2 L87.16 493.2 L89.01 493.2 L90.88 493.2 L92.79 493.2 L94.72 493.2 L96.69 493.2 L98.68 493.2 L100.71 493.2 L102.76 493.2 L104.85 493.2 L106.96 493.2 L109.11 493.2 L111.29 493.2 L113.49 493.2 L115.73 493.2 L118 493.2 L120.3 493.2 L120.3 509.6 L120.8 509.6 L121.3 509.6 L121.8 509.6 L122.3 509.6 L122.8 509.6 L123.3 509.6 L123.8 509.6 L124.3 509.6 L124.8 509.6 L126.3 509.6" fill="none" stroke="#555" stroke-width="0.7" />
<path d="M23.8 509.6 L25.6 509.6 L25.6 509.58 L25.62 509.52 L25.65 509.41 L25.7 509.24 L25.76 509.03 L25.84 508.78 L25.94 508.49 L26.06 508.17 L26.2 507.83 L26.35 507.48 L26.53 507.13 L26.73 506.79 L26.94 506.45 L27.18 506.12 L27.44 505.81 L27.72 505.52 L28.02 505.25 L28.35 504.98 L28.69 504.74 L29.06 504.51 L29.45 504.28 L29.87 504.07 L30.31 503.87 L30.77 503.68 L31.26 503.5 L31.77 503.33 L32.3 503.16 L32.86 503.01 L33.44 502.86 L34.05 502.72 L34.68 502.59 L35.34 502.47 L36.02 502.37 L36.72 502.26 L37.46 502.17 L38.21 502.09 L39 502.01 L39.81 501.95 L40.64 501.89 L41.51 501.83 L42.39 501.78 L43.31 501.74 L44.25 501.71 L45.22 501.67 L46.21 501.65 L47.23 501.62 L48.28 501.6 L49.35 501.58 L50.46 501.57 L51.59 501.56 L52.74 501.55 L53.93 501.54 L55.14 501.53 L56.38 501.52 L57.65 501.52 L58.94 501.52 L60.27 501.51 L61.62 501.51 L63 501.51 L64.41 501.51 L65.85 501.5 L67.31 501.5 L68.81 501.5 L70.33 501.5 L71.88 501.5 L73.46 501.5 L75.07 501.5 L76.71 501.5 L78.38 501.5 L80.08 501.5 L81.81 501.5 L83.56 501.5 L85.35 501.5 L87.16 501.5 L89.01 501.5 L90.88 501.5 L92.79 501.5 L94.72 501.5 L96.69 501.5 L98.68 501.5 L100.71 501.5 L102.76 501.5 L104.85 501.5 L106.96 501.5 L109.11 501.5 L111.29 501.5 L113.49 501.5 L115.73 501.5 L118 501.5 L120.3 501.5 L120.3 509.6 L120.8 509.6 L121.3 509.6 L121.8 509.6 L122.3 509.6 L122.8 509.6 L123.3 509.6 L123.8 509.6 L124.3 509.6 L124.8 509.6 L126.3 509.6" fill="none" stroke="#555" stroke-width="0.7" />
<path d="M23.8 509.6 L25.6 509.6 L25.6 509.6 L25.62 509.58 L25.65 509.56 L25.7 509.53 L25.76 509.48 L25.84 509.43 L25.94 509.37 L26.06 509.31 L26.2 509.24 L26.35 509.17 L26.53 509.09 L26.73 509.02 L26.94 508.95 L27.18 508.88 L27.44 508.81 L27.72 508.75 L28.02 508.69 L28.35 508.63 L28.69 508.58 L29.06 508.52 L29.45 508.47 L29.87 508.43 L30.31 508.38 L30.77 508.34 L31.26 508.29 L31.77 508.25 L32.3 508.21 L32.86 508.18 L33.44 508.14 L34.05 508.11 L34.68 508.08 L35.34 508.05 L36.02 508.02 L36.72 508 L37.46 507.97 L38.21 507.95 L39 507.94 L39.81 507.92 L40.64 507.9 L41.51 507.89 L42.39 507.88 L43.31 507.87 L44.25 507.86 L45.22 507.85 L46.21 507.84 L47.23 507.83 L48.28 507.83 L49.35 507.82 L50.46 507.82 L51.59 507.82 L52.74 507.81 L53.93 507.81 L55.14 507.81 L56.38 507.81 L57.65 507.81 L58.94 507.8 L60.27 507.8 L61.62 507.8 L63 507.8 L64.41 507.8 L65.85 507.8 L67.31 507.8 L68.81 507.8 L70.33 507.8 L71.88 507.8 L73.46 507.8 L75.07 507.8 L76.71 507.8 L78.38 507.8 L80.08 507.8 L81.81 507.8 L83.56 507.8 L85.35 507.8 L87.16 507.8 L89.01 507.8 L90.88 507.8 L92.79 507.8 L94.72 507.8 L96.69 507.8 L98.68 507.8 L100.71 507.8 L102.76 507.8 L104.85 507.8 L106.96 507.8 L109.11 507.8 L111.29 507.8 L113.49 507.8 L115.73 507.8 L118 507.8 L120.3 507.8 L120.3 509.6 L120.8 509.6 L121.3 509.6 L121.8 509.6 L122.3 509.6 L122.8 509.6 L123.3 509.6 L123.8 509.6 L124.3 509.6 L124.8 509.6 L126.3 509.6" fill="none" stroke="#555" stroke-width="0.7" />
<line x1="18" y1="509.6" x2="133.9" y2="509.6" stroke="#444" stroke-width="1.0" />
<path d="M120.3 509.6 L121 513 L123.5 510 Z" fill="#111"/>
<line x1="120.5" y1="574.2" x2="120.5" y2="636.5" stroke="#666" stroke-width="0.8" />
<path d="M24.8 634.1 L25.6 634.1 L25.6 633.87 L25.62 633.06 L25.65 631.6 L25.7 629.5 L25.76 626.79 L25.85 623.56 L25.94 619.93 L26.06 616.02 L26.2 611.96 L26.35 607.88 L26.53 603.9 L26.73 600.12 L26.94 596.61 L27.18 593.42 L27.44 590.57 L27.72 588.07 L28.03 585.91 L28.35 584.06 L28.7 582.49 L29.07 581.16 L29.46 580.04 L29.88 579.1 L30.32 578.3 L30.78 577.63 L31.27 577.06 L31.78 576.58 L32.31 576.17 L32.87 575.82 L33.46 575.53 L34.06 575.28 L34.7 575.07 L35.36 574.9 L36.04 574.76 L36.75 574.64 L37.48 574.54 L38.24 574.47 L39.03 574.4 L39.84 574.36 L40.68 574.32 L41.54 574.29 L42.43 574.27 L43.35 574.25 L44.29 574.24 L45.26 574.23 L46.25 574.22 L47.28 574.21 L48.33 574.21 L49.4 574.21 L50.51 574.2 L51.64 574.2 L52.8 574.2 L53.99 574.2 L55.2 574.2 L56.45 574.2 L57.72 574.2 L59.02 574.2 L60.34 574.2 L61.7 574.2 L63.08 574.2 L64.49 574.2 L65.93 574.2 L67.4 574.2 L68.9 574.2 L70.43 574.2 L71.98 574.2 L73.57 574.2 L75.18 574.2 L76.82 574.2 L78.49 574.2 L80.19 574.2 L81.92 574.2 L83.69 574.2 L85.47 574.2 L87.29 574.2 L89.14 574.2 L91.02 574.2 L92.93 574.2 L94.87 574.2 L96.84 574.2 L98.84 574.2 L100.87 574.2 L102.93 574.2 L105.02 574.2 L107.14 574.2 L109.29 574.2 L111.47 574.2 L113.68 574.2 L115.92 574.2 L118.2 574.2 L120.5 574.2 L120.5 634.1 L121 634.1 L121.5 634.1 L122 634.1 L122.5 634.1 L123 634.1 L123.5 634.1 L124 634.1 L124.5 634.1 L125 634.1 L126.5 634.1" fill="none" stroke="#555" stroke-width="0.7" />
<path d="M24.8 634.1 L25.6 634.1 L25.6 633.9 L25.62 633.17 L25.65 631.87 L25.7 629.98 L25.76 627.56 L25.85 624.67 L25.94 621.41 L26.06 617.9 L26.2 614.24 L26.35 610.57 L26.53 606.97 L26.73 603.54 L26.94 600.34 L27.18 597.41 L27.44 594.79 L27.72 592.47 L28.03 590.44 L28.35 588.68 L28.7 587.17 L29.07 585.87 L29.46 584.76 L29.88 583.8 L30.32 582.98 L30.78 582.27 L31.27 581.66 L31.78 581.12 L32.31 580.66 L32.87 580.26 L33.46 579.92 L34.06 579.62 L34.7 579.37 L35.36 579.16 L36.04 578.98 L36.75 578.82 L37.48 578.7 L38.24 578.6 L39.03 578.51 L39.84 578.44 L40.68 578.39 L41.54 578.34 L42.43 578.31 L43.35 578.28 L44.29 578.26 L45.26 578.25 L46.25 578.23 L47.28 578.22 L48.33 578.22 L49.4 578.21 L50.51 578.21 L51.64 578.21 L52.8 578.2 L53.99 578.2 L55.2 578.2 L56.45 578.2 L57.72 578.2 L59.02 578.2 L60.34 578.2 L61.7 578.2 L63.08 578.2 L64.49 578.2 L65.93 578.2 L67.4 578.2 L68.9 578.2 L70.43 578.2 L71.98 578.2 L73.57 578.2 L75.18 578.2 L76.82 578.2 L78.49 578.2 L80.19 578.2 L81.92 578.2 L83.69 578.2 L85.47 578.2 L87.29 578.2 L89.14 578.2 L91.02 578.2 L92.93 578.2 L94.87 578.2 L96.84 578.2 L98.84 578.2 L100.87 578.2 L102.93 578.2 L105.02 578.2 L107.14 578.2 L109.29 578.2 L111.47 578.2 L113.68 578.2 L115.92 578.2 L118.2 578.2 L120.5 578.2 L120.5 634.1 L121 634.1 L121.5 634.1 L122 634.1 L122.5 634.1 L123 634.1 L123.5 634.1 L124 634.1 L124.5 634.1 L125 634.1 L126.5 634.1" fill="none" stroke="#555" stroke-width="0.7" />
<path d="M24.8 634.1 L25.6 634.1 L25.6 633.92 L25.62 633.28 L25.65 632.14 L25.7 630.48 L25.76 628.35 L25.85 625.8 L25.94 622.93 L26.06 619.83 L26.2 616.6 L26.35 613.34 L26.53 610.14 L26.73 607.08 L26.94 604.21 L27.18 601.58 L27.44 599.2 L27.72 597.08 L28.03 595.21 L28.35 593.58 L28.7 592.15 L29.07 590.91 L29.46 589.82 L29.88 588.88 L30.32 588.05 L30.78 587.32 L31.27 586.68 L31.78 586.12 L32.31 585.62 L32.87 585.19 L33.46 584.8 L34.06 584.47 L34.7 584.18 L35.36 583.92 L36.04 583.71 L36.75 583.53 L37.48 583.37 L38.24 583.24 L39.03 583.13 L39.84 583.05 L40.68 582.97 L41.54 582.91 L42.43 582.87 L43.35 582.83 L44.29 582.8 L45.26 582.77 L46.25 582.76 L47.28 582.74 L48.33 582.73 L49.4 582.72 L50.51 582.72 L51.64 582.71 L52.8 582.71 L53.99 582.71 L55.2 582.7 L56.45 582.7 L57.72 582.7 L59.02 582.7 L60.34 582.7 L61.7 582.7 L63.08 582.7 L64.49 582.7 L65.93 582.7 L67.4 582.7 L68.9 582.7 L70.43 582.7 L71.98 582.7 L73.57 582.7 L75.18 582.7 L76.82 582.7 L78.49 582.7 L80.19 582.7 L81.92 582.7 L83.69 582.7 L85.47 582.7 L87.29 582.7 L89.14 582.7 L91.02 582.7 L92.93 582.7 L94.87 582.7 L96.84 582.7 L98.84 582.7 L100.87 582.7 L102.93 582.7 L105.02 582.7 L107.14 582.7 L109.29 582.7 L111.47 582.7 L113.68 582.7 L115.92 582.7 L118.2 582.7 L120.5 582.7 L120.5 634.1 L121 634.1 L121.5 634.1 L122 634.1 L122.5 634.1 L123 634.1 L123.5 634.1 L124 634.1 L124.5 634.1 L125 634.1 L126.5 634.1" fill="none" stroke="#555" stroke-width="0.7" />
<path d="M24.8 634.1 L25.6 634.1 L25.6 633.95 L25.62 633.39 L25.65 632.4 L25.7 630.97 L25.76 629.12 L25.85 626.92 L25.94 624.43 L26.06 621.74 L26.2 618.93 L26.35 616.09 L26.53 613.29 L26.73 610.61 L26.94 608.08 L27.18 605.75 L27.44 603.63 L27.72 601.73 L28.03 600.03 L28.35 598.53 L28.7 597.21 L29.07 596.04 L29.46 595.01 L29.88 594.1 L30.32 593.29 L30.78 592.56 L31.27 591.92 L31.78 591.34 L32.31 590.82 L32.87 590.36 L33.46 589.95 L34.06 589.58 L34.7 589.26 L35.36 588.98 L36.04 588.74 L36.75 588.53 L37.48 588.35 L38.24 588.2 L39.03 588.07 L39.84 587.96 L40.68 587.87 L41.54 587.79 L42.43 587.73 L43.35 587.68 L44.29 587.64 L45.26 587.61 L46.25 587.59 L47.28 587.57 L48.33 587.55 L49.4 587.54 L50.51 587.53 L51.64 587.52 L52.8 587.52 L53.99 587.51 L55.2 587.51 L56.45 587.51 L57.72 587.5 L59.02 587.5 L60.34 587.5 L61.7 587.5 L63.08 587.5 L64.49 587.5 L65.93 587.5 L67.4 587.5 L68.9 587.5 L70.43 587.5 L71.98 587.5 L73.57 587.5 L75.18 587.5 L76.82 587.5 L78.49 587.5 L80.19 587.5 L81.92 587.5 L83.69 587.5 L85.47 587.5 L87.29 587.5 L89.14 587.5 L91.02 587.5 L92.93 587.5 L94.87 587.5 L96.84 587.5 L98.84 587.5 L100.87 587.5 L102.93 587.5 L105.02 587.5 L107.14 587.5 L109.29 587.5 L111.47 587.5 L113.68 587.5 L115.92 587.5 L118.2 587.5 L120.5 587.5 L120.5 634.1 L121 634.1 L121.5 634.1 L122 634.1 L122.5 634.1 L123 634.1 L123.5 634.1 L124 634.1 L124.5 634.1 L125 634.1 L126.5 634.1" fill="none" stroke="#555" stroke-width="0.7" />
<path d="M24.8 634.1 L25.6 634.1 L25.6 633.97 L25.62 633.5 L25.65 632.66 L25.7 631.44 L25.76 629.86 L25.85 627.99 L25.94 625.86 L26.06 623.56 L26.2 621.15 L26.35 618.71 L26.53 616.31 L26.73 613.99 L26.94 611.8 L27.18 609.77 L27.44 607.91 L27.72 606.22 L28.03 604.71 L28.35 603.36 L28.7 602.15 L29.07 601.08 L29.46 600.11 L29.88 599.25 L30.32 598.47 L30.78 597.77 L31.27 597.13 L31.78 596.55 L32.31 596.03 L32.87 595.56 L33.46 595.13 L34.06 594.75 L34.7 594.41 L35.36 594.11 L36.04 593.85 L36.75 593.62 L37.48 593.42 L38.24 593.25 L39.03 593.1 L39.84 592.97 L40.68 592.87 L41.54 592.78 L42.43 592.7 L43.35 592.64 L44.29 592.59 L45.26 592.55 L46.25 592.52 L47.28 592.49 L48.33 592.47 L49.4 592.46 L50.51 592.44 L51.64 592.43 L52.8 592.42 L53.99 592.42 L55.2 592.41 L56.45 592.41 L57.72 592.41 L59.02 592.41 L60.34 592.4 L61.7 592.4 L63.08 592.4 L64.49 592.4 L65.93 592.4 L67.4 592.4 L68.9 592.4 L70.43 592.4 L71.98 592.4 L73.57 592.4 L75.18 592.4 L76.82 592.4 L78.49 592.4 L80.19 592.4 L81.92 592.4 L83.69 592.4 L85.47 592.4 L87.29 592.4 L89.14 592.4 L91.02 592.4 L92.93 592.4 L94.87 592.4 L96.84 592.4 L98.84 592.4 L100.87 592.4 L102.93 592.4 L105.02 592.4 L107.14 592.4 L109.29 592.4 L111.47 592.4 L113.68 592.4 L115.92 592.4 L118.2 592.4 L120.5 592.4 L120.5 634.1 L121 634.1 L121.5 634.1 L122 634.1 L122.5 634.1 L123 634.1 L123.5 634.1 L124 634.1 L124.5 634.1 L125 634.1 L126.5 634.1" fill="none" stroke="#555" stroke-width="0.7" />
<path d="M24.8 634.1 L25.6 634.1 L25.6 633.99 L25.62 633.6 L25.65 632.9 L25.7 631.88 L25.76 630.57 L25.85 629.01 L25.94 627.23 L26.06 625.31 L26.2 623.29 L26.35 621.25 L26.53 619.22 L26.73 617.26 L26.94 615.4 L27.18 613.67 L27.44 612.07 L27.72 610.61 L28.03 609.29 L28.35 608.1 L28.7 607.02 L29.07 606.05 L29.46 605.18 L29.88 604.38 L30.32 603.65 L30.78 602.99 L31.27 602.38 L31.78 601.82 L32.31 601.31 L32.87 600.84 L33.46 600.42 L34.06 600.04 L34.7 599.69 L35.36 599.39 L36.04 599.11 L36.75 598.87 L37.48 598.66 L38.24 598.47 L39.03 598.31 L39.84 598.17 L40.68 598.06 L41.54 597.96 L42.43 597.87 L43.35 597.8 L44.29 597.74 L45.26 597.69 L46.25 597.66 L47.28 597.62 L48.33 597.6 L49.4 597.58 L50.51 597.56 L51.64 597.55 L52.8 597.53 L53.99 597.53 L55.2 597.52 L56.45 597.52 L57.72 597.51 L59.02 597.51 L60.34 597.51 L61.7 597.5 L63.08 597.5 L64.49 597.5 L65.93 597.5 L67.4 597.5 L68.9 597.5 L70.43 597.5 L71.98 597.5 L73.57 597.5 L75.18 597.5 L76.82 597.5 L78.49 597.5 L80.19 597.5 L81.92 597.5 L83.69 597.5 L85.47 597.5 L87.29 597.5 L89.14 597.5 L91.02 597.5 L92.93 597.5 L94.87 597.5 L96.84 597.5 L98.84 597.5 L100.87 597.5 L102.93 597.5 L105.02 597.5 L107.14 597.5 L109.29 597.5 L111.47 597.5 L113.68 597.5 L115.92 597.5 L118.2 597.5 L120.5 597.5 L120.5 634.1 L121 634.1 L121.5 634.1 L122 634.1 L122.5 634.1 L123 634.1 L123.5 634.1 L124 634.1 L124.5 634.1 L125 634.1 L126.5 634.1" fill="none" stroke="#555" stroke-width="0.7" />
<path d="M24.8 634.1 L25.6 634.1 L25.6 634.01 L25.62 633.69 L25.65 633.12 L25.7 632.3 L25.76 631.23 L25.85 629.96 L25.94 628.51 L26.06 626.94 L26.2 625.28 L26.35 623.6 L26.53 621.93 L26.73 620.31 L26.94 618.77 L27.18 617.32 L27.44 615.98 L27.72 614.74 L28.03 613.61 L28.35 612.59 L28.7 611.65 L29.07 610.8 L29.46 610.02 L29.88 609.3 L30.32 608.64 L30.78 608.02 L31.27 607.46 L31.78 606.94 L32.31 606.46 L32.87 606.01 L33.46 605.6 L34.06 605.23 L34.7 604.9 L35.36 604.59 L36.04 604.32 L36.75 604.07 L37.48 603.86 L38.24 603.67 L39.03 603.5 L39.84 603.36 L40.68 603.23 L41.54 603.12 L42.43 603.03 L43.35 602.96 L44.29 602.89 L45.26 602.84 L46.25 602.79 L47.28 602.75 L48.33 602.72 L49.4 602.7 L50.51 602.68 L51.64 602.66 L52.8 602.65 L53.99 602.64 L55.2 602.63 L56.45 602.62 L57.72 602.62 L59.02 602.61 L60.34 602.61 L61.7 602.61 L63.08 602.61 L64.49 602.6 L65.93 602.6 L67.4 602.6 L68.9 602.6 L70.43 602.6 L71.98 602.6 L73.57 602.6 L75.18 602.6 L76.82 602.6 L78.49 602.6 L80.19 602.6 L81.92 602.6 L83.69 602.6 L85.47 602.6 L87.29 602.6 L89.14 602.6 L91.02 602.6 L92.93 602.6 L94.87 602.6 L96.84 602.6 L98.84 602.6 L100.87 602.6 L102.93 602.6 L105.02 602.6 L107.14 602.6 L109.29 602.6 L111.47 602.6 L113.68 602.6 L115.92 602.6 L118.2 602.6 L120.5 602.6 L120.5 634.1 L121 634.1 L121.5 634.1 L122 634.1 L122.5 634.1 L123 634.1 L123.5 634.1 L124 634.1 L124.5 634.1 L125 634.1 L126.5 634.1" fill="none" stroke="#555" stroke-width="0.7" />
<path d="M24.8 634.1 L25.6 634.1 L25.6 634.03 L25.62 633.79 L25.65 633.35 L25.7 632.72 L25.76 631.9 L25.85 630.93 L25.94 629.81 L26.06 628.6 L26.2 627.33 L26.35 626.03 L26.53 624.74 L26.73 623.48 L26.94 622.27 L27.18 621.13 L27.44 620.06 L27.72 619.08 L28.03 618.17 L28.35 617.33 L28.7 616.57 L29.07 615.86 L29.46 615.2 L29.88 614.6 L30.32 614.03 L30.78 613.51 L31.27 613.01 L31.78 612.56 L32.31 612.13 L32.87 611.73 L33.46 611.37 L34.06 611.03 L34.7 610.73 L35.36 610.45 L36.04 610.19 L36.75 609.97 L37.48 609.76 L38.24 609.58 L39.03 609.42 L39.84 609.28 L40.68 609.16 L41.54 609.05 L42.43 608.96 L43.35 608.88 L44.29 608.82 L45.26 608.76 L46.25 608.71 L47.28 608.67 L48.33 608.64 L49.4 608.61 L50.51 608.59 L51.64 608.57 L52.8 608.56 L53.99 608.54 L55.2 608.53 L56.45 608.53 L57.72 608.52 L59.02 608.52 L60.34 608.51 L61.7 608.51 L63.08 608.51 L64.49 608.51 L65.93 608.5 L67.4 608.5 L68.9 608.5 L70.43 608.5 L71.98 608.5 L73.57 608.5 L75.18 608.5 L76.82 608.5 L78.49 608.5 L80.19 608.5 L81.92 608.5 L83.69 608.5 L85.47 608.5 L87.29 608.5 L89.14 608.5 L91.02 608.5 L92.93 608.5 L94.87 608.5 L96.84 608.5 L98.84 608.5 L100.87 608.5 L102.93 608.5 L105.02 608.5 L107.14 608.5 L109.29 608.5 L111.47 608.5 L113.68 608.5 L115.92 608.5 L118.2 608.5 L120.5 608.5 L120.5 634.1 L121 634.1 L121.5 634.1 L122 634.1 L122.5 634.1 L123 634.1 L123.5 634.1 L124 634.1 L124.5 634.1 L125 634.1 L126.5 634.1" fill="none" stroke="#555" stroke-width="0.7" />
<path d="M24.8 634.1 L25.6 634.1 L25.6 634.05 L25.62 633.88 L25.65 633.56 L25.7 633.11 L25.76 632.52 L25.85 631.81 L25.94 631 L26.06 630.12 L26.2 629.2 L26.35 628.25 L26.53 627.3 L26.73 626.37 L26.94 625.48 L27.18 624.63 L27.44 623.84 L27.72 623.09 L28.03 622.4 L28.35 621.76 L28.7 621.16 L29.07 620.61 L29.46 620.09 L29.88 619.61 L30.32 619.16 L30.78 618.73 L31.27 618.33 L31.78 617.95 L32.31 617.6 L32.87 617.27 L33.46 616.96 L34.06 616.67 L34.7 616.41 L35.36 616.17 L36.04 615.95 L36.75 615.75 L37.48 615.58 L38.24 615.42 L39.03 615.27 L39.84 615.15 L40.68 615.03 L41.54 614.94 L42.43 614.85 L43.35 614.78 L44.29 614.72 L45.26 614.66 L46.25 614.62 L47.28 614.58 L48.33 614.54 L49.4 614.52 L50.51 614.5 L51.64 614.48 L52.8 614.46 L53.99 614.45 L55.2 614.44 L56.45 614.43 L57.72 614.42 L59.02 614.42 L60.34 614.41 L61.7 614.41 L63.08 614.41 L64.49 614.41 L65.93 614.4 L67.4 614.4 L68.9 614.4 L70.43 614.4 L71.98 614.4 L73.57 614.4 L75.18 614.4 L76.82 614.4 L78.49 614.4 L80.19 614.4 L81.92 614.4 L83.69 614.4 L85.47 614.4 L87.29 614.4 L89.14 614.4 L91.02 614.4 L92.93 614.4 L94.87 614.4 L96.84 614.4 L98.84 614.4 L100.87 614.4 L102.93 614.4 L105.02 614.4 L107.14 614.4 L109.29 614.4 L111.47 614.4 L113.68 614.4 L115.92 614.4 L118.2 614.4 L120.5 614.4 L120.5 634.1 L121 634.1 L121.5 634.1 L122 634.1 L122.5 634.1 L123 634.1 L123.5 634.1 L124 634.1 L124.5 634.1 L125 634.1 L126.5 634.1" fill="none" stroke="#555" stroke-width="0.7" />
<path d="M24.8 634.1 L25.6 634.1 L25.6 634.07 L25.62 633.97 L25.65 633.78 L25.7 633.51 L25.76 633.15 L25.85 632.73 L25.94 632.25 L26.06 631.72 L26.2 631.16 L26.35 630.59 L26.53 630.01 L26.73 629.45 L26.94 628.9 L27.18 628.38 L27.44 627.88 L27.72 627.42 L28.03 626.98 L28.35 626.57 L28.7 626.19 L29.07 625.83 L29.46 625.49 L29.88 625.17 L30.32 624.87 L30.78 624.58 L31.27 624.31 L31.78 624.06 L32.31 623.81 L32.87 623.59 L33.46 623.37 L34.06 623.18 L34.7 622.99 L35.36 622.82 L36.04 622.67 L36.75 622.52 L37.48 622.39 L38.24 622.28 L39.03 622.17 L39.84 622.08 L40.68 622 L41.54 621.93 L42.43 621.86 L43.35 621.81 L44.29 621.76 L45.26 621.72 L46.25 621.68 L47.28 621.65 L48.33 621.62 L49.4 621.6 L50.51 621.58 L51.64 621.57 L52.8 621.55 L53.99 621.54 L55.2 621.53 L56.45 621.53 L57.72 621.52 L59.02 621.52 L60.34 621.51 L61.7 621.51 L63.08 621.51 L64.49 621.51 L65.93 621.5 L67.4 621.5 L68.9 621.5 L70.43 621.5 L71.98 621.5 L73.57 621.5 L75.18 621.5 L76.82 621.5 L78.49 621.5 L80.19 621.5 L81.92 621.5 L83.69 621.5 L85.47 621.5 L87.29 621.5 L89.14 621.5 L91.02 621.5 L92.93 621.5 L94.87 621.5 L96.84 621.5 L98.84 621.5 L100.87 621.5 L102.93 621.5 L105.02 621.5 L107.14 621.5 L109.29 621.5 L111.47 621.5 L113.68 621.5 L115.92 621.5 L118.2 621.5 L120.5 621.5 L120.5 634.1 L121 634.1 L121.5 634.1 L122 634.1 L122.5 634.1 L123 634.1 L123.5 634.1 L124 634.1 L124.5 634.1 L125 634.1 L126.5 634.1" fill="none" stroke="#555" stroke-width="0.7" />
<path d="M24.8 634.1 L25.6 634.1 L25.6 634.09 L25.62 634.04 L25.65 633.94 L25.7 633.81 L25.76 633.64 L25.85 633.43 L25.94 633.2 L26.06 632.94 L26.2 632.67 L26.35 632.38 L26.53 632.1 L26.73 631.82 L26.94 631.54 L27.18 631.28 L27.44 631.03 L27.72 630.79 L28.03 630.56 L28.35 630.35 L28.7 630.15 L29.07 629.96 L29.46 629.78 L29.88 629.61 L30.32 629.44 L30.78 629.29 L31.27 629.14 L31.78 628.99 L32.31 628.86 L32.87 628.73 L33.46 628.61 L34.06 628.5 L34.7 628.39 L35.36 628.3 L36.04 628.21 L36.75 628.13 L37.48 628.05 L38.24 627.98 L39.03 627.92 L39.84 627.86 L40.68 627.81 L41.54 627.77 L42.43 627.73 L43.35 627.7 L44.29 627.67 L45.26 627.64 L46.25 627.62 L47.28 627.6 L48.33 627.58 L49.4 627.57 L50.51 627.56 L51.64 627.55 L52.8 627.54 L53.99 627.53 L55.2 627.52 L56.45 627.52 L57.72 627.52 L59.02 627.51 L60.34 627.51 L61.7 627.51 L63.08 627.51 L64.49 627.5 L65.93 627.5 L67.4 627.5 L68.9 627.5 L70.43 627.5 L71.98 627.5 L73.57 627.5 L75.18 627.5 L76.82 627.5 L78.49 627.5 L80.19 627.5 L81.92 627.5 L83.69 627.5 L85.47 627.5 L87.29 627.5 L89.14 627.5 L91.02 627.5 L92.93 627.5 L94.87 627.5 L96.84 627.5 L98.84 627.5 L100.87 627.5 L102.93 627.5 L105.02 627.5 L107.14 627.5 L109.29 627.5 L111.47 627.5 L113.68 627.5 L115.92 627.5 L118.2 627.5 L120.5 627.5 L120.5 634.1 L121 634.1 L121.5 634.1 L122 634.1 L122.5 634.1 L123 634.1 L123.5 634.1 L124 634.1 L124.5 634.1 L125 634.1 L126.5 634.1" fill="none" stroke="#555" stroke-width="0.7" />
<path d="M24.8 634.1 L25.6 634.1 L25.6 634.1 L25.62 634.09 L25.65 634.07 L25.7 634.04 L25.76 634.01 L25.85 633.97 L25.94 633.92 L26.06 633.87 L26.2 633.82 L26.35 633.76 L26.53 633.7 L26.73 633.65 L26.94 633.59 L27.18 633.54 L27.44 633.49 L27.72 633.44 L28.03 633.39 L28.35 633.35 L28.7 633.3 L29.07 633.26 L29.46 633.22 L29.88 633.19 L30.32 633.15 L30.78 633.12 L31.27 633.08 L31.78 633.05 L32.31 633.02 L32.87 632.99 L33.46 632.96 L34.06 632.94 L34.7 632.92 L35.36 632.89 L36.04 632.87 L36.75 632.85 L37.48 632.84 L38.24 632.82 L39.03 632.8 L39.84 632.79 L40.68 632.78 L41.54 632.77 L42.43 632.76 L43.35 632.75 L44.29 632.74 L45.26 632.74 L46.25 632.73 L47.28 632.73 L48.33 632.72 L49.4 632.72 L50.51 632.72 L51.64 632.71 L52.8 632.71 L53.99 632.71 L55.2 632.71 L56.45 632.71 L57.72 632.7 L59.02 632.7 L60.34 632.7 L61.7 632.7 L63.08 632.7 L64.49 632.7 L65.93 632.7 L67.4 632.7 L68.9 632.7 L70.43 632.7 L71.98 632.7 L73.57 632.7 L75.18 632.7 L76.82 632.7 L78.49 632.7 L80.19 632.7 L81.92 632.7 L83.69 632.7 L85.47 632.7 L87.29 632.7 L89.14 632.7 L91.02 632.7 L92.93 632.7 L94.87 632.7 L96.84 632.7 L98.84 632.7 L100.87 632.7 L102.93 632.7 L105.02 632.7 L107.14 632.7 L109.29 632.7 L111.47 632.7 L113.68 632.7 L115.92 632.7 L118.2 632.7 L120.5 632.7 L120.5 634.1 L121 634.1 L121.5 634.1 L122 634.1 L122.5 634.1 L123 634.1 L123.5 634.1 L124 634.1 L124.5 634.1 L125 634.1 L126.5 634.1" fill="none" stroke="#555" stroke-width="0.7" />
<line x1="22.4" y1="634.1" x2="138.5" y2="634.1" stroke="#444" stroke-width="1.0" />
<path d="M120.5 634 L121.2 637.5 L124 634.6 Z" fill="#111"/>
<line x1="258.6" y1="368" x2="258.6" y2="592.8" stroke="#555" stroke-width="1" />
<line x1="258.6" y1="592.8" x2="462" y2="592.8" stroke="#555" stroke-width="1.2" />
<line x1="253.6" y1="592.8" x2="258.6" y2="592.8" stroke="#555" stroke-width="1" />
<text x="251" y="597.8" font-size="15" text-anchor="end" fill="#222" >0</text>
<line x1="256.1" y1="577.65" x2="258.6" y2="577.65" stroke="#555" stroke-width="1" />
<line x1="253.6" y1="562.5" x2="258.6" y2="562.5" stroke="#555" stroke-width="1" />
<text x="251" y="567.5" font-size="15" text-anchor="end" fill="#222" >10</text>
<line x1="256.1" y1="547.35" x2="258.6" y2="547.35" stroke="#555" stroke-width="1" />
<line x1="253.6" y1="532.2" x2="258.6" y2="532.2" stroke="#555" stroke-width="1" />
<text x="251" y="537.2" font-size="15" text-anchor="end" fill="#222" >20</text>
<line x1="256.1" y1="517.05" x2="258.6" y2="517.05" stroke="#555" stroke-width="1" />
<line x1="253.6" y1="501.9" x2="258.6" y2="501.9" stroke="#555" stroke-width="1" />
<text x="251" y="506.9" font-size="15" text-anchor="end" fill="#222" >30</text>
<line x1="256.1" y1="486.75" x2="258.6" y2="486.75" stroke="#555" stroke-width="1" />
<line x1="253.6" y1="471.6" x2="258.6" y2="471.6" stroke="#555" stroke-width="1" />
<text x="251" y="476.6" font-size="15" text-anchor="end" fill="#222" >40</text>
<line x1="256.1" y1="456.45" x2="258.6" y2="456.45" stroke="#555" stroke-width="1" />
<line x1="253.6" y1="441.3" x2="258.6" y2="441.3" stroke="#555" stroke-width="1" />
<text x="251" y="446.3" font-size="15" text-anchor="end" fill="#222" >50</text>
<line x1="256.1" y1="426.15" x2="258.6" y2="426.15" stroke="#555" stroke-width="1" />
<line x1="253.6" y1="411" x2="258.6" y2="411" stroke="#555" stroke-width="1" />
<text x="251" y="416" font-size="15" text-anchor="end" fill="#222" >60</text>
<line x1="256.1" y1="395.85" x2="258.6" y2="395.85" stroke="#555" stroke-width="1" />
<line x1="253.6" y1="380.7" x2="258.6" y2="380.7" stroke="#555" stroke-width="1" />
<text x="251" y="385.7" font-size="15" text-anchor="end" fill="#222" >70</text>
<text transform="translate(224.6,579.2) rotate(-90)" font-size="18" fill="#111">current amplitude (µA)</text>
<rect x="267.5" y="403.12" width="18.52" height="189.68" fill="#fff" stroke="#222" stroke-width="1"/>
<line x1="276.76" y1="372.82" x2="276.76" y2="432.51" stroke="#888" stroke-width="1" />
<line x1="274.36" y1="372.82" x2="279.16" y2="372.82" stroke="#888" stroke-width="1" />
<line x1="274.36" y1="432.51" x2="279.16" y2="432.51" stroke="#888" stroke-width="1" />
<text transform="translate(282.26,602.3) rotate(-49)" font-size="15.2" text-anchor="end" fill="#111">WT</text>
<rect x="286.02" y="525.23" width="18.52" height="67.57" fill="#fff" stroke="#222" stroke-width="1"/>
<line x1="295.28" y1="504.93" x2="295.28" y2="545.53" stroke="#555" stroke-width="1" />
<line x1="292.88" y1="504.93" x2="297.68" y2="504.93" stroke="#555" stroke-width="1" />
<line x1="292.88" y1="545.53" x2="297.68" y2="545.53" stroke="#555" stroke-width="1" />
<text transform="translate(300.78,602.3) rotate(-49)" font-size="15.2" text-anchor="end" fill="#111">M1stop</text>
<rect x="304.54" y="547.65" width="18.52" height="45.15" fill="#fff" stroke="#222" stroke-width="1"/>
<line x1="313.8" y1="535.53" x2="313.8" y2="559.77" stroke="#555" stroke-width="1" />
<line x1="311.4" y1="535.53" x2="316.2" y2="535.53" stroke="#555" stroke-width="1" />
<line x1="311.4" y1="559.77" x2="316.2" y2="559.77" stroke="#555" stroke-width="1" />
<text transform="translate(319.3,602.3) rotate(-49)" font-size="15.2" text-anchor="end" fill="#111">M1stop-M312L</text>
<rect x="323.06" y="587.5" width="18.52" height="5.3" fill="#fff" stroke="#222" stroke-width="1"/>
<line x1="332.32" y1="584.62" x2="332.32" y2="591.89" stroke="#444" stroke-width="1" />
<line x1="329.92" y1="584.62" x2="334.72" y2="584.62" stroke="#444" stroke-width="1" />
<line x1="329.92" y1="591.89" x2="334.72" y2="591.89" stroke="#444" stroke-width="1" />
<text transform="translate(337.82,602.3) rotate(-49)" font-size="15.2" text-anchor="end" fill="#111">A3stop</text>
<rect x="341.58" y="567.65" width="18.52" height="25.15" fill="#fff" stroke="#222" stroke-width="1"/>
<line x1="350.84" y1="557.95" x2="350.84" y2="577.65" stroke="#999" stroke-width="1" />
<line x1="348.44" y1="557.95" x2="353.24" y2="557.95" stroke="#999" stroke-width="1" />
<line x1="348.44" y1="577.65" x2="353.24" y2="577.65" stroke="#999" stroke-width="1" />
<text transform="translate(356.34,602.3) rotate(-49)" font-size="15.2" text-anchor="end" fill="#111">G6stop</text>
<rect x="360.1" y="540.68" width="18.52" height="52.12" fill="#fff" stroke="#222" stroke-width="1"/>
<line x1="369.36" y1="527.65" x2="369.36" y2="553.41" stroke="#444" stroke-width="1" />
<line x1="366.96" y1="527.65" x2="371.76" y2="527.65" stroke="#444" stroke-width="1" />
<line x1="366.96" y1="553.41" x2="371.76" y2="553.41" stroke="#444" stroke-width="1" />
<text transform="translate(374.86,602.3) rotate(-49)" font-size="15.2" text-anchor="end" fill="#111">Y8stop</text>
<rect x="378.62" y="567.5" width="18.52" height="25.3" fill="#fff" stroke="#222" stroke-width="1"/>
<line x1="387.88" y1="560.98" x2="387.88" y2="573.41" stroke="#666" stroke-width="1" />
<line x1="385.48" y1="560.98" x2="390.28" y2="560.98" stroke="#666" stroke-width="1" />
<line x1="385.48" y1="573.41" x2="390.28" y2="573.41" stroke="#666" stroke-width="1" />
<text transform="translate(393.38,602.3) rotate(-49)" font-size="15.2" text-anchor="end" fill="#111">G9stop</text>
<rect x="397.14" y="583.41" width="18.52" height="9.39" fill="#fff" stroke="#222" stroke-width="1"/>
<line x1="406.4" y1="579.77" x2="406.4" y2="587.65" stroke="#444" stroke-width="1" />
<line x1="404" y1="579.77" x2="408.8" y2="579.77" stroke="#444" stroke-width="1" />
<line x1="404" y1="587.65" x2="408.8" y2="587.65" stroke="#444" stroke-width="1" />
<text transform="translate(411.9,602.3) rotate(-49)" font-size="15.2" text-anchor="end" fill="#111">K19stop</text>
<rect x="415.66" y="567.5" width="18.52" height="25.3" fill="#fff" stroke="#222" stroke-width="1"/>
<line x1="424.92" y1="552.2" x2="424.92" y2="582.8" stroke="#aaa" stroke-width="1" />
<line x1="422.52" y1="552.2" x2="427.32" y2="552.2" stroke="#aaa" stroke-width="1" />
<line x1="422.52" y1="582.8" x2="427.32" y2="582.8" stroke="#aaa" stroke-width="1" />
<text transform="translate(430.42,602.3) rotate(-49)" font-size="15.2" text-anchor="end" fill="#111">E35stop</text>
<rect x="434.18" y="591.59" width="18.52" height="1.21" fill="#fff" stroke="#222" stroke-width="1"/>
<line x1="441.94" y1="591.2" x2="446.44" y2="591.2" stroke="#111" stroke-width="1.2" />
<text transform="translate(448.94,602.3) rotate(-49)" font-size="15.2" text-anchor="end" fill="#111">D70stop</text>
<line x1="522.6" y1="427.8" x2="522.6" y2="590.3" stroke="#555" stroke-width="1" />
<line x1="522.6" y1="590.3" x2="679.7" y2="590.3" stroke="#555" stroke-width="1" />
<line x1="520.4" y1="575.8" x2="522.6" y2="575.8" stroke="#555" stroke-width="1" />
<line x1="521.1" y1="542.15" x2="522.6" y2="542.15" stroke="#555" stroke-width="1" />
<line x1="520.4" y1="508.5" x2="522.6" y2="508.5" stroke="#555" stroke-width="1" />
<line x1="521.1" y1="474.85" x2="522.6" y2="474.85" stroke="#555" stroke-width="1" />
<line x1="520.4" y1="441.2" x2="522.6" y2="441.2" stroke="#555" stroke-width="1" />
<line x1="526.35" y1="590.3" x2="526.35" y2="592.1" stroke="#555" stroke-width="1" />
<line x1="544.8" y1="590.3" x2="544.8" y2="592.8" stroke="#555" stroke-width="1" />
<line x1="563.25" y1="590.3" x2="563.25" y2="592.1" stroke="#555" stroke-width="1" />
<line x1="581.7" y1="590.3" x2="581.7" y2="592.8" stroke="#555" stroke-width="1" />
<line x1="600.15" y1="590.3" x2="600.15" y2="592.1" stroke="#555" stroke-width="1" />
<line x1="618.6" y1="590.3" x2="618.6" y2="592.8" stroke="#555" stroke-width="1" />
<line x1="637.05" y1="590.3" x2="637.05" y2="592.1" stroke="#555" stroke-width="1" />
<line x1="655.5" y1="590.3" x2="655.5" y2="592.8" stroke="#555" stroke-width="1" />
<line x1="673.95" y1="590.3" x2="673.95" y2="592.1" stroke="#555" stroke-width="1" />
<text x="518" y="445.5" font-size="14.2" text-anchor="end" fill="#222" >1,0</text>
<text x="518" y="512.8" font-size="14.2" text-anchor="end" fill="#222" >0,5</text>
<text x="518" y="580.1" font-size="14.2" text-anchor="end" fill="#222" >0,0</text>
<text x="558.14" y="605.6" font-size="14.2" text-anchor="end" fill="#222" >-100</text>
<text x="589.9" y="605.6" font-size="14.2" text-anchor="end" fill="#222" >-50</text>
<text x="622.55" y="605.6" font-size="14.2" text-anchor="end" fill="#222" >0</text>
<text x="664.2" y="605.6" font-size="14.2" text-anchor="end" fill="#222" >50</text>
<text x="521" y="623.5" font-size="14" text-anchor="start" fill="#111" >membrane potential (mV)</text>
<text transform="translate(493.3,543.3) rotate(-90)" font-size="17.3" fill="#111">G/Gmax</text>
<text x="548.4" y="436.3" font-size="10.2" text-anchor="start" fill="#111" >M1stop</text>
<text x="548.4" y="449.5" font-size="10.2" text-anchor="start" fill="#111" >M1stop-M312L</text>
<text x="548.4" y="462.7" font-size="10.2" text-anchor="start" fill="#111" >A3stop</text>
<text x="548.4" y="475.9" font-size="10.2" text-anchor="start" fill="#111" >G6stop</text>
<text x="548.4" y="489.1" font-size="10.2" text-anchor="start" fill="#111" >Y8stop</text>
<text x="548.4" y="502.3" font-size="10.2" text-anchor="start" fill="#111" >G9stop</text>
<text x="548.4" y="515.5" font-size="10.2" text-anchor="start" fill="#111" >K19stop</text>
<text x="548.4" y="528.7" font-size="10.2" text-anchor="start" fill="#111" >E35stop</text>
<text x="548.4" y="541.9" font-size="10.2" text-anchor="start" fill="#111" >Δ6-46</text>
<path d="M533.8 429.36 L536.6 431.39 L535.53 434.68 L532.07 434.68 L531 431.39Z" fill="#000"/>
<circle cx="533.8" cy="445.45" r="2.66" fill="#000"/>
<circle cx="533.8" cy="458.6" r="2.66" fill="#000"/>
<path d="M531.5 469.45 L536.1 469.45 L536.1 474.05 L531.5 474.05Z" fill="#000"/>
<path d="M533.8 481.82 L537.02 487.28 L530.58 487.28Z" fill="#000"/>
<path d="M533.8 501.13 L537.02 495.67 L530.58 495.67Z" fill="#000"/>
<path d="M533.8 507.84 L536.74 511.2 L533.8 514.56 L530.86 511.2Z" fill="#000"/>
<path d="M531 524.35 L536.04 521.27 L536.04 527.43Z" fill="#000"/>
<path d="M536.6 537.5 L531.56 534.42 L531.56 540.58Z" fill="#000"/>
<path d="M530.04 574.46 L530.78 574.46 L531.52 574.47 L532.25 574.47 L532.99 574.47 L533.73 574.47 L534.47 574.48 L535.21 574.48 L535.94 574.48 L536.68 574.48 L537.42 574.49 L538.16 574.49 L538.9 574.49 L539.63 574.5 L540.37 574.5 L541.11 574.5 L541.85 574.5 L542.59 574.51 L543.32 574.51 L544.06 574.51 L544.8 574.52 L545.54 574.52 L546.28 574.52 L547.01 574.52 L547.75 574.53 L548.49 574.53 L549.23 574.53 L549.97 574.53 L550.7 574.53 L551.44 574.54 L552.18 574.54 L552.92 574.54 L553.66 574.54 L554.39 574.54 L555.13 574.54 L555.87 574.54 L556.61 574.54 L557.35 574.54 L558.08 574.54 L558.82 574.54 L559.56 574.54 L560.3 574.54 L561.04 574.53 L561.77 574.53 L562.51 574.53 L563.25 574.53 L563.99 574.52 L564.73 574.52 L565.46 574.51 L566.2 574.51 L566.94 574.5 L567.68 574.5 L568.42 574.49 L569.15 574.49 L569.89 574.48 L570.63 574.47 L571.37 574.46 L572.11 574.45 L572.84 574.44 L573.58 574.42 L574.32 574.38 L575.06 574.33 L575.8 574.27 L576.53 574.2 L577.27 574.12 L578.01 574.02 L578.75 573.91 L579.49 573.78 L580.22 573.63 L580.96 573.44 L581.7 573.18 L582.44 572.85 L583.18 572.43 L583.91 571.97 L584.65 571.46 L585.39 570.85 L586.13 570.08 L586.87 569.07 L587.6 567.82 L588.34 566.37 L589.08 564.74 L589.82 562.94 L590.56 560.99 L591.29 558.89 L592.03 556.63 L592.77 554.21 L593.51 551.63 L594.25 548.88 L594.98 545.93 L595.72 542.77 L596.46 539.48 L597.2 536.11 L597.94 532.73 L598.67 529.27 L599.41 525.7 L600.15 522.1 L600.89 518.58 L601.63 515.23 L602.36 512.06 L603.1 509.02 L603.84 506.07 L604.58 503.21 L605.32 500.42 L606.05 497.69 L606.79 495.03 L607.53 492.46 L608.27 489.99 L609.01 487.64 L609.74 485.41 L610.48 483.31 L611.22 481.31 L611.96 479.39 L612.7 477.54 L613.43 475.78 L614.17 474.1 L614.91 472.5 L615.65 470.96 L616.39 469.47 L617.12 468.02 L617.86 466.64 L618.6 465.31 L619.34 464.02 L620.08 462.74 L620.81 461.46 L621.55 460.2 L622.29 458.97 L623.03 457.79 L623.77 456.68 L624.5 455.64 L625.24 454.67 L625.98 453.74 L626.72 452.85 L627.46 451.97 L628.19 451.09 L628.93 450.21 L629.67 449.37 L630.41 448.6 L631.15 447.93 L631.88 447.39 L632.62 446.94 L633.36 446.57 L634.1 446.24 L634.84 445.91 L635.57 445.58 L636.31 445.28 L637.05 445 L637.79 444.76 L638.53 444.56 L639.26 444.4 L640 444.25 L640.74 444.11 L641.48 443.98 L642.22 443.86 L642.95 443.74 L643.69 443.64 L644.43 443.54 L645.17 443.44 L645.91 443.35 L646.64 443.27 L647.38 443.2 L648.12 443.13 L648.86 443.07 L649.6 443.02 L650.33 442.97 L651.07 442.92 L651.81 442.88 L652.55 442.85 L653.29 442.82 L654.02 442.78 L654.76 442.76 L655.5 442.73 L656.24 442.71 L656.98 442.69 L657.71 442.68 L658.45 442.66 L659.19 442.65 L659.93 442.63 L660.67 442.62 L661.4 442.61 L662.14 442.59 L662.88 442.58" fill="none" stroke="#333" stroke-width="0.7" />
<path d="M530.04 574.46 L530.78 574.46 L531.52 574.46 L532.25 574.46 L532.99 574.47 L533.73 574.47 L534.47 574.47 L535.21 574.47 L535.94 574.48 L536.68 574.48 L537.42 574.48 L538.16 574.48 L538.9 574.49 L539.63 574.49 L540.37 574.49 L541.11 574.5 L541.85 574.5 L542.59 574.5 L543.32 574.5 L544.06 574.51 L544.8 574.51 L545.54 574.51 L546.28 574.52 L547.01 574.52 L547.75 574.52 L548.49 574.52 L549.23 574.53 L549.97 574.53 L550.7 574.53 L551.44 574.53 L552.18 574.53 L552.92 574.54 L553.66 574.54 L554.39 574.54 L555.13 574.54 L555.87 574.54 L556.61 574.54 L557.35 574.54 L558.08 574.54 L558.82 574.54 L559.56 574.54 L560.3 574.54 L561.04 574.54 L561.77 574.54 L562.51 574.53 L563.25 574.53 L563.99 574.53 L564.73 574.53 L565.46 574.52 L566.2 574.52 L566.94 574.51 L567.68 574.51 L568.42 574.5 L569.15 574.5 L569.89 574.49 L570.63 574.49 L571.37 574.48 L572.11 574.47 L572.84 574.46 L573.58 574.45 L574.32 574.44 L575.06 574.42 L575.8 574.38 L576.53 574.33 L577.27 574.27 L578.01 574.2 L578.75 574.12 L579.49 574.02 L580.22 573.91 L580.96 573.78 L581.7 573.63 L582.44 573.44 L583.18 573.18 L583.91 572.85 L584.65 572.43 L585.39 571.97 L586.13 571.46 L586.87 570.85 L587.6 570.08 L588.34 569.07 L589.08 567.82 L589.82 566.37 L590.56 564.74 L591.29 562.94 L592.03 560.99 L592.77 558.89 L593.51 556.63 L594.25 554.21 L594.98 551.63 L595.72 548.88 L596.46 545.93 L597.2 542.77 L597.94 539.48 L598.67 536.11 L599.41 532.73 L600.15 529.27 L600.89 525.7 L601.63 522.1 L602.36 518.58 L603.1 515.23 L603.84 512.06 L604.58 509.02 L605.32 506.07 L606.05 503.21 L606.79 500.42 L607.53 497.69 L608.27 495.03 L609.01 492.46 L609.74 489.99 L610.48 487.64 L611.22 485.41 L611.96 483.31 L612.7 481.31 L613.43 479.39 L614.17 477.54 L614.91 475.78 L615.65 474.1 L616.39 472.5 L617.12 470.96 L617.86 469.47 L618.6 468.02 L619.34 466.64 L620.08 465.31 L620.81 464.02 L621.55 462.74 L622.29 461.46 L623.03 460.2 L623.77 458.97 L624.5 457.79 L625.24 456.68 L625.98 455.64 L626.72 454.67 L627.46 453.74 L628.19 452.85 L628.93 451.97 L629.67 451.09 L630.41 450.21 L631.15 449.37 L631.88 448.6 L632.62 447.93 L633.36 447.39 L634.1 446.94 L634.84 446.57 L635.57 446.24 L636.31 445.91 L637.05 445.58 L637.79 445.28 L638.53 445 L639.26 444.76 L640 444.56 L640.74 444.4 L641.48 444.25 L642.22 444.11 L642.95 443.98 L643.69 443.86 L644.43 443.74 L645.17 443.64 L645.91 443.54 L646.64 443.44 L647.38 443.35 L648.12 443.27 L648.86 443.2 L649.6 443.13 L650.33 443.07 L651.07 443.02 L651.81 442.97 L652.55 442.92 L653.29 442.88 L654.02 442.85 L654.76 442.82 L655.5 442.78 L656.24 442.76 L656.98 442.73 L657.71 442.71 L658.45 442.69 L659.19 442.68 L659.93 442.66 L660.67 442.65 L661.4 442.63 L662.14 442.62 L662.88 442.61" fill="none" stroke="#777" stroke-width="0.7" />
<path d="M530.04 574.46 L530.78 574.46 L531.52 574.46 L532.25 574.46 L532.99 574.46 L533.73 574.46 L534.47 574.46 L535.21 574.47 L535.94 574.47 L536.68 574.47 L537.42 574.47 L538.16 574.48 L538.9 574.48 L539.63 574.48 L540.37 574.48 L541.11 574.49 L541.85 574.49 L542.59 574.49 L543.32 574.5 L544.06 574.5 L544.8 574.5 L545.54 574.51 L546.28 574.51 L547.01 574.51 L547.75 574.51 L548.49 574.52 L549.23 574.52 L549.97 574.52 L550.7 574.52 L551.44 574.53 L552.18 574.53 L552.92 574.53 L553.66 574.53 L554.39 574.53 L555.13 574.54 L555.87 574.54 L556.61 574.54 L557.35 574.54 L558.08 574.54 L558.82 574.54 L559.56 574.54 L560.3 574.54 L561.04 574.54 L561.77 574.54 L562.51 574.54 L563.25 574.54 L563.99 574.53 L564.73 574.53 L565.46 574.53 L566.2 574.53 L566.94 574.52 L567.68 574.52 L568.42 574.52 L569.15 574.51 L569.89 574.51 L570.63 574.5 L571.37 574.5 L572.11 574.49 L572.84 574.48 L573.58 574.47 L574.32 574.47 L575.06 574.46 L575.8 574.45 L576.53 574.43 L577.27 574.4 L578.01 574.36 L578.75 574.31 L579.49 574.24 L580.22 574.16 L580.96 574.07 L581.7 573.97 L582.44 573.85 L583.18 573.71 L583.91 573.54 L584.65 573.32 L585.39 573.03 L586.13 572.66 L586.87 572.2 L587.6 571.72 L588.34 571.17 L589.08 570.49 L589.82 569.61 L590.56 568.47 L591.29 567.12 L592.03 565.58 L592.77 563.86 L593.51 561.99 L594.25 559.96 L594.98 557.78 L595.72 555.44 L596.46 552.94 L597.2 550.27 L597.94 547.43 L598.67 544.37 L599.41 541.14 L600.15 537.8 L600.89 534.42 L601.63 531.02 L602.36 527.49 L603.1 523.89 L603.84 520.32 L604.58 516.88 L605.32 513.63 L606.05 510.53 L606.79 507.53 L607.53 504.63 L608.27 501.81 L609.01 499.05 L609.74 496.35 L610.48 493.74 L611.22 491.21 L611.96 488.8 L612.7 486.51 L613.43 484.35 L614.17 482.3 L614.91 480.34 L615.65 478.46 L616.39 476.65 L617.12 474.93 L617.86 473.29 L618.6 471.73 L619.34 470.21 L620.08 468.74 L620.81 467.33 L621.55 465.97 L622.29 464.66 L623.03 463.38 L623.77 462.1 L624.5 460.83 L625.24 459.58 L625.98 458.38 L626.72 457.23 L627.46 456.15 L628.19 455.15 L628.93 454.2 L629.67 453.29 L630.41 452.41 L631.15 451.53 L631.88 450.64 L632.62 449.78 L633.36 448.97 L634.1 448.25 L634.84 447.64 L635.57 447.15 L636.31 446.75 L637.05 446.4 L637.79 446.08 L638.53 445.74 L639.26 445.43 L640 445.13 L640.74 444.88 L641.48 444.66 L642.22 444.48 L642.95 444.32 L643.69 444.18 L644.43 444.04 L645.17 443.92 L645.91 443.8 L646.64 443.69 L647.38 443.59 L648.12 443.49 L648.86 443.4 L649.6 443.31 L650.33 443.23 L651.07 443.16 L651.81 443.1 L652.55 443.04 L653.29 442.99 L654.02 442.94 L654.76 442.9 L655.5 442.87 L656.24 442.83 L656.98 442.8 L657.71 442.77 L658.45 442.75 L659.19 442.72 L659.93 442.7 L660.67 442.68 L661.4 442.67 L662.14 442.65 L662.88 442.64" fill="none" stroke="#555" stroke-width="0.7" />
<path d="M530.04 574.45 L530.78 574.45 L531.52 574.46 L532.25 574.46 L532.99 574.46 L533.73 574.46 L534.47 574.46 L535.21 574.46 L535.94 574.46 L536.68 574.47 L537.42 574.47 L538.16 574.47 L538.9 574.47 L539.63 574.48 L540.37 574.48 L541.11 574.48 L541.85 574.48 L542.59 574.49 L543.32 574.49 L544.06 574.49 L544.8 574.5 L545.54 574.5 L546.28 574.5 L547.01 574.5 L547.75 574.51 L548.49 574.51 L549.23 574.51 L549.97 574.52 L550.7 574.52 L551.44 574.52 L552.18 574.52 L552.92 574.53 L553.66 574.53 L554.39 574.53 L555.13 574.53 L555.87 574.53 L556.61 574.54 L557.35 574.54 L558.08 574.54 L558.82 574.54 L559.56 574.54 L560.3 574.54 L561.04 574.54 L561.77 574.54 L562.51 574.54 L563.25 574.54 L563.99 574.54 L564.73 574.54 L565.46 574.54 L566.2 574.53 L566.94 574.53 L567.68 574.53 L568.42 574.53 L569.15 574.52 L569.89 574.52 L570.63 574.51 L571.37 574.51 L572.11 574.5 L572.84 574.5 L573.58 574.49 L574.32 574.49 L575.06 574.48 L575.8 574.47 L576.53 574.46 L577.27 574.45 L578.01 574.44 L578.75 574.42 L579.49 574.38 L580.22 574.33 L580.96 574.27 L581.7 574.2 L582.44 574.12 L583.18 574.02 L583.91 573.91 L584.65 573.78 L585.39 573.63 L586.13 573.44 L586.87 573.18 L587.6 572.85 L588.34 572.43 L589.08 571.97 L589.82 571.46 L590.56 570.85 L591.29 570.08 L592.03 569.07 L592.77 567.82 L593.51 566.37 L594.25 564.74 L594.98 562.94 L595.72 560.99 L596.46 558.89 L597.2 556.63 L597.94 554.21 L598.67 551.63 L599.41 548.88 L600.15 545.93 L600.89 542.77 L601.63 539.48 L602.36 536.11 L603.1 532.73 L603.84 529.27 L604.58 525.7 L605.32 522.1 L606.05 518.58 L606.79 515.23 L607.53 512.06 L608.27 509.02 L609.01 506.07 L609.74 503.21 L610.48 500.42 L611.22 497.69 L611.96 495.03 L612.7 492.46 L613.43 489.99 L614.17 487.64 L614.91 485.41 L615.65 483.31 L616.39 481.31 L617.12 479.39 L617.86 477.54 L618.6 475.78 L619.34 474.1 L620.08 472.5 L620.81 470.96 L621.55 469.47 L622.29 468.02 L623.03 466.64 L623.77 465.31 L624.5 464.02 L625.24 462.74 L625.98 461.46 L626.72 460.2 L627.46 458.97 L628.19 457.79 L628.93 456.68 L629.67 455.64 L630.41 454.67 L631.15 453.74 L631.88 452.85 L632.62 451.97 L633.36 451.09 L634.1 450.21 L634.84 449.37 L635.57 448.6 L636.31 447.93 L637.05 447.39 L637.79 446.94 L638.53 446.57 L639.26 446.24 L640 445.91 L640.74 445.58 L641.48 445.28 L642.22 445 L642.95 444.76 L643.69 444.56 L644.43 444.4 L645.17 444.25 L645.91 444.11 L646.64 443.98 L647.38 443.86 L648.12 443.74 L648.86 443.64 L649.6 443.54 L650.33 443.44 L651.07 443.35 L651.81 443.27 L652.55 443.2 L653.29 443.13 L654.02 443.07 L654.76 443.02 L655.5 442.97 L656.24 442.92 L656.98 442.88 L657.71 442.85 L658.45 442.82 L659.19 442.78 L659.93 442.76 L660.67 442.73 L661.4 442.71 L662.14 442.69 L662.88 442.68" fill="none" stroke="#888" stroke-width="0.7" />
<line x1="530.04" y1="574.28" x2="530.04" y2="577.51" stroke="#999" stroke-width="0.7" />
<line x1="528.74" y1="574.28" x2="531.34" y2="574.28" stroke="#999" stroke-width="0.7" />
<path d="M530.04 572.72 L533.06 574.91 L531.91 578.46 L528.17 578.46 L527.02 574.91Z" fill="#000"/>
<line x1="530.04" y1="573.9" x2="530.04" y2="577.13" stroke="#999" stroke-width="0.7" />
<line x1="528.74" y1="573.9" x2="531.34" y2="573.9" stroke="#999" stroke-width="0.7" />
<circle cx="530.04" cy="575.51" r="2.87" fill="#000"/>
<line x1="530.04" y1="574.09" x2="530.04" y2="577.32" stroke="#999" stroke-width="0.7" />
<line x1="528.74" y1="574.09" x2="531.34" y2="574.09" stroke="#999" stroke-width="0.7" />
<circle cx="530.04" cy="575.71" r="2.87" fill="#000"/>
<line x1="530.04" y1="575.02" x2="530.04" y2="578.25" stroke="#999" stroke-width="0.7" />
<line x1="528.74" y1="575.02" x2="531.34" y2="575.02" stroke="#999" stroke-width="0.7" />
<path d="M527.56 574.15 L532.52 574.15 L532.52 579.11 L527.56 579.11Z" fill="#000"/>
<line x1="530.04" y1="573.04" x2="530.04" y2="576.27" stroke="#999" stroke-width="0.7" />
<line x1="528.74" y1="573.04" x2="531.34" y2="573.04" stroke="#999" stroke-width="0.7" />
<path d="M530.04 571.32 L533.52 577.22 L526.56 577.22Z" fill="#000"/>
<path d="M530.04 579.6 L533.52 573.71 L526.56 573.71Z" fill="#000"/>
<path d="M530.04 570.7 L533.22 574.33 L530.04 577.95 L526.86 574.33Z" fill="#000"/>
<path d="M527.02 575.81 L532.46 572.48 L532.46 579.14Z" fill="#000"/>
<path d="M533.06 576.75 L527.62 573.42 L527.62 580.08Z" fill="#000"/>
<path d="M537.42 573.42 L540.44 575.62 L539.29 579.17 L535.55 579.17 L534.4 575.62Z" fill="#000"/>
<line x1="537.42" y1="574.76" x2="537.42" y2="577.99" stroke="#999" stroke-width="0.7" />
<line x1="536.12" y1="574.76" x2="538.72" y2="574.76" stroke="#999" stroke-width="0.7" />
<circle cx="537.42" cy="576.37" r="2.87" fill="#000"/>
<circle cx="537.42" cy="574.96" r="2.87" fill="#000"/>
<line x1="537.42" y1="573.6" x2="537.42" y2="576.83" stroke="#999" stroke-width="0.7" />
<line x1="536.12" y1="573.6" x2="538.72" y2="573.6" stroke="#999" stroke-width="0.7" />
<path d="M534.94 572.73 L539.9 572.73 L539.9 577.69 L534.94 577.69Z" fill="#000"/>
<path d="M537.42 572.12 L540.9 578.02 L533.94 578.02Z" fill="#000"/>
<path d="M537.42 578.95 L540.9 573.05 L533.94 573.05Z" fill="#000"/>
<line x1="537.42" y1="574.29" x2="537.42" y2="577.52" stroke="#999" stroke-width="0.7" />
<line x1="536.12" y1="574.29" x2="538.72" y2="574.29" stroke="#999" stroke-width="0.7" />
<path d="M537.42 572.27 L540.6 575.9 L537.42 579.53 L534.24 575.9Z" fill="#000"/>
<path d="M534.4 576.39 L539.84 573.07 L539.84 579.72Z" fill="#000"/>
<line x1="537.42" y1="575.04" x2="537.42" y2="578.27" stroke="#999" stroke-width="0.7" />
<line x1="536.12" y1="575.04" x2="538.72" y2="575.04" stroke="#999" stroke-width="0.7" />
<path d="M540.44 576.66 L535 573.33 L535 579.98Z" fill="#000"/>
<line x1="544.8" y1="574.82" x2="544.8" y2="578.05" stroke="#999" stroke-width="0.7" />
<line x1="543.5" y1="574.82" x2="546.1" y2="574.82" stroke="#999" stroke-width="0.7" />
<path d="M544.8 573.26 L547.82 575.45 L546.67 579 L542.93 579 L541.78 575.45Z" fill="#000"/>
<line x1="544.8" y1="572.75" x2="544.8" y2="575.98" stroke="#999" stroke-width="0.7" />
<line x1="543.5" y1="572.75" x2="546.1" y2="572.75" stroke="#999" stroke-width="0.7" />
<circle cx="544.8" cy="574.36" r="2.87" fill="#000"/>
<line x1="544.8" y1="572.67" x2="544.8" y2="575.9" stroke="#999" stroke-width="0.7" />
<line x1="543.5" y1="572.67" x2="546.1" y2="572.67" stroke="#999" stroke-width="0.7" />
<circle cx="544.8" cy="574.29" r="2.87" fill="#000"/>
<path d="M542.32 572.89 L547.28 572.89 L547.28 577.85 L542.32 577.85Z" fill="#000"/>
<line x1="544.8" y1="563.69" x2="544.8" y2="574.45" stroke="#999" stroke-width="0.7" />
<line x1="543.5" y1="563.69" x2="546.1" y2="563.69" stroke="#999" stroke-width="0.7" />
<path d="M544.8 565.74 L548.28 571.64 L541.32 571.64Z" fill="#000"/>
<line x1="544.8" y1="569.07" x2="544.8" y2="574.45" stroke="#999" stroke-width="0.7" />
<line x1="543.5" y1="569.07" x2="546.1" y2="569.07" stroke="#999" stroke-width="0.7" />
<path d="M544.8 575.09 L548.28 569.19 L541.32 569.19Z" fill="#000"/>
<line x1="544.8" y1="573.12" x2="544.8" y2="576.35" stroke="#999" stroke-width="0.7" />
<line x1="543.5" y1="573.12" x2="546.1" y2="573.12" stroke="#999" stroke-width="0.7" />
<path d="M544.8 571.1 L547.98 574.73 L544.8 578.36 L541.62 574.73Z" fill="#000"/>
<line x1="544.8" y1="575.01" x2="544.8" y2="578.24" stroke="#999" stroke-width="0.7" />
<line x1="543.5" y1="575.01" x2="546.1" y2="575.01" stroke="#999" stroke-width="0.7" />
<path d="M541.78 576.62 L547.22 573.3 L547.22 579.95Z" fill="#000"/>
<line x1="544.8" y1="573.39" x2="544.8" y2="576.62" stroke="#999" stroke-width="0.7" />
<line x1="543.5" y1="573.39" x2="546.1" y2="573.39" stroke="#999" stroke-width="0.7" />
<path d="M547.82 575 L542.38 571.67 L542.38 578.33Z" fill="#000"/>
<path d="M552.18 572.74 L555.2 574.94 L554.05 578.49 L550.31 578.49 L549.16 574.94Z" fill="#000"/>
<line x1="552.18" y1="573.93" x2="552.18" y2="577.16" stroke="#999" stroke-width="0.7" />
<line x1="550.88" y1="573.93" x2="553.48" y2="573.93" stroke="#999" stroke-width="0.7" />
<circle cx="552.18" cy="575.55" r="2.87" fill="#000"/>
<circle cx="552.18" cy="576.1" r="2.87" fill="#000"/>
<path d="M549.7 573.33 L554.66 573.33 L554.66 578.29 L549.7 578.29Z" fill="#000"/>
<line x1="552.18" y1="563.69" x2="552.18" y2="574.45" stroke="#999" stroke-width="0.7" />
<line x1="550.88" y1="563.69" x2="553.48" y2="563.69" stroke="#999" stroke-width="0.7" />
<path d="M552.18 565.74 L555.66 571.64 L548.7 571.64Z" fill="#000"/>
<line x1="552.18" y1="574.18" x2="552.18" y2="577.41" stroke="#999" stroke-width="0.7" />
<line x1="550.88" y1="574.18" x2="553.48" y2="574.18" stroke="#999" stroke-width="0.7" />
<path d="M552.18 579.12 L555.66 573.23 L548.7 573.23Z" fill="#000"/>
<line x1="552.18" y1="574.89" x2="552.18" y2="578.12" stroke="#999" stroke-width="0.7" />
<line x1="550.88" y1="574.89" x2="553.48" y2="574.89" stroke="#999" stroke-width="0.7" />
<path d="M552.18 572.88 L555.36 576.51 L552.18 580.14 L549 576.51Z" fill="#000"/>
<path d="M549.16 575.4 L554.6 572.07 L554.6 578.72Z" fill="#000"/>
<path d="M555.2 574.22 L549.76 570.89 L549.76 577.55Z" fill="#000"/>
<path d="M559.56 573.67 L562.58 575.86 L561.43 579.41 L557.69 579.41 L556.54 575.86Z" fill="#000"/>
<line x1="559.56" y1="574.77" x2="559.56" y2="578" stroke="#999" stroke-width="0.7" />
<line x1="558.26" y1="574.77" x2="560.86" y2="574.77" stroke="#999" stroke-width="0.7" />
<circle cx="559.56" cy="576.39" r="2.87" fill="#000"/>
<circle cx="559.56" cy="576.48" r="2.87" fill="#000"/>
<line x1="559.56" y1="573.62" x2="559.56" y2="576.85" stroke="#999" stroke-width="0.7" />
<line x1="558.26" y1="573.62" x2="560.86" y2="573.62" stroke="#999" stroke-width="0.7" />
<path d="M557.08 572.76 L562.04 572.76 L562.04 577.71 L557.08 577.71Z" fill="#000"/>
<path d="M559.56 565.74 L563.04 571.64 L556.08 571.64Z" fill="#000"/>
<path d="M559.56 577.65 L563.04 571.75 L556.08 571.75Z" fill="#000"/>
<line x1="559.56" y1="573.27" x2="559.56" y2="576.5" stroke="#999" stroke-width="0.7" />
<line x1="558.26" y1="573.27" x2="560.86" y2="573.27" stroke="#999" stroke-width="0.7" />
<path d="M559.56 571.26 L562.74 574.89 L559.56 578.51 L556.38 574.89Z" fill="#000"/>
<path d="M556.54 574.53 L561.98 571.21 L561.98 577.86Z" fill="#000"/>
<path d="M562.58 575.04 L557.14 571.72 L557.14 578.37Z" fill="#000"/>
<line x1="566.94" y1="575.08" x2="566.94" y2="578.31" stroke="#999" stroke-width="0.7" />
<line x1="565.64" y1="575.08" x2="568.24" y2="575.08" stroke="#999" stroke-width="0.7" />
<path d="M566.94 573.52 L569.96 575.71 L568.81 579.26 L565.07 579.26 L563.92 575.71Z" fill="#000"/>
<line x1="566.94" y1="574.82" x2="566.94" y2="578.06" stroke="#999" stroke-width="0.7" />
<line x1="565.64" y1="574.82" x2="568.24" y2="574.82" stroke="#999" stroke-width="0.7" />
<circle cx="566.94" cy="576.44" r="2.87" fill="#000"/>
<line x1="566.94" y1="575.12" x2="566.94" y2="578.35" stroke="#999" stroke-width="0.7" />
<line x1="565.64" y1="575.12" x2="568.24" y2="575.12" stroke="#999" stroke-width="0.7" />
<circle cx="566.94" cy="576.74" r="2.87" fill="#000"/>
<line x1="566.94" y1="574.85" x2="566.94" y2="578.08" stroke="#999" stroke-width="0.7" />
<line x1="565.64" y1="574.85" x2="568.24" y2="574.85" stroke="#999" stroke-width="0.7" />
<path d="M564.46 573.99 L569.42 573.99 L569.42 578.95 L564.46 578.95Z" fill="#000"/>
<line x1="566.94" y1="574.28" x2="566.94" y2="577.51" stroke="#999" stroke-width="0.7" />
<line x1="565.64" y1="574.28" x2="568.24" y2="574.28" stroke="#999" stroke-width="0.7" />
<path d="M566.94 572.57 L570.42 578.47 L563.46 578.47Z" fill="#000"/>
<path d="M566.94 577.85 L570.42 571.95 L563.46 571.95Z" fill="#000"/>
<line x1="566.94" y1="574.86" x2="566.94" y2="578.09" stroke="#999" stroke-width="0.7" />
<line x1="565.64" y1="574.86" x2="568.24" y2="574.86" stroke="#999" stroke-width="0.7" />
<path d="M566.94 572.85 L570.12 576.48 L566.94 580.11 L563.76 576.48Z" fill="#000"/>
<line x1="566.94" y1="574.33" x2="566.94" y2="577.56" stroke="#999" stroke-width="0.7" />
<line x1="565.64" y1="574.33" x2="568.24" y2="574.33" stroke="#999" stroke-width="0.7" />
<path d="M563.92 575.94 L569.36 572.62 L569.36 579.27Z" fill="#000"/>
<path d="M569.96 576.55 L564.52 573.22 L564.52 579.87Z" fill="#000"/>
<line x1="574.32" y1="573.27" x2="574.32" y2="576.5" stroke="#999" stroke-width="0.7" />
<line x1="573.02" y1="573.27" x2="575.62" y2="573.27" stroke="#999" stroke-width="0.7" />
<path d="M574.32 571.71 L577.34 573.9 L576.19 577.45 L572.45 577.45 L571.3 573.9Z" fill="#000"/>
<circle cx="574.32" cy="575.01" r="2.87" fill="#000"/>
<circle cx="574.32" cy="576.32" r="2.87" fill="#000"/>
<path d="M571.84 573.42 L576.8 573.42 L576.8 578.38 L571.84 578.38Z" fill="#000"/>
<path d="M574.32 571.09 L577.8 576.99 L570.84 576.99Z" fill="#000"/>
<path d="M574.32 579.4 L577.8 573.5 L570.84 573.5Z" fill="#000"/>
<path d="M574.32 573 L577.5 576.63 L574.32 580.26 L571.14 576.63Z" fill="#000"/>
<path d="M571.3 575.48 L576.74 572.15 L576.74 578.81Z" fill="#000"/>
<line x1="574.32" y1="574.3" x2="574.32" y2="577.53" stroke="#999" stroke-width="0.7" />
<line x1="573.02" y1="574.3" x2="575.62" y2="574.3" stroke="#999" stroke-width="0.7" />
<path d="M577.34 575.92 L571.9 572.59 L571.9 579.25Z" fill="#000"/>
<line x1="581.7" y1="573.27" x2="581.7" y2="576.5" stroke="#999" stroke-width="0.7" />
<line x1="580.4" y1="573.27" x2="583" y2="573.27" stroke="#999" stroke-width="0.7" />
<path d="M581.7 571.71 L584.72 573.9 L583.57 577.45 L579.83 577.45 L578.68 573.9Z" fill="#000"/>
<line x1="581.7" y1="573.87" x2="581.7" y2="577.1" stroke="#999" stroke-width="0.7" />
<line x1="580.4" y1="573.87" x2="583" y2="573.87" stroke="#999" stroke-width="0.7" />
<circle cx="581.7" cy="575.48" r="2.87" fill="#000"/>
<line x1="581.7" y1="575.18" x2="581.7" y2="578.41" stroke="#999" stroke-width="0.7" />
<line x1="580.4" y1="575.18" x2="583" y2="575.18" stroke="#999" stroke-width="0.7" />
<circle cx="581.7" cy="576.8" r="2.87" fill="#000"/>
<line x1="581.7" y1="574.51" x2="581.7" y2="577.74" stroke="#999" stroke-width="0.7" />
<line x1="580.4" y1="574.51" x2="583" y2="574.51" stroke="#999" stroke-width="0.7" />
<path d="M579.22 573.64 L584.18 573.64 L584.18 578.6 L579.22 578.6Z" fill="#000"/>
<path d="M581.7 571.69 L585.18 577.58 L578.22 577.58Z" fill="#000"/>
<path d="M581.7 579 L585.18 573.1 L578.22 573.1Z" fill="#000"/>
<path d="M581.7 570.59 L584.88 574.22 L581.7 577.85 L578.52 574.22Z" fill="#000"/>
<line x1="581.7" y1="574.28" x2="581.7" y2="577.51" stroke="#999" stroke-width="0.7" />
<line x1="580.4" y1="574.28" x2="583" y2="574.28" stroke="#999" stroke-width="0.7" />
<path d="M578.68 575.9 L584.12 572.57 L584.12 579.22Z" fill="#000"/>
<line x1="581.7" y1="574.65" x2="581.7" y2="577.88" stroke="#999" stroke-width="0.7" />
<line x1="580.4" y1="574.65" x2="583" y2="574.65" stroke="#999" stroke-width="0.7" />
<path d="M584.72 576.27 L579.28 572.94 L579.28 579.59Z" fill="#000"/>
<path d="M589.08 565.73 L592.1 567.92 L590.95 571.47 L587.21 571.47 L586.06 567.92Z" fill="#000"/>
<line x1="589.08" y1="570.25" x2="589.08" y2="574.29" stroke="#999" stroke-width="0.7" />
<line x1="587.78" y1="570.25" x2="590.38" y2="570.25" stroke="#999" stroke-width="0.7" />
<circle cx="589.08" cy="572.27" r="2.87" fill="#000"/>
<circle cx="589.08" cy="571.43" r="2.87" fill="#000"/>
<path d="M586.6 563.9 L591.56 563.9 L591.56 568.86 L586.6 568.86Z" fill="#000"/>
<path d="M589.08 569.78 L592.56 575.68 L585.6 575.68Z" fill="#000"/>
<path d="M589.08 571.39 L592.56 565.49 L585.6 565.49Z" fill="#000"/>
<line x1="589.08" y1="567.72" x2="589.08" y2="571.76" stroke="#999" stroke-width="0.7" />
<line x1="587.78" y1="567.72" x2="590.38" y2="567.72" stroke="#999" stroke-width="0.7" />
<path d="M589.08 566.11 L592.26 569.74 L589.08 573.37 L585.9 569.74Z" fill="#000"/>
<line x1="589.08" y1="565.2" x2="589.08" y2="569.24" stroke="#999" stroke-width="0.7" />
<line x1="587.78" y1="565.2" x2="590.38" y2="565.2" stroke="#999" stroke-width="0.7" />
<path d="M586.06 567.22 L591.5 563.89 L591.5 570.55Z" fill="#000"/>
<path d="M592.1 570.58 L586.66 567.26 L586.66 573.91Z" fill="#000"/>
<path d="M596.46 550.08 L599.48 552.27 L598.33 555.82 L594.59 555.82 L593.44 552.27Z" fill="#000"/>
<line x1="596.46" y1="552.92" x2="596.46" y2="563.69" stroke="#999" stroke-width="0.7" />
<line x1="595.16" y1="552.92" x2="597.76" y2="552.92" stroke="#999" stroke-width="0.7" />
<circle cx="596.46" cy="558.3" r="2.87" fill="#000"/>
<line x1="596.46" y1="535.25" x2="596.46" y2="546.02" stroke="#999" stroke-width="0.7" />
<line x1="595.16" y1="535.25" x2="597.76" y2="535.25" stroke="#999" stroke-width="0.7" />
<circle cx="596.46" cy="540.64" r="2.87" fill="#000"/>
<line x1="596.46" y1="542.82" x2="596.46" y2="553.59" stroke="#999" stroke-width="0.7" />
<line x1="595.16" y1="542.82" x2="597.76" y2="542.82" stroke="#999" stroke-width="0.7" />
<path d="M593.98 545.73 L598.94 545.73 L598.94 550.69 L593.98 550.69Z" fill="#000"/>
<path d="M596.46 547.4 L599.94 553.3 L592.98 553.3Z" fill="#000"/>
<path d="M596.46 541.44 L599.94 535.54 L592.98 535.54Z" fill="#000"/>
<line x1="596.46" y1="537.78" x2="596.46" y2="548.54" stroke="#999" stroke-width="0.7" />
<line x1="595.16" y1="537.78" x2="597.76" y2="537.78" stroke="#999" stroke-width="0.7" />
<path d="M596.46 539.53 L599.64 543.16 L596.46 546.79 L593.28 543.16Z" fill="#000"/>
<path d="M593.44 555.78 L598.88 552.45 L598.88 559.1Z" fill="#000"/>
<path d="M599.48 545.68 L594.04 542.36 L594.04 549.01Z" fill="#000"/>
<path d="M603.84 500.75 L606.86 502.94 L605.71 506.49 L601.97 506.49 L600.82 502.94Z" fill="#000"/>
<circle cx="603.84" cy="506.92" r="2.87" fill="#000"/>
<line x1="603.84" y1="513.51" x2="603.84" y2="524.28" stroke="#999" stroke-width="0.7" />
<line x1="602.54" y1="513.51" x2="605.14" y2="513.51" stroke="#999" stroke-width="0.7" />
<circle cx="603.84" cy="518.9" r="2.87" fill="#000"/>
<path d="M601.36 525.4 L606.32 525.4 L606.32 530.36 L601.36 530.36Z" fill="#000"/>
<path d="M603.84 521.56 L607.32 527.46 L600.36 527.46Z" fill="#000"/>
<line x1="603.84" y1="504.53" x2="603.84" y2="515.3" stroke="#999" stroke-width="0.7" />
<line x1="602.54" y1="504.53" x2="605.14" y2="504.53" stroke="#999" stroke-width="0.7" />
<path d="M603.84 513.24 L607.32 507.34 L600.36 507.34Z" fill="#000"/>
<line x1="603.84" y1="510.52" x2="603.84" y2="521.29" stroke="#999" stroke-width="0.7" />
<line x1="602.54" y1="510.52" x2="605.14" y2="510.52" stroke="#999" stroke-width="0.7" />
<path d="M603.84 512.27 L607.02 515.9 L603.84 519.53 L600.66 515.9Z" fill="#000"/>
<line x1="603.84" y1="516.51" x2="603.84" y2="527.28" stroke="#999" stroke-width="0.7" />
<line x1="602.54" y1="516.51" x2="605.14" y2="516.51" stroke="#999" stroke-width="0.7" />
<path d="M600.82 521.89 L606.26 518.57 L606.26 525.22Z" fill="#000"/>
<line x1="603.84" y1="507.52" x2="603.84" y2="518.29" stroke="#999" stroke-width="0.7" />
<line x1="602.54" y1="507.52" x2="605.14" y2="507.52" stroke="#999" stroke-width="0.7" />
<path d="M606.86 512.91 L601.42 509.58 L601.42 516.23Z" fill="#000"/>
<path d="M611.22 475.71 L614.24 477.91 L613.09 481.46 L609.35 481.46 L608.2 477.91Z" fill="#000"/>
<circle cx="611.22" cy="482.93" r="2.87" fill="#000"/>
<circle cx="611.22" cy="491" r="2.87" fill="#000"/>
<path d="M608.74 492.56 L613.7 492.56 L613.7 497.52 L608.74 497.52Z" fill="#000"/>
<path d="M611.22 489.69 L614.7 495.59 L607.74 495.59Z" fill="#000"/>
<path d="M611.22 492.31 L614.7 486.41 L607.74 486.41Z" fill="#000"/>
<line x1="611.22" y1="475.52" x2="611.22" y2="486.29" stroke="#999" stroke-width="0.7" />
<line x1="609.92" y1="475.52" x2="612.52" y2="475.52" stroke="#999" stroke-width="0.7" />
<path d="M611.22 477.28 L614.4 480.91 L611.22 484.54 L608.04 480.91Z" fill="#000"/>
<line x1="611.22" y1="481.58" x2="611.22" y2="492.35" stroke="#999" stroke-width="0.7" />
<line x1="609.92" y1="481.58" x2="612.52" y2="481.58" stroke="#999" stroke-width="0.7" />
<path d="M608.2 486.96 L613.64 483.64 L613.64 490.29Z" fill="#000"/>
<path d="M614.24 484.94 L608.8 481.62 L608.8 488.27Z" fill="#000"/>
<path d="M618.6 457.54 L621.62 459.74 L620.47 463.29 L616.73 463.29 L615.58 459.74Z" fill="#000"/>
<line x1="618.6" y1="464.33" x2="618.6" y2="475.1" stroke="#999" stroke-width="0.7" />
<line x1="617.3" y1="464.33" x2="619.9" y2="464.33" stroke="#999" stroke-width="0.7" />
<circle cx="618.6" cy="469.72" r="2.87" fill="#000"/>
<line x1="618.6" y1="460.73" x2="618.6" y2="471.5" stroke="#999" stroke-width="0.7" />
<line x1="617.3" y1="460.73" x2="619.9" y2="460.73" stroke="#999" stroke-width="0.7" />
<circle cx="618.6" cy="466.12" r="2.87" fill="#000"/>
<path d="M616.12 461.84 L621.08 461.84 L621.08 466.8 L616.12 466.8Z" fill="#000"/>
<path d="M618.6 469.99 L622.08 475.89 L615.12 475.89Z" fill="#000"/>
<line x1="618.6" y1="469.74" x2="618.6" y2="480.5" stroke="#999" stroke-width="0.7" />
<line x1="617.3" y1="469.74" x2="619.9" y2="469.74" stroke="#999" stroke-width="0.7" />
<path d="M618.6 478.45 L622.08 472.55 L615.12 472.55Z" fill="#000"/>
<path d="M618.6 464.29 L621.78 467.92 L618.6 471.55 L615.42 467.92Z" fill="#000"/>
<path d="M615.58 471.52 L621.02 468.19 L621.02 474.85Z" fill="#000"/>
<line x1="618.6" y1="457.13" x2="618.6" y2="467.9" stroke="#999" stroke-width="0.7" />
<line x1="617.3" y1="457.13" x2="619.9" y2="457.13" stroke="#999" stroke-width="0.7" />
<path d="M621.62 462.52 L616.18 459.19 L616.18 465.84Z" fill="#000"/>
<path d="M625.98 456.35 L629 458.54 L627.85 462.09 L624.11 462.09 L622.96 458.54Z" fill="#000"/>
<circle cx="625.98" cy="454.74" r="2.87" fill="#000"/>
<line x1="625.98" y1="452.94" x2="625.98" y2="463.71" stroke="#999" stroke-width="0.7" />
<line x1="624.68" y1="452.94" x2="627.28" y2="452.94" stroke="#999" stroke-width="0.7" />
<circle cx="625.98" cy="458.33" r="2.87" fill="#000"/>
<path d="M623.5 448.68 L628.46 448.68 L628.46 453.64 L623.5 453.64Z" fill="#000"/>
<path d="M625.98 449.03 L629.46 454.93 L622.5 454.93Z" fill="#000"/>
<path d="M625.98 456.88 L629.46 450.98 L622.5 450.98Z" fill="#000"/>
<path d="M625.98 457.09 L629.16 460.72 L625.98 464.35 L622.8 460.72Z" fill="#000"/>
<line x1="625.98" y1="450.55" x2="625.98" y2="461.32" stroke="#999" stroke-width="0.7" />
<line x1="624.68" y1="450.55" x2="627.28" y2="450.55" stroke="#999" stroke-width="0.7" />
<path d="M622.96 455.94 L628.4 452.61 L628.4 459.27Z" fill="#000"/>
<path d="M629 457.13 L623.56 453.81 L623.56 460.46Z" fill="#000"/>
<line x1="633.36" y1="444.3" x2="633.36" y2="448.33" stroke="#999" stroke-width="0.7" />
<line x1="632.06" y1="444.3" x2="634.66" y2="444.3" stroke="#999" stroke-width="0.7" />
<path d="M633.36 443.14 L636.38 445.33 L635.23 448.88 L631.49 448.88 L630.34 445.33Z" fill="#000"/>
<line x1="633.36" y1="449.95" x2="633.36" y2="453.99" stroke="#999" stroke-width="0.7" />
<line x1="632.06" y1="449.95" x2="634.66" y2="449.95" stroke="#999" stroke-width="0.7" />
<circle cx="633.36" cy="451.97" r="2.87" fill="#000"/>
<line x1="633.36" y1="442.41" x2="633.36" y2="446.45" stroke="#999" stroke-width="0.7" />
<line x1="632.06" y1="442.41" x2="634.66" y2="442.41" stroke="#999" stroke-width="0.7" />
<circle cx="633.36" cy="444.43" r="2.87" fill="#000"/>
<path d="M630.88 448.55 L635.84 448.55 L635.84 453.51 L630.88 453.51Z" fill="#000"/>
<line x1="633.36" y1="448.06" x2="633.36" y2="452.1" stroke="#999" stroke-width="0.7" />
<line x1="632.06" y1="448.06" x2="634.66" y2="448.06" stroke="#999" stroke-width="0.7" />
<path d="M633.36 446.76 L636.84 452.65 L629.88 452.65Z" fill="#000"/>
<line x1="633.36" y1="446.18" x2="633.36" y2="450.22" stroke="#999" stroke-width="0.7" />
<line x1="632.06" y1="446.18" x2="634.66" y2="446.18" stroke="#999" stroke-width="0.7" />
<path d="M633.36 451.53 L636.84 445.63 L629.88 445.63Z" fill="#000"/>
<line x1="633.36" y1="445.24" x2="633.36" y2="449.28" stroke="#999" stroke-width="0.7" />
<line x1="632.06" y1="445.24" x2="634.66" y2="445.24" stroke="#999" stroke-width="0.7" />
<path d="M633.36 443.63 L636.54 447.26 L633.36 450.89 L630.18 447.26Z" fill="#000"/>
<line x1="633.36" y1="447.12" x2="633.36" y2="451.16" stroke="#999" stroke-width="0.7" />
<line x1="632.06" y1="447.12" x2="634.66" y2="447.12" stroke="#999" stroke-width="0.7" />
<path d="M630.34 449.14 L635.78 445.81 L635.78 452.47Z" fill="#000"/>
<path d="M636.38 445.37 L630.94 442.05 L630.94 448.7Z" fill="#000"/>
<line x1="640.74" y1="442.55" x2="640.74" y2="446.58" stroke="#999" stroke-width="0.7" />
<line x1="639.44" y1="442.55" x2="642.04" y2="442.55" stroke="#999" stroke-width="0.7" />
<path d="M640.74 441.39 L643.76 443.58 L642.61 447.13 L638.87 447.13 L637.72 443.58Z" fill="#000"/>
<line x1="640.74" y1="445.24" x2="640.74" y2="449.28" stroke="#999" stroke-width="0.7" />
<line x1="639.44" y1="445.24" x2="642.04" y2="445.24" stroke="#999" stroke-width="0.7" />
<circle cx="640.74" cy="447.26" r="2.87" fill="#000"/>
<circle cx="640.74" cy="443.22" r="2.87" fill="#000"/>
<path d="M638.26 439.39 L643.22 439.39 L643.22 444.35 L638.26 444.35Z" fill="#000"/>
<line x1="640.74" y1="443.22" x2="640.74" y2="447.26" stroke="#999" stroke-width="0.7" />
<line x1="639.44" y1="443.22" x2="642.04" y2="443.22" stroke="#999" stroke-width="0.7" />
<path d="M640.74 441.91 L644.22 447.81 L637.26 447.81Z" fill="#000"/>
<line x1="640.74" y1="444.56" x2="640.74" y2="448.6" stroke="#999" stroke-width="0.7" />
<line x1="639.44" y1="444.56" x2="642.04" y2="444.56" stroke="#999" stroke-width="0.7" />
<path d="M640.74 449.91 L644.22 444.01 L637.26 444.01Z" fill="#000"/>
<path d="M640.74 438.92 L643.92 442.55 L640.74 446.17 L637.56 442.55Z" fill="#000"/>
<line x1="640.74" y1="443.89" x2="640.74" y2="447.93" stroke="#999" stroke-width="0.7" />
<line x1="639.44" y1="443.89" x2="642.04" y2="443.89" stroke="#999" stroke-width="0.7" />
<path d="M637.72 445.91 L643.16 442.58 L643.16 449.24Z" fill="#000"/>
<line x1="640.74" y1="441.87" x2="640.74" y2="445.91" stroke="#999" stroke-width="0.7" />
<line x1="639.44" y1="441.87" x2="642.04" y2="441.87" stroke="#999" stroke-width="0.7" />
<path d="M643.76 443.89 L638.32 440.57 L638.32 447.22Z" fill="#000"/>
<line x1="648.12" y1="440.19" x2="648.12" y2="444.23" stroke="#999" stroke-width="0.7" />
<line x1="646.82" y1="440.19" x2="649.42" y2="440.19" stroke="#999" stroke-width="0.7" />
<path d="M648.12 439.03 L651.14 441.23 L649.99 444.78 L646.25 444.78 L645.1 441.23Z" fill="#000"/>
<line x1="648.12" y1="439.43" x2="648.12" y2="443.47" stroke="#999" stroke-width="0.7" />
<line x1="646.82" y1="439.43" x2="649.42" y2="439.43" stroke="#999" stroke-width="0.7" />
<circle cx="648.12" cy="441.45" r="2.87" fill="#000"/>
<line x1="648.12" y1="440.44" x2="648.12" y2="444.48" stroke="#999" stroke-width="0.7" />
<line x1="646.82" y1="440.44" x2="649.42" y2="440.44" stroke="#999" stroke-width="0.7" />
<circle cx="648.12" cy="442.46" r="2.87" fill="#000"/>
<path d="M645.64 439.23 L650.6 439.23 L650.6 444.18 L645.64 444.18Z" fill="#000"/>
<path d="M648.12 439.89 L651.6 445.79 L644.64 445.79Z" fill="#000"/>
<line x1="648.12" y1="440.7" x2="648.12" y2="444.73" stroke="#999" stroke-width="0.7" />
<line x1="646.82" y1="440.7" x2="649.42" y2="440.7" stroke="#999" stroke-width="0.7" />
<path d="M648.12 446.04 L651.6 440.14 L644.64 440.14Z" fill="#000"/>
<path d="M648.12 437.57 L651.3 441.2 L648.12 444.83 L644.94 441.2Z" fill="#000"/>
<path d="M645.1 442.97 L650.54 439.64 L650.54 446.29Z" fill="#000"/>
<path d="M651.14 441.96 L645.7 438.63 L645.7 445.28Z" fill="#000"/>
<path d="M655.5 438.53 L658.52 440.72 L657.37 444.27 L653.63 444.27 L652.48 440.72Z" fill="#000"/>
<circle cx="655.5" cy="441.87" r="2.87" fill="#000"/>
<circle cx="655.5" cy="442.04" r="2.87" fill="#000"/>
<path d="M653.02 438.89 L657.98 438.89 L657.98 443.85 L653.02 443.85Z" fill="#000"/>
<line x1="655.5" y1="440.53" x2="655.5" y2="444.56" stroke="#999" stroke-width="0.7" />
<line x1="654.2" y1="440.53" x2="656.8" y2="440.53" stroke="#999" stroke-width="0.7" />
<path d="M655.5 439.22 L658.98 445.12 L652.02 445.12Z" fill="#000"/>
<path d="M655.5 444.86 L658.98 438.97 L652.02 438.97Z" fill="#000"/>
<path d="M655.5 438.58 L658.68 442.21 L655.5 445.84 L652.32 442.21Z" fill="#000"/>
<line x1="655.5" y1="439.18" x2="655.5" y2="443.22" stroke="#999" stroke-width="0.7" />
<line x1="654.2" y1="439.18" x2="656.8" y2="439.18" stroke="#999" stroke-width="0.7" />
<path d="M652.48 441.2 L657.92 437.87 L657.92 444.53Z" fill="#000"/>
<line x1="655.5" y1="440.36" x2="655.5" y2="444.4" stroke="#999" stroke-width="0.7" />
<line x1="654.2" y1="440.36" x2="656.8" y2="440.36" stroke="#999" stroke-width="0.7" />
<path d="M658.52 442.38 L653.08 439.05 L653.08 445.7Z" fill="#000"/>
<path d="M662.88 439.54 L665.9 441.73 L664.75 445.28 L661.01 445.28 L659.86 441.73Z" fill="#000"/>
<circle cx="662.88" cy="441.2" r="2.87" fill="#000"/>
<circle cx="662.88" cy="441.45" r="2.87" fill="#000"/>
<line x1="662.88" y1="440.44" x2="662.88" y2="444.48" stroke="#999" stroke-width="0.7" />
<line x1="661.58" y1="440.44" x2="664.18" y2="440.44" stroke="#999" stroke-width="0.7" />
<path d="M660.4 439.98 L665.36 439.98 L665.36 444.94 L660.4 444.94Z" fill="#000"/>
<path d="M662.88 439.64 L666.36 445.54 L659.4 445.54Z" fill="#000"/>
<line x1="662.88" y1="439.94" x2="662.88" y2="443.98" stroke="#999" stroke-width="0.7" />
<line x1="661.58" y1="439.94" x2="664.18" y2="439.94" stroke="#999" stroke-width="0.7" />
<path d="M662.88 445.28 L666.36 439.39 L659.4 439.39Z" fill="#000"/>
<path d="M662.88 438.08 L666.06 441.7 L662.88 445.33 L659.7 441.7Z" fill="#000"/>
<line x1="662.88" y1="441.2" x2="662.88" y2="445.24" stroke="#999" stroke-width="0.7" />
<line x1="661.58" y1="441.2" x2="664.18" y2="441.2" stroke="#999" stroke-width="0.7" />
<path d="M659.86 443.22 L665.3 439.89 L665.3 446.55Z" fill="#000"/>
<line x1="662.88" y1="440.19" x2="662.88" y2="444.23" stroke="#999" stroke-width="0.7" />
<line x1="661.58" y1="440.19" x2="664.18" y2="440.19" stroke="#999" stroke-width="0.7" />
<path d="M665.9 442.21 L660.46 438.88 L660.46 445.54Z" fill="#000"/>
</svg></body></html>
